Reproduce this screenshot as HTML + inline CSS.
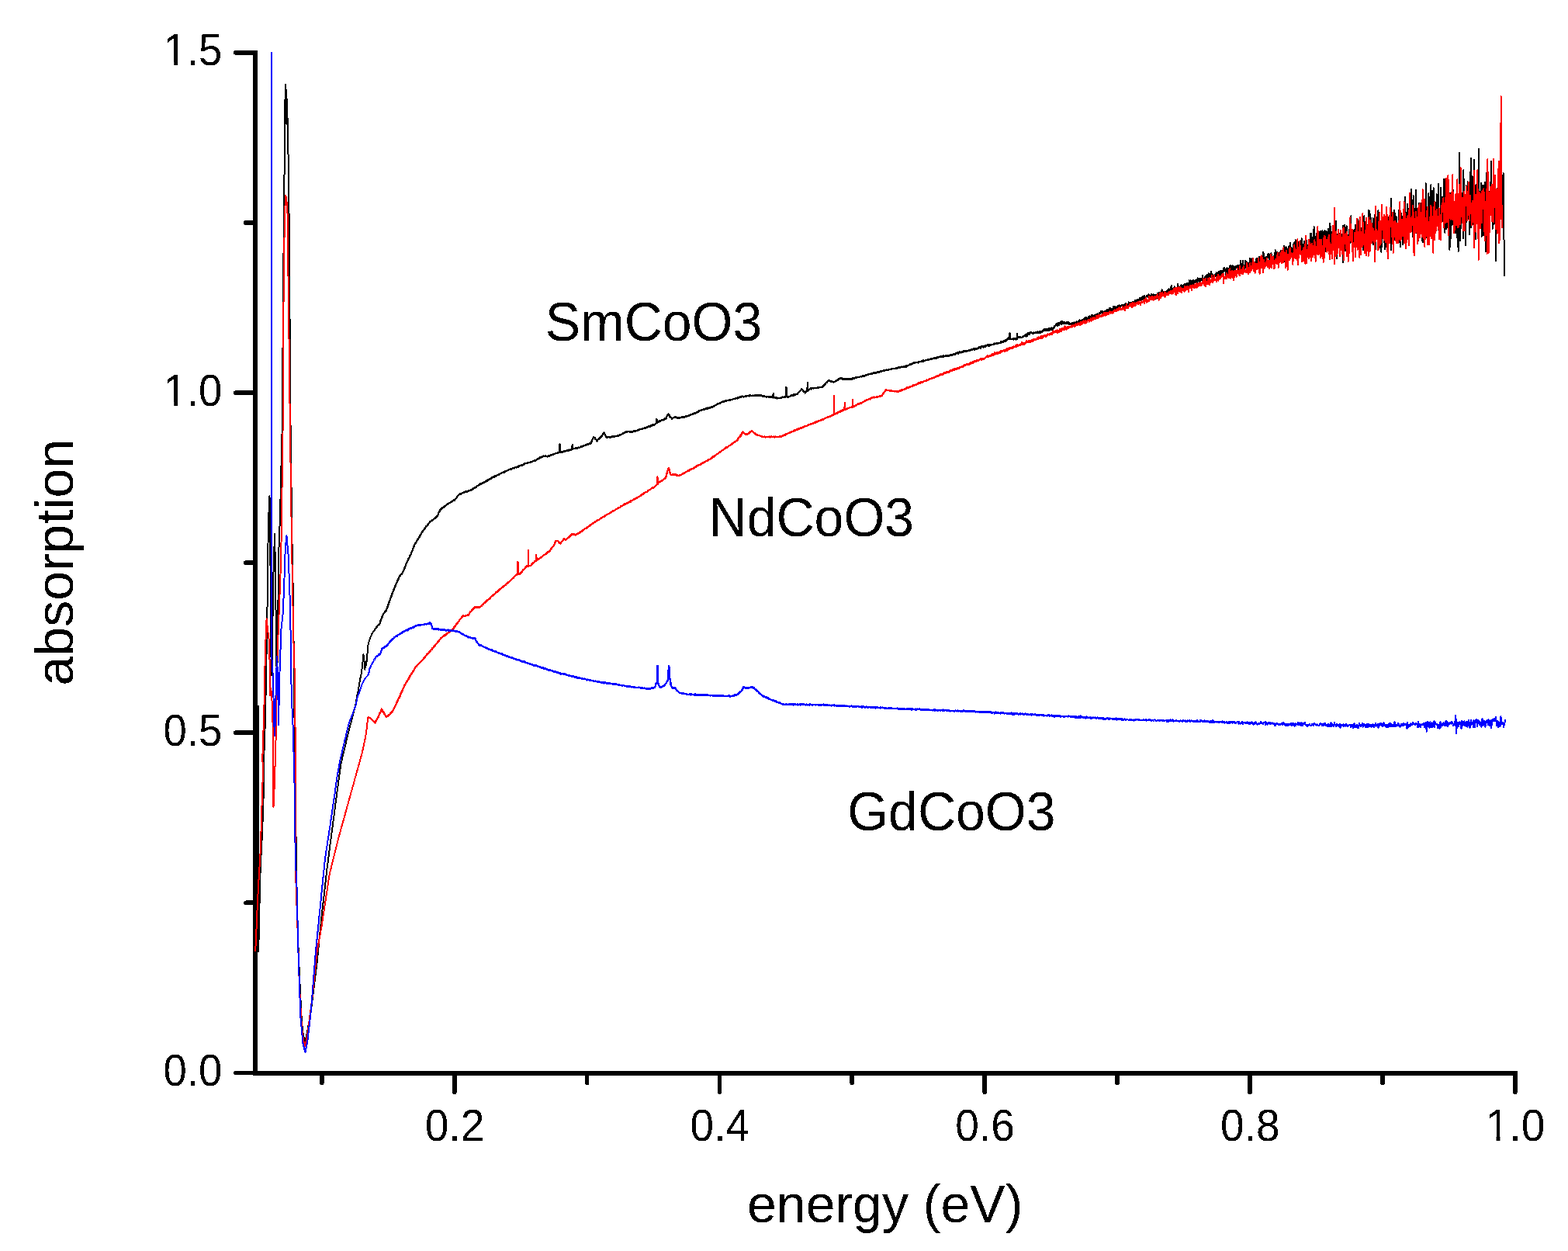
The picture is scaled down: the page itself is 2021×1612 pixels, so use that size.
<!DOCTYPE html>
<html><head><meta charset="utf-8"><title>absorption vs energy</title>
<style>html,body{margin:0;padding:0;background:#fff;overflow:hidden}svg{display:block}</style>
</head><body>
<svg width="2021" height="1612" viewBox="0 0 2021 1612" font-family="'Liberation Sans', Arial, sans-serif">
<defs><filter id="bin" x="0" y="0" width="2021" height="1612" filterUnits="userSpaceOnUse" color-interpolation-filters="sRGB"><feComponentTransfer><feFuncA type="discrete" tableValues="0 1"/></feComponentTransfer></filter></defs>
<rect width="2021" height="1612" fill="#fff"/>

<g filter="url(#bin)">
<path d="M329.0 64.9V1385.4" stroke="#000" stroke-width="5.7" fill="none"/>
<path d="M326.1 1382.6H1955.6" stroke="#000" stroke-width="5.7" fill="none"/>
<path d="M327.5 1382.5H303.9M327.5 944.2H303.9M327.5 506.0H303.9M327.5 67.8H303.9M327.5 1163.4H316.9M327.5 725.1H316.9M327.5 286.9H316.9M585.7 1384.1V1407.2M927.5 1384.1V1407.2M1269.2 1384.1V1407.2M1611.0 1384.1V1407.2M1952.7 1384.1V1407.2M414.8 1384.1V1395.2M756.6 1384.1V1395.2M1098.3 1384.1V1395.2M1440.1 1384.1V1395.2M1781.9 1384.1V1395.2" stroke="#000" stroke-width="5.7" stroke-linecap="round" fill="none"/>
</g>
<g fill="none" stroke-width="2" stroke-linejoin="round" stroke-linecap="butt" shape-rendering="crispEdges">
<path stroke="#000" d="M332.6 909.0L332.6 1130.0L333.2 1226.0L334.2 1180.0L335.1 1134.0L336.6 1100.0L338.0 1074.0L339.2 1040.0L340.3 1000.0L340.2 976.0L341.5 940.0L342.3 907.0L343.2 860.0L344.3 800.0L345.5 700.0L346.5 660.0L347.5 639.0L348.3 700.0L349.3 840.0L350.3 870.0L351.5 795.0L352.8 720.0L354.2 688.0L355.2 760.0L356.3 853.0L357.2 880.0L358.2 800.0L359.2 714.0L361.0 665.0L362.5 600.0L363.5 560.0L364.5 450.0L365.2 351.0L366.1 281.0L367.0 160.0L367.6 122.0L368.3 109.0L368.9 125.0L369.5 160.0L370.1 128.0L370.7 162.0L371.0 173.5L372.2 234.0L373.0 340.0L374.6 560.0L376.5 700.0L377.7 760.0L378.3 800.0L379.0 886.0L380.5 1000.0L381.8 1100.0L383.0 1183.0L386.0 1257.6L388.9 1317.2L391.0 1335.0L393.4 1342.0L396.0 1330.0L400.9 1302.8L401.4 1298.1L401.9 1294.2L402.4 1289.9L402.9 1286.0L403.4 1281.9L403.9 1278.2L404.4 1273.9L404.9 1269.9L405.4 1266.3L405.9 1261.6L406.4 1258.2L406.9 1253.9L407.4 1249.7L407.9 1245.9L408.4 1241.6L408.9 1236.8L409.4 1231.7L409.9 1227.2L410.4 1222.1L410.9 1217.1L411.4 1211.5L411.9 1206.8L412.4 1202.2L412.9 1197.1L413.4 1191.9L413.9 1186.9L414.4 1182.4L414.9 1177.2L415.4 1173.0L415.9 1168.5L416.4 1164.7L416.9 1159.6L417.4 1155.5L417.9 1151.5L418.4 1146.6L418.9 1142.3L419.4 1137.9L419.9 1133.6L420.4 1129.6L420.9 1124.3L421.4 1120.1L421.9 1116.4L422.4 1112.8L422.9 1108.3L423.4 1104.9L423.9 1100.9L424.4 1097.1L424.9 1092.8L425.4 1088.9L425.9 1085.6L426.4 1081.7L426.9 1077.9L427.4 1073.8L427.9 1070.7L428.4 1066.5L428.9 1063.4L429.4 1058.8L429.9 1055.2L430.4 1051.5L430.9 1047.4L431.4 1043.5L431.9 1039.8L432.4 1036.2L432.9 1032.3L433.4 1029.1L433.9 1024.7L434.4 1021.3L434.9 1017.5L435.4 1013.6L435.9 1009.5L436.4 1006.2L436.9 1002.5L437.4 998.7L437.9 995.2L438.4 991.2L438.9 988.0L439.4 984.7L439.9 982.2L440.4 980.2L440.9 977.9L441.4 975.9L441.9 973.5L442.4 971.9L442.9 969.8L443.4 967.5L443.9 965.7L444.4 963.3L444.9 961.2L445.4 959.1L445.9 957.6L446.4 954.6L446.9 953.0L447.4 950.8L447.9 948.8L448.4 946.3L448.9 944.8L449.4 942.7L449.9 940.3L450.4 938.4L450.9 936.6L451.4 934.9L451.9 932.4L452.4 931.2L452.9 928.9L453.4 927.3L453.9 925.0L454.4 923.8L454.9 921.5L455.4 919.9L455.9 917.4L456.4 915.5L456.9 914.1L457.4 912.1L457.9 910.1L458.4 907.6L458.9 904.6L459.4 901.7L459.9 898.5L460.4 895.8L460.9 894.0L461.4 891.4L461.9 888.5L462.4 886.2L462.9 882.8L463.4 879.7L463.9 876.9L464.4 873.9L464.9 872.0L465.4 869.7L465.9 866.6L466.4 863.0L466.9 858.9L467.4 854.3L467.9 847.6L468.4 843.0L468.9 846.6L469.4 851.7L469.9 858.7L470.4 863.0L470.9 854.8L471.4 852.2L471.9 857.1L472.4 854.4L472.9 848.4L473.4 843.5L473.9 837.0L474.4 831.8L474.9 829.8L475.4 827.5L475.9 825.4L476.4 824.2L476.9 822.5L477.4 821.6L477.9 819.9L478.4 819.5L478.9 818.4L479.4 816.9L479.9 816.3L480.4 815.2L480.9 814.6L481.4 813.8L481.9 812.8L482.4 812.2"/>
<path stroke="#000" stroke-width="2.4" d="M482.4 812.2L482.9 811.8L483.4 810.8L483.9 810.4L484.4 809.5L484.9 808.8L485.4 807.8L485.9 807.6L486.4 806.5L486.9 806.2L487.4 805.5L487.9 805.4L488.4 804.5L488.9 804.5L489.4 803.8L489.9 802.1L490.4 800.1L490.9 799.5L491.4 798.0L491.9 796.8L492.4 795.4L492.9 794.3L493.4 793.0L493.9 791.8L494.4 790.8L494.9 790.4L495.4 789.9L495.9 788.6L496.4 788.4L496.9 787.2L497.4 787.2L497.9 786.6L498.4 784.9L498.9 783.2L499.4 782.1L499.9 780.8L500.4 779.5L500.9 778.0L501.4 776.5L501.9 774.6L502.4 773.5L502.9 772.3L503.4 770.8L503.9 769.0L504.4 768.1L504.9 766.6L505.4 765.5L505.9 764.2L506.4 762.5L506.9 761.4L507.4 760.4L507.9 758.9L508.4 757.9L508.9 756.5L509.4 755.3L509.9 754.4L510.4 752.9L510.9 751.6L511.4 750.9L511.9 749.3L512.4 748.2L512.9 747.0L513.4 746.6L513.9 744.8L514.4 743.7L514.9 742.5L515.4 742.2L515.9 741.7L516.4 740.5L516.9 740.3L517.4 740.0L517.9 739.4L518.4 738.4L518.9 738.3L519.4 736.9L519.9 736.3L520.4 734.9L520.9 733.3L521.4 732.5L521.9 730.7L522.4 729.6L522.9 728.4L523.4 726.9L523.9 726.2L524.4 724.6L524.9 723.3L525.4 722.7L525.9 721.6L526.4 720.3L526.9 719.5L527.4 718.8L527.9 717.8L528.4 716.2L528.9 715.9L529.4 714.9L529.9 713.7L530.4 712.0L530.9 710.7L531.4 709.6L531.9 708.2L532.4 707.0L532.9 705.7L533.4 704.5L533.9 703.2L534.4 702.0L534.9 701.2L535.4 700.2L535.9 699.3L536.4 698.9L536.9 697.9L537.4 696.9L537.9 695.7L538.4 695.2L538.9 694.1L539.4 693.5L539.9 692.6L540.4 692.4L540.9 690.9L541.4 689.9L541.9 689.6L542.4 688.8L542.9 688.1L543.4 686.3L543.9 685.9L544.4 685.1L544.9 684.1L545.4 683.8L545.9 683.2L546.4 682.7L546.9 682.0L547.4 681.1L547.9 680.9L548.4 679.9L548.9 678.5L549.4 678.5L549.9 677.7L550.4 677.4L550.9 676.5L551.4 675.9L551.9 675.7L552.4 674.5L552.9 673.7L553.4 673.5L553.9 673.0L554.4 672.2L554.9 671.9L555.4 671.4L555.9 670.8L556.4 670.6L556.9 670.2L557.4 670.4L557.9 669.7L558.4 669.7L558.9 669.0L559.4 668.4L559.9 668.3L560.4 668.0L560.9 667.9L561.4 666.7L561.9 666.8L562.4 666.6L562.9 666.0L563.4 665.3L563.9 664.2L564.4 663.7L564.9 662.6L565.4 660.8L565.9 659.9L566.4 659.1L566.9 658.3L567.4 657.3L567.9 656.2L568.4 656.0L568.9 655.7L569.4 655.1L569.9 654.6L570.4 654.4L570.9 653.8L571.4 653.9L571.9 653.5L572.4 652.7L572.9 652.9L573.4 652.2L573.9 652.1L574.4 651.5L574.9 651.1L575.4 650.9L575.9 650.2L576.4 650.0L576.9 649.4L577.4 649.5L577.9 649.0L578.4 648.7L578.9 648.3L579.4 648.3L579.9 647.9L580.4 647.5L580.9 647.1L581.4 647.3L581.9 647.0L582.4 646.0L582.9 646.3L583.4 645.8L583.9 645.4L584.4 645.1L584.9 644.4L585.4 645.0L585.9 644.6L586.4 643.8L586.9 643.2L587.4 642.6L587.9 641.8L588.4 641.5L588.9 640.7L589.4 639.8L589.9 639.4L590.4 638.7L590.9 638.1L591.4 637.6L591.9 637.2L592.4 636.6L592.9 636.1L593.4 636.7L593.9 636.0L594.4 636.3L594.9 635.8L595.4 635.6L595.9 635.1L596.4 635.1L596.9 634.8L597.4 634.7L597.9 634.6L598.4 634.3L598.9 634.4L599.4 633.7L599.9 633.6L600.4 633.8L600.9 633.6L601.4 633.6L601.9 633.6L602.4 633.1L602.9 633.0L603.4 632.7L603.9 632.5L604.4 632.3L604.9 632.2L605.4 631.9L605.9 631.8L606.4 631.9L606.9 631.6L607.4 631.6L607.9 630.9L608.4 630.6L608.9 630.5L609.4 629.9L609.9 629.6L610.4 629.7L610.9 629.2L611.4 629.2L611.9 628.7L612.4 628.3L612.9 627.8L613.4 628.0L613.9 627.3L614.4 626.8L614.9 626.3L615.4 626.0L615.9 625.8L616.4 625.9L616.9 625.0L617.4 625.0L617.9 624.6L618.4 623.4L618.9 623.7L619.4 623.9L619.9 623.0L620.4 623.5L620.9 623.0L621.4 622.3L621.9 622.9L622.4 622.2L622.9 622.3L623.4 621.7L623.9 621.3L624.4 621.5L624.9 621.4L625.4 621.0L625.9 620.1L626.4 620.3L626.9 619.6L627.4 619.5L627.9 619.7L628.4 618.7L628.9 619.4L629.4 618.1L629.9 617.9L630.4 618.1L630.9 617.6L631.4 617.3L631.9 616.9L632.4 617.0L632.9 616.6L633.4 616.2L633.9 615.8L634.4 615.3L634.9 615.4L635.4 614.6L635.9 614.7L636.4 614.8L636.9 614.5L637.4 614.0L637.9 613.2L638.4 613.8L638.9 613.6L639.4 613.1L639.9 613.2L640.4 612.9L640.9 611.9L641.4 612.1L641.9 611.7L642.4 612.0L642.9 611.6L643.4 611.2L643.9 611.0L644.4 610.8L644.9 610.2L645.4 610.1L645.9 609.9L646.4 609.6L646.9 609.4L647.4 609.3L647.9 608.7L648.4 608.5L648.9 608.8L649.4 608.7L649.9 608.6L650.4 607.4L650.9 607.8L651.4 607.2L651.9 607.1L652.4 606.9L652.9 606.9L653.4 606.7L653.9 605.7L654.4 605.9L654.9 606.1L655.4 605.7L655.9 605.0L656.4 604.9L656.9 604.8L657.4 605.1L657.9 605.1L658.4 604.2L658.9 604.5L659.4 604.1L659.9 604.1L660.4 603.7L660.9 603.3L661.4 603.3L661.9 603.1L662.4 603.5L662.9 602.7L663.4 602.9L663.9 602.4L664.4 602.2L664.9 602.3L665.4 601.9L665.9 602.4L666.4 602.0L666.9 601.2L667.4 601.5L667.9 601.5L668.4 600.6L668.9 600.7L669.4 600.9L669.9 600.1L670.4 600.3L670.9 599.9L671.4 599.8L671.9 599.3L672.4 599.4L672.9 599.1L673.4 599.4L673.9 598.9L674.4 598.6L674.9 598.4L675.4 598.4L675.9 597.6L676.4 597.5L676.9 597.4L677.4 597.2L677.9 596.8L678.4 597.2L678.9 596.8L679.4 597.1L679.9 596.6L680.4 596.3L680.9 596.4L681.4 596.2L681.9 595.9L682.4 596.0L682.9 596.0L683.4 595.4L683.9 595.7L684.4 595.2L684.9 595.3L685.4 594.9L685.9 594.7L686.4 594.7L686.9 594.2L687.4 593.9L687.9 594.2L688.4 594.0L688.9 593.6L689.4 594.1L689.9 593.4L690.4 592.8L690.9 592.8L691.4 592.5L691.9 592.0L692.4 591.8L692.9 591.1L693.4 591.3L693.9 591.4L694.4 590.9L694.9 590.6L695.4 589.9L695.9 589.6L696.4 589.9L696.9 589.5L697.4 589.2L697.9 589.0L698.4 589.1L698.9 588.8L699.4 588.3L699.9 588.2L700.4 587.6L700.9 587.6L701.4 588.0L701.9 587.7L702.4 587.6L702.9 587.9L703.4 588.2L703.9 587.6L704.4 587.8L704.9 587.8L705.4 588.5L705.9 588.1L706.4 587.9L706.9 587.5L707.4 588.1L707.9 587.8L708.4 587.4L708.9 587.1L709.4 586.9L709.9 586.4L710.4 586.6L710.9 586.3L711.4 586.0L711.9 586.0L712.4 585.4L712.9 585.9L713.4 585.4L713.9 584.9L714.4 585.2L714.9 585.0L715.4 584.5L715.9 584.1L716.4 584.2L716.9 584.1L717.4 584.0L717.9 583.9L718.4 583.7L718.9 583.0L719.4 583.3L719.9 582.7L720.4 583.3L720.9 583.1L721.2 583.1L721.5 572.7L721.8 583.1L721.9 582.8L722.4 582.7L722.9 582.5L723.4 581.8L723.9 582.4L724.4 582.9L724.9 582.5L725.4 582.0L725.9 582.0L726.4 581.9L726.9 581.5L727.4 581.5L727.9 581.5L728.4 581.2L728.9 581.3L729.4 581.3L729.9 581.1L730.4 580.8L730.9 580.6L731.4 580.7L731.9 580.3L732.4 580.1L732.9 580.5L733.4 579.9L733.9 579.6L734.4 580.0L734.9 579.8L735.4 579.8L735.9 579.4L736.4 579.6L736.9 579.1L737.4 578.7L737.5 578.7L737.8 572.7L738.1 578.7L738.4 578.7L738.9 578.2L739.4 578.2L739.9 578.2L740.4 577.9L740.9 577.9L741.4 577.8L741.9 577.5L742.4 577.7L742.9 577.6L743.4 576.9L743.9 577.1L744.4 577.4L744.9 577.2L745.4 576.5L745.9 576.9L746.4 577.0L746.9 576.7L747.4 576.4L747.9 576.0L748.4 575.9L748.9 575.4L749.4 575.5L749.9 575.9L750.4 575.1L750.9 574.7L751.4 574.9L751.9 574.0L752.4 574.9L752.9 574.3L753.4 573.9L753.9 573.7L754.4 573.4L754.9 573.5L755.4 573.3L755.9 572.7L756.4 573.2L756.9 572.6L757.4 572.3L757.9 572.6L758.4 572.4L758.9 571.9L759.4 571.7L759.9 571.9L760.4 571.4L760.9 571.4L761.4 571.5L761.9 570.4L762.4 569.1L762.9 568.1L763.4 566.9L763.9 565.8L764.4 564.9L764.9 563.3L765.4 563.7L765.9 563.9L766.4 563.9L766.9 564.9L767.4 565.7L767.9 566.4L768.4 566.5L768.9 567.2L769.4 568.4L769.9 567.4L770.4 566.7L770.9 566.1L771.4 565.9L771.9 565.6L772.4 564.8L772.9 565.0L773.4 564.0L773.9 563.2L774.4 563.4L774.9 562.8L775.4 562.3L775.9 562.2L776.4 560.7L776.9 559.9L777.4 558.4L777.9 557.8L778.4 557.5L778.9 558.5L779.4 559.6L779.9 560.4L780.4 561.5L780.9 562.4L781.4 563.6L781.9 563.4L782.4 563.2L782.9 563.4L783.4 563.4L783.9 563.0L784.4 563.1L784.9 562.8L785.4 563.2L785.9 563.3L786.4 563.7L786.9 563.1L787.4 563.3L787.9 563.3L788.4 563.1L788.9 562.4L789.4 562.7L789.9 562.8L790.4 562.7L790.9 562.6L791.4 562.2L791.9 561.9L792.4 562.3L792.9 562.4L793.4 561.9L793.9 562.1L794.4 561.7L794.9 561.7L795.4 561.5L795.9 561.7L796.4 561.2L796.9 561.3L797.4 561.4L797.9 561.1L798.4 560.7L798.9 561.0L799.4 560.6L799.9 560.0L800.4 560.0L800.9 559.7L801.4 559.7L801.9 559.1L802.4 559.0L802.9 558.9L803.4 558.0L803.9 558.4L804.4 557.9L804.9 557.4L805.4 557.4L805.9 557.3L806.4 556.6L806.9 556.4L807.4 556.6L807.9 556.4L808.4 556.5L808.9 556.1L809.4 555.9L809.9 555.9L810.4 556.1L810.9 555.9L811.4 556.3L811.9 556.5L812.4 556.0L812.9 556.6L813.4 556.1L813.9 556.2L814.4 556.0L814.9 556.6L815.4 556.3L815.9 556.2L816.4 555.3L816.9 555.7L817.4 555.8L817.9 554.9L818.4 555.9L818.9 555.3L819.4 555.4L819.9 554.9L820.4 555.0L820.9 555.0L821.4 555.1L821.9 554.1L822.4 554.7L822.9 553.7L823.4 553.9L823.9 553.6L824.4 553.5L824.9 552.9L825.4 553.2L825.9 552.8L826.4 552.9L826.9 552.8L827.4 552.6L827.9 552.4L828.4 552.7L828.9 552.2L829.4 552.1L829.9 552.2L830.4 551.7L830.9 551.5L831.4 551.5L831.9 551.1L832.4 551.3L832.9 550.7L833.4 550.7L833.9 550.5L834.4 550.3L834.9 550.2L835.4 550.0L835.9 549.3L836.4 550.0L836.9 549.5L837.4 549.6L837.9 549.0L838.4 549.3L838.9 548.6L839.4 549.2L839.9 548.6L840.4 548.4L840.9 547.6L841.4 547.6L841.9 547.9L842.4 547.7L842.9 547.5L843.4 547.4L843.9 547.3L844.4 546.6L844.9 546.2L845.4 545.7L845.9 545.2L846.1 545.1L846.4 540.1L846.7 545.1L846.9 544.5L847.4 544.1L847.9 543.9L848.4 543.6L848.9 543.6L849.4 543.4L849.9 542.6L850.4 542.5L850.9 542.8L851.4 542.2L851.9 542.3L852.4 541.7L852.9 541.1L853.4 540.9L853.9 541.1L854.4 540.9L854.9 541.4L855.4 540.8L855.9 540.6L856.4 540.4L856.9 539.6L857.4 539.8L857.9 539.6L858.4 539.7L858.9 538.0L859.4 536.8L859.9 536.1L860.4 535.0L860.9 534.1L861.4 533.7L861.9 534.4L862.4 534.9L862.9 535.6L863.4 536.9L863.9 536.9L864.4 537.8L864.9 538.1L865.4 538.6L865.9 539.5L866.4 539.1L866.9 539.1L867.4 538.8L867.9 538.4L868.4 537.9L868.9 538.3L869.4 537.6L869.9 537.8L870.4 537.4L870.9 537.6L871.4 537.7L871.9 537.8L872.4 537.8L872.9 538.7L873.4 538.0L873.9 538.0L874.4 538.7L874.9 538.4L875.4 538.7L875.9 538.3L876.4 538.6L876.9 538.2L877.4 537.9L877.9 537.9L878.4 538.0L878.9 537.6L879.4 537.4L879.9 537.5L880.4 537.5L880.9 537.6L881.4 537.3L881.9 537.3L882.4 537.0L882.9 537.4L883.4 537.3L883.9 536.5L884.4 536.7L884.9 536.5L885.4 536.5L885.9 536.2L886.4 536.0L886.9 535.7L887.4 535.6L887.9 535.5L888.4 535.6L888.9 535.2L889.4 534.8L889.9 534.5L890.4 534.1L890.9 534.4L891.4 534.0L891.9 533.9L892.4 533.8L892.9 533.5L893.4 533.1L893.9 532.8L894.4 532.5L894.9 532.3L895.4 532.4L895.9 532.6L896.4 531.7L896.9 531.7L897.4 532.2L897.9 531.2L898.4 530.9L898.9 530.7L899.4 530.5L899.9 529.8L900.4 530.3L900.9 529.4L901.4 529.5L901.9 529.3L902.4 529.3L902.9 528.9L903.4 528.7L903.9 528.5L904.4 528.6L904.9 528.3L905.4 528.0L905.9 527.7L906.4 527.7L906.9 527.8L907.4 527.2L907.9 527.5L908.4 527.3L908.9 527.4L909.4 526.8L909.9 526.6L910.4 526.7L910.9 526.5L911.4 525.7L911.9 526.5L912.4 526.2L912.9 526.0L913.4 525.6L913.9 525.7L914.4 525.4L914.9 525.7L915.4 525.4L915.9 525.4L916.4 524.6L916.9 524.5L917.4 524.5L917.9 524.2L918.4 524.5L918.9 524.0L919.4 523.4L919.9 523.3L920.4 523.6L920.9 522.8L921.4 522.8L921.9 522.0L922.4 522.0L922.9 521.9L923.4 521.6L923.9 521.4L924.4 521.3L924.9 521.2L925.4 520.2L925.9 520.4L926.4 520.3L926.9 520.0L927.4 520.0L927.9 519.4L928.4 519.1L928.9 518.7L929.4 518.9L929.9 518.1L930.4 518.1L930.9 517.9L931.4 517.9L931.9 517.6L932.4 517.3L932.9 517.6L933.4 517.0L933.9 517.0L934.4 516.5L934.9 516.9L935.4 516.8L935.9 516.2L936.4 516.5L936.9 516.5L937.4 516.1L937.9 515.7L938.4 516.0L938.9 516.0L939.4 515.3L939.9 515.8L940.4 515.5L940.9 515.6L941.4 515.0L941.9 515.4L942.4 515.1L942.9 515.1L943.4 514.8L943.9 514.8L944.4 514.4L944.9 514.2L945.4 513.9L945.9 513.7L946.4 513.9L946.9 513.7L947.4 513.6L947.9 513.4L948.4 513.4L948.9 513.2L949.4 512.9L949.9 513.1L950.4 513.3L950.9 512.4L951.4 512.4L951.9 512.5L952.4 512.1L952.9 512.4L953.4 511.8L953.9 511.5L954.4 511.4L954.9 511.8L955.4 510.9L955.9 511.3L956.4 510.6L956.9 511.3L957.4 511.1L957.9 511.1L958.4 511.4L958.9 510.7L959.4 511.0L959.9 510.7L960.4 510.8L960.9 510.2L961.4 510.6L961.9 510.2L962.4 510.5L962.9 510.3L963.4 510.0L963.9 510.1L964.4 510.0L964.9 509.8L965.4 510.4L965.9 509.5L966.4 509.4L966.9 509.4L967.4 509.7L967.9 509.7L968.4 509.9L968.9 510.0L969.4 509.8L969.9 509.8L970.4 509.5L970.9 510.0L971.4 510.1L971.9 509.7L972.4 509.9L972.9 509.6L973.4 509.7L973.9 509.8L974.4 510.0L974.9 509.4L975.4 509.8L975.9 510.0L976.4 509.8L976.9 509.9L977.4 509.1L977.9 509.5L978.4 509.6L978.9 509.5L979.4 509.2L979.9 510.0L980.4 509.9L980.9 509.4L981.4 509.9L981.9 510.1L982.4 510.5L982.9 510.5L983.4 510.2L983.9 510.4L984.4 510.7L984.9 511.0L985.4 510.7L985.9 510.8L986.4 511.2L986.9 511.2L987.4 511.6L987.9 511.4L988.4 511.5L988.9 510.8L989.4 511.0L989.9 511.0L990.4 511.3L990.9 511.6L991.4 511.5L991.9 511.7L992.4 511.4L992.9 511.9L993.4 511.9L993.9 511.3L994.4 511.5L994.9 511.6L995.4 512.0L995.9 512.1L996.4 512.4L996.5 511.6L996.8 506.7L997.1 511.6L997.4 512.2L997.9 512.2L998.4 512.3L998.9 512.4L999.4 512.0L999.9 512.7L1000.4 512.6L1000.9 512.5L1001.4 513.3L1001.9 512.9L1002.4 513.2L1002.9 513.1L1003.4 512.9L1003.9 513.2L1004.4 513.3L1004.9 512.8L1005.4 513.0L1005.9 513.2L1006.4 512.9L1006.9 512.4L1007.4 512.1L1007.9 512.4L1008.4 511.7L1008.9 511.6L1009.4 512.2L1009.9 511.7L1010.4 511.6L1010.9 511.2L1011.4 511.9L1011.9 512.0L1012.4 511.2L1012.9 511.4L1013.1 511.1L1013.4 499.3L1013.7 511.1L1013.9 511.3L1014.4 511.6L1014.9 511.5L1015.4 511.2L1015.9 511.3L1016.4 511.9L1016.9 511.3L1017.4 511.3L1017.9 510.9L1018.4 510.5L1018.9 510.1L1019.4 510.0L1019.9 509.6L1020.4 509.6L1020.9 509.5L1021.4 509.7L1021.9 509.0L1022.4 509.3L1022.9 508.6L1023.4 509.6L1023.9 508.6L1024.4 508.6L1024.9 508.8L1025.4 508.2L1025.9 508.1L1026.4 507.9L1026.9 507.9L1027.4 507.4L1027.9 507.6L1028.4 506.9L1028.9 506.1L1029.4 505.9L1029.9 505.1L1030.4 504.4L1030.9 504.0L1031.4 503.7L1031.9 502.7L1032.4 502.5L1032.9 502.1L1033.4 501.2L1033.9 502.2L1034.4 502.5L1034.9 503.4L1035.4 503.9L1035.9 504.7L1036.4 505.0L1036.9 505.3L1037.4 505.1L1037.9 506.4L1038.4 504.7L1038.9 504.5L1039.4 504.0L1039.9 504.4L1040.4 503.9L1040.6 503.6L1040.9 493.4L1041.2 503.6L1041.4 502.7L1041.9 503.0L1042.4 502.1L1042.9 502.3L1043.4 501.6L1043.9 500.7L1044.4 500.9L1044.9 500.5L1045.4 501.3L1045.9 500.3L1046.4 500.5L1046.9 500.4L1047.4 500.2L1047.9 500.2L1048.4 500.3L1048.9 500.3L1049.4 500.0L1049.9 500.0L1050.4 500.0L1050.9 499.7L1051.4 499.8L1051.9 499.8L1052.4 500.0L1052.9 499.8L1053.4 499.7L1053.9 499.7L1054.4 499.2L1054.9 499.6L1055.4 499.2L1055.9 499.2L1056.4 499.0L1056.9 499.2L1057.4 498.8L1057.9 499.1L1058.4 498.8L1058.9 498.7L1059.4 498.8L1059.9 498.4L1060.4 498.7L1060.9 497.6L1061.4 497.1L1061.9 497.0L1062.4 495.8L1062.9 495.8L1063.4 495.1L1063.9 494.5L1064.4 494.0L1064.9 493.2L1065.4 493.3L1065.9 492.4L1066.4 491.9L1066.9 491.4L1067.4 490.9L1067.9 490.6L1068.4 490.4L1068.9 490.4L1069.4 490.6L1069.9 491.0L1070.4 491.5L1070.9 491.0L1071.4 491.4L1071.9 491.8L1072.4 491.7L1072.9 491.9L1073.4 491.8L1073.9 492.3L1074.4 492.3L1074.9 492.4L1075.4 492.2L1075.9 492.1L1076.4 491.9L1076.9 491.1L1077.4 491.2L1077.9 490.5L1078.4 490.0L1078.9 489.9L1079.4 489.8L1079.9 489.5L1080.4 489.3L1080.9 488.3L1081.4 488.9L1081.9 488.4L1082.4 488.1L1082.9 487.2L1083.4 487.6L1083.9 487.5L1084.4 487.6L1084.9 487.9L1085.4 487.7L1085.9 488.5L1086.4 488.6L1086.9 488.7L1087.4 488.9L1087.9 488.1L1088.4 488.5L1088.9 488.5L1089.4 488.2L1089.9 488.7L1090.4 489.1L1090.9 488.2L1091.4 488.6L1091.9 488.5L1092.4 488.5L1092.9 488.5L1093.4 488.6L1093.9 488.2L1094.4 488.3L1094.9 488.8L1095.4 488.4L1095.9 488.3L1096.4 487.9L1096.9 488.4L1097.4 488.5L1097.9 488.3L1098.4 488.5L1098.9 487.5L1099.4 488.1L1099.9 487.3L1100.4 487.3L1100.9 487.0L1101.4 487.5L1101.9 487.1L1102.4 486.9L1102.9 486.9L1103.4 486.2L1103.9 486.5L1104.4 486.6L1104.9 486.2L1105.4 486.2L1105.9 485.7L1106.4 486.0L1106.9 485.7L1107.4 485.7L1107.9 485.9L1108.4 485.4L1108.9 485.1L1109.4 485.2L1109.9 484.7L1110.4 485.3L1110.9 484.7L1111.4 484.6L1111.9 484.6L1112.4 484.0L1112.9 484.2L1113.4 484.0L1113.9 484.5L1114.4 484.2L1114.9 484.1L1115.4 483.5L1115.9 483.4L1116.4 483.5L1116.9 483.0L1117.4 482.8L1117.9 483.3L1118.4 482.9L1118.9 482.8L1119.4 482.1L1119.9 482.3L1120.4 482.2L1120.9 482.0L1121.4 482.1L1121.9 481.7L1122.4 481.5L1122.9 482.2L1123.4 481.7L1123.9 481.2L1124.4 481.9L1124.9 481.3L1125.4 481.2L1125.9 480.3L1126.4 481.2L1126.9 480.8L1127.4 480.9L1127.9 480.9L1128.4 480.0L1128.9 480.7L1129.4 480.3L1129.9 480.0L1130.4 479.3L1130.9 480.2L1131.4 479.7L1131.9 479.6L1132.4 479.1L1132.9 479.4L1133.4 479.2L1133.9 479.4L1134.4 478.6L1134.9 478.2L1135.4 478.4L1135.9 478.2L1136.4 478.4L1136.9 478.2L1137.4 478.1L1137.9 478.3L1138.4 478.3L1138.9 477.7L1139.4 477.2L1139.9 477.5L1140.4 477.3L1140.9 477.3L1141.4 477.1L1141.9 477.1L1142.4 476.4L1142.9 477.0L1143.4 476.9L1143.9 476.8L1144.4 476.5L1144.9 476.7L1145.4 475.9L1145.9 476.2L1146.4 476.3L1146.9 475.9L1147.4 475.9L1147.9 476.1L1148.4 475.7L1148.9 475.4L1149.4 475.4L1149.9 475.5L1150.4 475.1L1150.9 475.2L1151.4 475.0L1151.9 475.1L1152.4 475.1L1152.9 475.0L1153.4 474.8L1153.9 474.7L1154.4 474.8L1154.9 474.3L1155.4 474.4L1155.9 474.0L1156.4 474.4L1156.9 474.1L1157.4 473.7L1157.9 473.8L1158.4 474.0L1158.9 473.7L1159.4 473.1L1159.9 473.9L1160.4 473.3L1160.9 473.4L1161.4 473.2L1161.9 472.9L1162.4 472.6L1162.9 473.0L1163.4 472.8L1163.9 472.7L1164.4 472.7L1164.9 472.6L1165.4 472.1L1165.9 472.1L1166.4 472.4L1166.9 471.8L1167.4 472.6L1167.9 471.6L1168.4 472.5L1168.9 471.9L1169.4 471.2L1169.9 471.4L1170.4 471.2L1170.9 470.7L1171.4 470.7L1171.9 470.4L1172.4 469.4L1172.9 470.3L1173.4 469.9L1173.9 469.6L1174.4 469.5L1174.9 469.2L1175.4 468.6L1175.9 469.1L1176.4 468.5L1176.9 468.0L1177.4 467.9L1177.9 467.7L1178.4 467.2L1178.9 467.8L1179.4 467.1L1179.9 467.4L1180.4 466.8L1180.9 467.1L1181.4 466.9L1181.9 467.1L1182.4 466.9L1182.9 467.0L1183.4 467.4L1183.9 466.2L1184.4 466.6L1184.9 466.1L1185.4 465.9L1185.9 465.9L1186.4 466.1L1186.9 466.0L1187.4 465.4L1187.9 465.8L1188.4 465.0L1188.9 465.3L1189.4 465.5L1189.9 464.5L1190.4 465.3L1190.9 464.7L1191.4 464.8L1191.9 464.9L1192.4 464.6L1192.9 464.2L1193.4 464.1L1193.9 464.2L1194.4 464.0L1194.9 464.3L1195.4 463.7L1195.9 464.2L1196.4 463.6L1196.9 463.3L1197.4 463.5L1197.9 462.9L1198.4 462.8L1198.9 463.3L1199.4 462.4L1199.9 462.5L1200.4 462.9L1200.9 462.5L1201.4 462.4L1201.9 462.4L1202.4 462.1L1202.9 462.2L1203.4 461.8L1203.9 461.2L1204.4 461.5L1204.9 461.9L1205.4 461.2L1205.9 461.1L1206.4 461.2L1206.9 461.5L1207.4 460.4L1207.9 460.8L1208.4 460.9L1208.9 460.6L1209.4 460.2L1209.9 460.4L1210.4 460.2L1210.9 459.7L1211.4 459.6L1211.9 459.9L1212.4 459.5L1212.9 459.7L1213.4 459.4L1213.9 459.1L1214.4 459.5L1214.9 459.7L1215.4 458.7L1215.9 458.3L1216.4 459.4L1216.9 459.0L1217.4 459.1L1217.9 458.8L1218.4 459.1L1218.9 459.0L1219.4 458.1L1219.9 458.9L1220.4 458.6L1220.9 459.2L1221.4 458.2L1221.9 457.7L1222.4 458.5L1222.9 458.2L1223.4 458.4L1223.9 457.7L1224.4 458.1L1224.9 457.3L1225.4 457.5L1225.9 458.2L1226.4 456.9L1226.9 457.6L1227.4 457.6L1227.9 457.0L1228.4 456.3L1228.9 456.9L1229.4 456.5L1229.9 456.6L1230.4 456.5L1230.9 456.4L1231.4 456.2L1231.9 456.4L1232.4 454.9L1232.9 454.9L1233.4 455.0L1233.9 454.0L1234.4 455.5L1234.9 454.2L1235.4 455.0L1235.9 455.4L1236.4 454.2L1236.9 453.5L1237.4 454.2L1237.9 453.9L1238.4 454.3L1238.9 453.8L1239.4 453.7L1239.9 454.1L1240.4 454.1L1240.9 453.6L1241.4 453.0L1241.9 452.5L1242.4 452.8L1242.9 452.3L1243.4 452.9L1243.9 453.2L1244.4 453.0L1244.9 452.6L1245.4 453.0L1245.9 452.9L1246.4 451.8L1246.9 452.0L1247.4 452.1L1247.9 451.7L1248.4 451.6L1248.9 451.0L1249.4 451.7L1249.9 450.8L1250.4 451.5L1250.9 451.0L1251.4 450.7L1251.9 450.1L1252.4 450.9L1252.9 449.8L1253.4 450.5L1253.9 449.8L1254.4 449.5L1254.9 449.8L1255.4 449.0L1255.9 450.6L1256.4 449.4L1256.9 449.5L1257.4 449.6L1257.9 450.0L1258.4 449.3L1258.9 449.5L1259.4 449.5L1259.9 449.0L1260.4 448.6L1260.9 448.7L1261.4 447.4L1261.9 448.0L1262.4 447.9L1262.9 447.6L1263.4 447.0L1263.9 448.7L1264.4 446.8L1264.9 447.4L1265.4 445.9L1265.9 446.7L1266.4 446.4L1266.9 446.4L1267.4 445.9L1267.9 447.4L1268.4 446.3L1268.9 446.3L1269.4 446.8L1269.9 445.0L1270.4 446.5L1270.9 445.7L1271.4 445.3L1271.9 445.1L1272.4 444.6L1272.9 444.2L1273.4 444.8L1273.9 445.5L1274.4 445.1L1274.9 445.6L1275.4 444.3L1275.9 444.8L1276.4 444.8L1276.9 444.5L1277.4 444.4L1277.9 444.2L1278.4 444.0L1278.9 443.7L1279.4 443.8L1279.9 443.8L1280.4 443.6L1280.9 443.5L1281.4 442.5L1281.9 443.4L1282.4 442.9L1282.9 443.2L1283.4 442.7L1283.9 442.5L1284.4 443.0L1284.9 441.9L1285.4 442.0L1285.9 442.7L1286.4 442.0L1286.9 442.1L1287.4 442.1L1287.9 442.0L1288.4 441.8L1288.9 441.8L1289.4 441.7L1289.9 440.4L1290.4 441.5L1290.9 441.4L1291.4 441.3L1291.9 439.9L1292.4 440.8L1292.9 440.7L1293.4 440.7L1293.9 439.5L1294.4 439.5L1294.9 439.9L1295.4 439.5L1295.9 438.4L1296.4 439.6L1296.9 438.2L1297.4 437.7L1297.9 436.8L1298.4 437.7L1298.9 436.5L1299.4 436.6L1299.9 435.5L1300.4 435.9L1300.9 436.8L1301.2 436.9L1301.5 429.5L1301.8 436.9L1301.9 436.5L1302.4 436.5L1302.9 437.3L1303.4 437.0L1303.9 437.0L1304.4 437.1L1304.9 437.1L1305.4 437.0L1305.9 436.5L1306.4 437.3L1306.9 436.1L1307.4 436.4L1307.9 436.6L1308.4 436.1L1308.9 436.5L1309.4 437.4L1309.9 436.4L1310.4 437.2L1310.7 436.3L1311.0 430.1L1311.3 436.3L1311.4 435.5L1311.9 434.8L1312.4 434.4L1312.9 434.7L1313.4 433.9L1313.9 434.8L1314.4 434.1L1314.9 434.5L1315.4 434.4L1315.9 434.8L1316.4 435.0L1316.9 435.2L1317.4 434.4L1317.9 434.2L1318.4 434.2L1318.9 432.8L1319.4 433.6L1319.9 432.7L1320.4 433.1L1320.9 432.9L1321.4 431.9L1321.9 431.0L1322.4 431.7L1322.9 433.4L1323.4 432.1L1323.9 433.0L1324.4 430.0L1324.9 429.9L1325.4 429.1L1325.9 429.6L1326.4 431.0L1326.9 430.6L1327.4 428.4L1327.9 429.2L1328.4 428.9L1328.9 428.3L1329.4 429.2L1329.9 429.0L1330.4 429.5L1330.9 429.4L1331.4 429.6L1331.9 429.9L1332.4 428.7L1332.9 428.6L1333.4 429.0L1333.9 429.0L1334.4 429.0L1334.9 428.2L1335.4 427.9L1335.9 429.2L1336.4 428.1L1336.9 428.9L1337.4 427.7L1337.9 428.6L1338.4 429.1L1338.9 428.2L1339.4 428.0L1339.9 427.5L1340.4 429.2L1340.9 427.2L1341.4 427.1L1341.9 427.4L1342.4 428.1L1342.9 427.0L1343.4 426.7L1343.9 427.4L1344.4 425.7L1344.9 425.5L1345.4 425.1L1345.9 426.3L1346.4 423.8L1346.9 424.2L1347.4 425.5L1347.9 425.0L1348.4 426.1L1348.9 424.2L1349.4 424.1L1349.9 425.4L1350.0 425.2L1350.4 425.4L1350.8 424.7L1351.2 424.6L1351.6 423.1L1352.0 423.3L1352.4 425.7L1352.8 424.5L1353.2 422.7L1353.6 424.2L1354.0 425.0L1354.4 424.9L1354.8 424.7L1355.2 422.6L1355.6 424.4L1356.0 423.8L1356.4 425.4L1356.8 423.8L1357.2 423.3L1357.6 423.0L1358.0 422.4L1358.4 422.8L1358.8 421.4L1359.2 420.5L1359.6 419.8L1360.0 420.2L1360.4 419.6L1360.8 419.5L1361.2 418.1L1361.6 418.4L1362.0 417.5L1362.4 419.5L1362.8 419.6L1363.2 419.3L1363.6 418.1L1364.0 417.9L1364.4 416.0L1364.8 416.3L1365.2 418.5L1365.6 416.7L1366.0 417.1L1366.4 416.4L1366.8 414.8L1367.2 415.8L1367.6 417.1L1368.0 417.5L1368.4 413.8L1368.8 414.3L1369.2 415.3L1369.6 416.7L1370.0 416.7L1370.4 416.5L1370.8 417.1L1371.2 415.4L1371.6 415.2L1372.0 416.8L1372.4 415.9L1372.8 416.6L1373.2 416.4L1373.6 416.2L1374.0 417.2L1374.4 415.5L1374.8 415.4L1375.2 416.1L1375.6 417.1L1376.0 416.8L1376.4 417.1L1376.8 415.4L1377.2 416.1L1377.6 417.9L1378.0 416.9L1378.4 416.4L1378.8 417.7L1379.2 416.9L1379.6 417.3L1380.0 417.4"/>
<path stroke="#000" d="M1380.0 417.4L1380.4 416.8L1380.8 418.0L1381.2 418.4L1381.6 418.2L1382.0 416.0L1382.4 415.9L1382.8 416.2L1383.2 416.6L1383.6 417.4L1384.0 416.7L1384.4 416.6L1384.8 415.3L1385.2 415.9L1385.6 416.4L1386.0 417.3L1386.4 417.0L1386.8 415.6L1387.2 414.3L1387.6 415.2L1388.0 415.1L1388.4 414.8L1388.8 414.9L1389.2 414.8L1389.6 415.0L1390.0 416.5L1390.4 413.6L1390.8 412.6L1391.2 414.2L1391.6 412.1L1392.0 413.3L1392.4 413.4L1392.8 412.8L1393.2 413.9L1393.6 413.7L1394.0 413.0L1394.4 413.6L1394.8 413.6L1395.2 412.0L1395.6 412.4L1396.0 412.6L1396.4 411.9L1396.8 411.1L1397.2 413.0L1397.6 411.3L1398.0 410.0L1398.4 411.6L1398.8 408.6L1399.2 411.5L1399.6 411.4L1400.0 412.1L1400.4 410.6L1400.8 409.4L1401.2 411.6L1401.6 410.9L1402.0 411.5L1402.4 409.4L1402.8 410.4L1403.2 407.7L1403.6 410.4L1404.0 407.4L1404.4 407.9L1404.8 407.3L1405.2 410.3L1405.6 409.7L1406.0 407.9L1406.4 410.0L1406.8 408.5L1407.2 406.1L1407.6 408.3L1408.0 406.1L1408.4 407.4L1408.8 408.0L1409.2 406.7L1409.6 408.6L1410.0 408.3L1410.4 405.9L1410.8 407.6L1411.2 406.3L1411.6 406.2L1412.0 408.3L1412.4 405.3L1412.8 405.3L1413.2 405.7L1413.6 406.3L1414.0 406.7L1414.4 404.4L1414.8 406.9L1415.2 407.0L1415.6 407.3L1416.0 404.9L1416.4 404.3L1416.8 403.4L1417.2 405.1L1417.6 404.2L1418.0 403.8L1418.4 402.9L1418.8 401.2L1419.2 403.3L1419.6 403.4L1420.0 402.5L1420.4 401.0L1420.8 401.9L1421.2 402.1L1421.6 401.0L1422.0 402.8L1422.4 401.9L1422.8 401.9L1423.2 402.2L1423.6 400.7L1424.0 401.2L1424.4 401.6L1424.8 401.7L1425.2 401.6L1425.6 399.9L1426.0 401.4L1426.4 401.5L1426.8 398.5L1427.2 399.6L1427.6 399.9L1428.0 399.8L1428.4 401.8L1428.8 400.6L1429.2 398.9L1429.6 399.3L1430.0 397.2L1430.4 398.3L1430.8 400.1L1431.2 396.6L1431.6 399.2L1432.0 397.6L1432.4 397.6L1432.8 398.0L1433.2 400.6L1433.6 398.1L1434.0 397.7L1434.4 398.9L1434.8 394.8L1435.2 399.7L1435.6 394.9L1436.0 396.2L1436.4 397.9L1436.8 395.1L1437.2 394.5L1437.6 398.0L1438.0 396.2L1438.4 397.3L1438.8 396.8L1439.2 396.3L1439.6 398.5L1440.0 395.2L1440.4 398.7L1440.8 394.3L1441.2 394.4L1441.6 394.1L1442.0 395.4L1442.4 393.5L1442.8 394.3L1443.2 396.7L1443.6 395.0L1444.0 396.1L1444.4 395.0L1444.8 393.8L1445.2 393.3L1445.6 394.3L1446.0 393.9L1446.4 393.0L1446.8 392.9L1447.2 395.6L1447.6 395.1L1448.0 393.8L1448.4 393.4L1448.8 393.0L1449.2 395.7L1449.6 392.3L1450.0 395.9L1450.4 391.5L1450.8 391.0L1451.2 395.3L1451.6 392.0L1452.0 394.7L1452.4 392.8L1452.8 391.9L1453.2 393.0L1453.6 391.6L1454.0 392.6L1454.4 391.6L1454.8 389.4L1455.2 391.7L1455.6 391.0L1456.0 391.2L1456.4 391.9L1456.8 389.5L1457.2 392.1L1457.6 391.8L1458.0 393.8L1458.4 392.4L1458.8 390.9L1459.2 389.8L1459.6 390.1L1460.0 388.6L1460.4 391.2L1460.8 389.8L1461.2 389.1L1461.6 389.6L1462.0 390.2L1462.4 389.3L1462.8 387.1L1463.2 390.9L1463.6 388.5L1464.0 389.1L1464.4 388.1L1464.8 386.5L1465.2 388.6L1465.6 387.6L1466.0 386.2L1466.4 388.2L1466.8 388.4L1467.2 388.1L1467.6 387.2L1468.0 385.6L1468.4 386.3L1468.8 386.2L1469.2 384.2L1469.6 387.2L1470.0 385.8L1470.4 384.4L1470.8 387.7L1471.2 388.0L1471.6 383.3L1472.0 384.3L1472.4 383.6L1472.8 386.3L1473.2 382.1L1473.6 385.0L1474.0 384.2L1474.4 385.4L1474.8 381.0L1475.2 382.0L1475.6 382.7L1476.0 384.7L1476.4 383.0L1476.8 384.1L1477.2 383.5L1477.6 381.0L1478.0 382.0L1478.4 381.4L1478.8 382.1L1479.2 380.6L1479.6 383.0L1480.0 382.6L1480.4 379.2L1480.8 383.3L1481.2 380.7L1481.6 380.1L1482.0 383.6L1482.4 381.9L1482.8 382.3L1483.2 381.3L1483.6 381.7L1484.0 378.9L1484.4 383.0L1484.8 380.8L1485.2 382.0L1485.6 381.5L1486.0 380.0L1486.4 379.2L1486.8 380.6L1487.2 383.2L1487.6 379.9L1488.0 380.0L1488.4 381.0L1488.8 380.1L1489.2 382.8L1489.6 382.1L1490.0 384.9L1490.4 380.9L1490.8 384.2L1491.2 379.7L1491.6 380.2L1492.0 378.3L1492.4 379.0L1492.8 379.1L1493.2 380.3L1493.6 381.5L1494.0 378.8L1494.4 376.7L1494.8 378.3L1495.2 378.4L1495.6 377.6L1496.0 379.5L1496.4 379.9L1496.8 377.1L1497.2 376.5L1497.6 372.9L1498.0 376.4L1498.4 378.5L1498.8 375.6L1499.2 378.4L1499.6 378.1L1500.0 377.3L1500.4 377.2L1500.8 376.2L1501.2 378.1L1501.6 377.6L1502.0 376.6L1502.4 375.6L1502.8 377.7L1503.2 377.5L1503.6 374.6L1504.0 376.8L1504.4 374.5L1504.8 379.1L1505.2 374.0L1505.6 373.3L1506.0 372.7L1506.4 376.2L1506.8 372.4L1507.2 375.2L1507.6 373.0L1508.0 376.2L1508.4 376.7L1508.8 375.2L1509.2 369.7L1509.6 370.7L1510.0 368.2L1510.4 377.9L1510.8 371.9L1511.2 372.3L1511.6 372.8L1512.0 373.9L1512.4 372.0L1512.8 372.8L1513.2 372.2L1513.6 369.3L1514.0 375.5L1514.4 375.2L1514.8 371.8L1515.2 371.7L1515.6 375.3L1516.0 376.5L1516.4 371.4L1516.8 372.3L1517.2 370.5L1517.6 372.1L1518.0 365.8L1518.4 366.6L1518.8 371.5L1519.2 370.0L1519.6 371.3L1520.0 370.6L1520.4 371.4L1520.8 370.3L1521.2 369.4L1521.6 370.0L1522.0 368.3L1522.4 371.8L1522.8 367.2L1523.2 368.5L1523.6 370.7L1524.0 368.1L1524.4 370.4L1524.8 372.1L1525.2 369.6L1525.6 367.2L1526.0 371.9L1526.4 369.5L1526.8 365.7L1527.2 371.8L1527.6 368.1L1528.0 368.1L1528.4 369.3L1528.8 366.2L1529.2 369.2L1529.6 364.7L1530.0 364.8L1530.4 366.0L1530.8 370.8L1531.2 367.2L1531.6 368.5L1532.0 365.2L1532.4 366.9L1532.8 361.4L1533.2 365.2L1533.6 366.8L1534.0 364.1L1534.4 360.9L1534.8 361.7L1535.2 366.4L1535.6 367.9L1536.0 364.3L1536.4 367.8L1536.8 361.8L1537.2 366.0L1537.6 365.2L1538.0 366.0L1538.4 360.6L1538.8 366.3L1539.2 363.9L1539.6 361.8L1540.0 362.4L1540.4 363.1L1540.8 363.8L1541.2 361.0L1541.6 361.0L1542.0 363.3L1542.4 362.6L1542.8 363.1L1543.2 363.8L1543.6 358.2L1544.0 361.4L1544.4 362.4L1544.8 361.7L1545.2 359.2L1545.6 362.9L1546.0 364.6L1546.4 361.1L1546.8 359.2L1547.2 362.6L1547.6 361.2L1548.0 361.1L1548.4 361.3L1548.8 359.3L1549.2 360.2L1549.6 358.6L1550.0 355.3L1550.4 362.5L1550.8 360.5L1551.2 359.3L1551.6 362.5L1552.0 359.2L1552.4 361.8L1552.8 361.1L1553.2 358.3L1553.6 355.8L1554.0 359.0L1554.4 359.2L1554.8 361.0L1555.2 354.4L1555.6 357.6L1556.0 358.7L1556.4 358.3L1556.8 358.2L1557.2 358.3L1557.6 352.0L1558.0 356.4L1558.4 355.4L1558.8 353.1L1559.2 356.6L1559.6 355.3L1560.0 353.8L1560.4 352.6L1560.8 356.6L1561.2 349.7L1561.6 355.8L1562.0 352.8L1562.4 355.7L1562.8 360.0L1563.2 357.8L1563.6 354.4L1564.0 358.7L1564.4 359.5L1564.8 357.3L1565.2 359.3L1565.6 354.9L1566.0 356.2L1566.4 353.7L1566.8 352.7L1567.2 354.1L1567.6 351.5L1568.0 352.9L1568.4 358.7L1568.8 354.8L1569.2 352.0L1569.6 357.4L1570.0 356.3L1570.4 349.9L1570.8 350.1L1571.2 356.5L1571.6 352.0L1572.0 352.3L1572.4 350.3L1572.8 348.7L1573.2 354.5L1573.6 348.7L1574.0 352.5L1574.4 355.8L1574.8 352.1L1575.2 350.0L1575.6 351.6L1576.0 351.5L1576.4 348.7L1576.8 350.4L1577.2 346.2L1577.6 345.2L1578.0 348.3L1578.4 345.1L1578.8 347.4L1579.2 348.3L1579.6 349.8L1580.0 354.0L1580.4 346.1L1580.8 347.6L1581.2 347.3L1581.6 345.3L1582.0 354.1L1582.4 345.7L1582.8 347.7L1583.2 347.3L1583.6 354.4L1584.0 347.2L1584.4 345.8L1584.8 351.1L1585.2 345.3L1585.6 341.6L1586.0 350.5L1586.4 349.9L1586.8 342.9L1587.2 343.0L1587.6 346.6L1588.0 344.3L1588.4 342.0L1588.8 343.0L1589.2 351.5L1589.6 349.6L1590.0 343.1L1590.4 345.4L1590.8 346.7L1591.2 344.8L1591.6 345.6L1592.0 350.5L1592.4 343.2L1592.8 343.1L1593.2 345.0L1593.6 343.1L1594.0 343.1L1594.4 343.9L1594.8 341.8L1595.2 348.4L1595.6 342.2L1596.0 348.4L1596.4 341.7L1596.8 341.7L1597.2 345.0L1597.6 342.6L1598.0 346.4L1598.4 345.8L1598.8 350.6L1599.2 335.9L1599.6 340.3L1600.0 343.3L1600.4 342.2L1600.8 342.6L1601.2 351.0L1601.6 335.8L1602.0 344.5L1602.4 341.8L1602.8 342.1L1603.2 345.7L1603.6 341.9L1604.0 344.7L1604.4 346.4L1604.8 345.5L1605.2 335.6L1605.6 339.0L1606.0 337.2L1606.4 339.1L1606.8 340.1L1607.2 347.9L1607.6 337.9L1608.0 339.9L1608.4 340.6L1608.8 345.4L1609.2 338.6L1609.6 342.2L1610.0 342.8L1610.4 342.1L1610.8 332.6L1611.2 335.1L1611.6 342.0L1612.0 333.4L1612.4 338.6L1612.8 333.8L1613.2 340.5L1613.6 339.0L1614.0 333.3L1614.4 337.9L1614.8 334.2L1615.2 336.3L1615.6 342.6L1616.0 339.6L1616.4 339.5L1616.8 344.0L1617.2 338.0L1617.6 342.2L1618.0 338.8L1618.4 338.6L1618.8 335.8L1619.2 334.2L1619.6 333.5L1620.0 333.3L1620.4 339.1L1620.8 337.7L1621.2 333.1L1621.6 341.1L1622.0 333.8L1622.4 334.4L1622.8 330.6L1623.2 333.0L1623.6 339.5L1624.0 337.6L1624.4 332.9L1624.8 340.8L1625.2 335.3L1625.6 335.4L1626.0 339.7L1626.4 336.8L1626.8 333.7L1627.2 330.6L1627.6 340.1L1628.0 325.3L1628.4 332.5L1628.8 327.2L1629.2 331.8L1629.6 337.6L1630.0 332.7L1630.4 332.2L1630.8 333.2L1631.2 341.9L1631.6 339.9L1632.0 334.5L1632.4 330.8L1632.8 331.4L1633.2 335.0L1633.6 332.0L1634.0 332.2L1634.4 328.0L1634.8 326.8L1635.2 328.1L1635.6 333.2L1636.0 327.9L1636.4 342.6L1636.8 334.6L1637.2 334.5L1637.6 336.0L1638.0 326.8L1638.4 326.1L1638.8 330.7L1639.2 333.8L1639.6 333.8L1640.0 338.4L1640.4 337.3L1640.8 336.0L1641.2 336.3L1641.6 331.8L1642.0 334.7L1642.4 329.1L1642.8 328.7L1643.2 334.5L1643.6 322.3L1644.0 336.8L1644.4 338.4L1644.8 327.6L1645.2 333.4L1645.6 330.2L1646.0 324.7L1646.4 331.2L1646.8 332.2L1647.2 333.9L1647.6 327.4L1648.0 329.4L1648.4 325.6L1648.8 333.6L1649.2 327.5L1649.6 332.0L1650.0 325.0L1650.4 328.1L1650.8 322.8L1651.2 323.8L1651.6 333.0L1652.0 326.6L1652.4 327.0L1652.8 329.9L1653.2 322.4L1653.6 336.3L1654.0 322.4L1654.4 323.8L1654.8 337.3L1655.2 316.8L1655.6 334.9L1656.0 327.3L1656.4 328.1L1656.8 319.3L1657.2 325.6L1657.6 317.8L1658.0 330.2L1658.4 322.6L1658.8 320.6L1659.2 321.7L1659.6 323.1L1660.0 329.0L1660.4 325.7L1660.8 319.4L1661.2 318.2L1661.6 317.0L1662.0 327.6L1662.4 325.4L1662.8 315.9L1663.2 313.1L1663.6 321.6L1664.0 318.5L1664.4 325.3L1664.8 321.0L1665.2 324.1L1665.6 325.8L1666.0 327.2L1666.4 319.6L1666.8 325.3L1667.2 316.8L1667.6 313.3L1668.0 321.8L1668.4 327.7L1668.8 329.1L1669.2 319.6L1669.6 308.8L1670.0 321.8L1670.4 318.0L1670.8 323.8L1671.2 326.1L1671.6 316.3L1672.0 314.3L1672.4 316.4L1672.8 314.4L1673.2 312.0L1673.6 319.6L1674.0 313.7L1674.4 316.3L1674.8 315.3L1675.2 313.2L1675.6 321.5L1676.0 314.1L1676.4 316.4L1676.8 322.4L1677.2 316.2L1677.6 307.3L1678.0 313.6L1678.4 313.5L1678.8 321.2L1679.2 328.5L1679.6 317.9L1680.0 315.3L1680.4 326.2L1680.8 310.6L1681.2 317.9L1681.6 319.2L1682.0 315.1L1682.4 313.7L1682.8 316.5L1683.2 325.9L1683.6 318.8L1684.0 309.8L1684.4 316.8L1684.8 321.3L1685.2 327.7L1685.6 320.0L1686.0 315.6L1686.4 324.2L1686.8 321.0L1687.2 315.3L1687.6 308.7L1688.0 314.7L1688.4 320.5L1688.8 305.5L1689.2 301.0L1689.6 317.2L1690.0 301.3L1690.4 303.2L1690.8 311.0L1691.2 311.0L1691.6 313.6L1692.0 313.5L1692.4 316.8L1692.8 311.4L1693.2 305.2L1693.6 292.0L1694.0 322.1L1694.4 318.8L1694.8 316.6L1695.2 311.8L1695.6 305.1L1696.0 315.2L1696.4 311.2L1696.8 300.6L1697.2 320.0L1697.6 299.9L1698.0 307.8L1698.4 325.7L1698.8 304.1L1699.2 312.4L1699.6 320.2L1700.0 310.8L1700.4 299.0L1700.8 306.4L1701.2 310.2L1701.6 297.7L1702.0 322.9L1702.4 313.4L1702.8 316.1L1703.2 312.0L1703.6 313.2L1704.0 306.7L1704.4 296.9L1704.8 315.8L1705.2 309.7L1705.6 323.3L1706.0 299.0L1706.4 311.0L1706.8 328.5L1707.2 297.3L1707.6 298.8L1708.0 310.8L1708.4 324.5L1708.8 298.0L1709.2 309.1L1709.6 307.3L1710.0 303.6L1710.4 305.9L1710.8 319.6L1711.2 309.2L1711.6 295.4L1712.0 302.4L1712.4 308.6L1712.8 294.9L1713.2 301.1L1713.6 303.7L1714.0 287.4L1714.4 324.9L1714.8 291.6L1715.2 307.6L1715.6 304.8L1716.0 300.6L1716.4 318.1L1716.8 307.1L1717.2 298.5L1717.6 317.8L1718.0 312.1L1718.4 296.8L1718.8 290.6L1719.2 315.2L1719.6 304.9L1720.0 291.3L1720.4 311.3L1720.8 291.0L1721.2 298.7L1721.6 297.8L1722.0 285.3L1722.4 312.2L1722.8 332.8L1723.2 311.9L1723.6 309.3L1724.0 302.3L1724.4 304.5L1724.8 307.6L1725.2 311.9L1725.6 299.9L1726.0 305.2L1726.4 302.2L1726.8 310.3L1727.2 314.2L1727.6 315.9L1728.0 299.9L1728.4 299.0L1728.8 311.7L1729.2 301.6L1729.6 301.8L1730.0 309.5L1730.4 308.4L1730.6 318.4L1730.9 338.5L1731.2 318.4L1731.2 291.0L1731.6 316.0L1732.0 299.1L1732.4 310.9L1732.8 290.1L1733.2 302.2L1733.6 297.1L1734.0 323.3L1734.4 293.3L1734.8 316.0L1735.2 294.6L1735.6 291.3L1736.0 306.6L1736.4 315.1L1736.8 303.0L1737.2 309.5L1737.6 305.7L1738.0 302.6L1738.4 318.4L1738.8 302.9L1739.2 312.5L1739.6 290.1L1740.0 300.2L1740.4 313.5L1740.8 297.5L1741.2 278.3L1741.6 311.1L1742.0 309.3L1742.4 299.2L1742.8 303.6L1743.2 299.3L1743.6 307.1L1744.0 314.9L1744.4 305.7L1744.8 301.3L1745.2 296.9L1745.6 300.2L1746.0 296.3L1746.4 313.4L1746.8 289.7L1747.2 294.8L1747.6 305.7L1748.0 305.8L1748.4 304.7L1748.8 296.6L1749.2 304.3L1749.6 284.5L1750.0 283.1L1750.4 285.6L1750.8 306.0L1751.2 318.0L1751.6 295.8L1752.0 294.3L1752.4 297.2L1752.8 323.0L1753.2 303.5L1753.6 301.6L1754.0 293.9L1754.4 306.7L1754.8 316.5L1755.2 303.2L1755.6 290.7L1756.0 316.8L1756.4 300.0L1756.8 322.6L1757.2 287.0L1757.6 298.5L1758.0 302.9L1758.4 278.2L1758.8 300.7L1759.2 307.0L1759.6 298.2L1760.0 305.1L1760.4 301.8L1760.8 288.7L1761.2 308.3L1761.6 289.6L1762.0 295.1L1762.4 289.6L1762.8 307.4L1763.2 292.4L1763.6 292.1L1764.0 271.0L1764.4 294.6L1764.8 311.0L1765.2 271.8L1765.6 303.0L1766.0 297.3L1766.4 275.7L1766.8 292.8L1767.2 309.9L1767.6 297.7L1768.0 301.6L1768.4 311.8L1768.8 293.2L1769.2 308.0L1769.6 280.9L1770.0 285.9L1770.4 315.4L1770.8 314.6L1771.2 309.1L1771.6 277.2L1772.0 293.6L1772.4 284.8L1772.8 321.6L1773.2 279.0L1773.6 279.2L1774.0 288.4L1774.4 300.5L1774.8 288.1L1775.2 291.6L1775.6 299.7L1776.0 295.7L1776.4 270.9L1776.8 278.9L1777.2 316.9L1777.6 296.1L1778.0 319.4L1778.4 314.6L1778.8 310.3L1779.2 295.9L1779.6 315.0L1780.0 289.1L1780.4 324.8L1780.8 302.7L1781.2 303.4L1781.6 289.7L1782.0 287.4L1782.4 291.2L1782.8 287.6L1783.2 282.8L1783.6 280.3L1784.0 297.2L1784.4 310.4L1784.8 321.5L1785.2 304.9L1785.6 293.1L1786.0 303.1L1786.4 318.4L1786.8 296.3L1787.2 308.6L1787.6 299.3L1788.0 296.1L1788.4 286.5L1788.8 303.4L1789.2 282.3L1789.6 279.9L1790.0 298.8L1790.4 307.2L1790.8 306.5L1791.2 305.2L1791.6 289.4L1792.0 291.6L1792.4 309.0L1792.8 322.0L1793.2 255.6L1793.6 309.8L1794.0 296.0L1794.4 292.0L1794.8 282.4L1795.2 283.9L1795.6 275.5L1796.0 295.8L1796.4 278.7L1796.8 289.8L1797.2 270.9L1797.6 309.0L1798.0 301.0L1798.4 274.9L1798.8 298.3L1799.2 286.0L1799.6 278.8L1800.0 292.2L1800.4 302.9L1800.8 312.8L1801.2 294.2L1801.6 307.7L1802.0 300.8L1802.4 300.1L1802.8 305.1L1803.2 271.0L1803.6 284.6L1804.0 312.0L1804.4 270.3L1804.8 277.3L1805.2 317.8L1805.6 274.3L1806.0 291.5L1806.4 293.2L1806.8 285.1L1807.2 302.8L1807.6 302.0L1808.0 278.4L1808.4 315.3L1808.8 276.3L1809.2 281.8L1809.6 286.5L1810.0 291.0L1810.4 271.1L1810.8 291.6L1811.2 254.1L1811.6 280.4L1812.0 273.7L1812.4 276.4L1812.8 285.6L1813.2 289.6L1813.6 275.4L1814.0 286.7L1814.4 262.6L1814.8 280.0L1815.2 300.2L1815.6 275.5L1816.0 280.9L1816.4 285.2L1816.8 298.0L1817.2 290.7L1817.6 282.4L1818.0 269.4L1818.4 288.3L1818.8 244.2L1819.2 291.4L1819.6 272.2L1820.0 294.4L1820.4 283.2L1820.8 305.4L1821.2 274.4L1821.6 252.4L1822.0 284.7L1822.4 276.2L1822.8 282.7L1823.2 302.3L1823.6 269.2L1824.0 294.0L1824.4 297.5L1824.5 300.0L1824.8 244.6L1825.1 300.0L1825.2 250.9L1825.6 285.3L1826.0 271.9L1826.4 278.7L1826.8 269.4L1827.2 277.1L1827.6 297.7L1828.0 310.3L1828.4 293.2L1828.8 262.0L1829.2 302.3L1829.6 261.6L1830.0 276.1L1830.4 300.7L1830.8 272.3L1831.2 293.5L1831.6 276.9L1832.0 262.2L1832.4 284.9L1832.8 272.8L1833.2 310.1L1833.6 311.6L1834.0 307.4L1834.4 264.4L1834.8 312.1L1835.2 286.0L1835.6 289.3L1836.0 283.4L1836.4 271.2L1836.8 282.6L1837.2 295.0L1837.4 306.4L1837.7 236.3L1838.0 306.4L1838.0 289.6L1838.4 279.8L1838.8 271.5L1839.2 273.9L1839.6 307.0L1840.0 291.5L1840.4 283.5L1840.8 251.4L1841.2 249.4L1841.6 290.5L1842.0 289.8L1842.4 298.3L1842.8 282.8L1843.2 267.6L1843.6 249.0L1844.0 262.7L1844.4 238.0L1844.8 283.1L1845.2 286.7L1845.6 302.1L1846.0 246.2L1846.4 252.9L1846.8 288.4L1847.2 283.7L1847.6 242.3L1848.0 265.2L1848.4 278.9L1848.8 270.4L1849.2 283.9L1849.6 277.8L1850.0 266.9L1850.4 283.7L1850.8 275.2L1851.2 297.3L1851.6 250.4L1852.0 272.3L1852.4 263.6L1852.8 271.7L1853.2 283.1L1853.6 287.6L1854.0 236.8L1854.4 296.8L1854.8 285.4L1855.2 285.0L1855.6 276.3L1856.0 293.0L1856.4 282.4L1856.8 241.5L1857.2 262.8L1857.6 270.3L1858.0 268.0L1858.4 266.2L1858.8 285.6L1859.2 254.1L1859.6 259.9L1860.0 256.3L1860.4 273.2L1860.5 282.0L1860.8 230.5L1861.1 282.0L1861.2 256.8L1861.6 281.0L1862.0 263.5L1862.4 300.0L1862.8 231.0L1863.2 272.7L1863.6 295.4L1864.0 266.1L1864.4 251.8L1864.8 256.4L1865.2 283.8L1865.6 262.5L1866.0 292.9L1866.4 273.7L1866.8 262.0L1867.2 264.2L1867.6 281.6L1868.0 292.3L1868.2 256.4L1868.5 321.8L1868.8 256.4L1868.8 249.3L1869.2 249.2L1869.6 281.4L1870.0 307.5L1870.4 261.9L1870.8 285.0L1871.2 264.3L1871.6 289.8L1872.0 242.7L1872.4 283.2L1872.8 245.0L1873.2 254.3L1873.6 278.2L1874.0 266.5L1874.4 269.9L1874.8 281.5L1875.2 275.0L1875.6 300.5L1876.0 286.4L1876.4 253.9L1876.8 269.3L1877.2 259.3L1877.6 262.1L1878.0 306.6L1878.4 254.5L1878.8 295.8L1879.2 300.9L1879.6 323.6L1880.0 270.3L1880.4 275.2L1880.5 276.0L1880.8 197.0L1881.1 276.0L1881.2 262.2L1881.6 306.0L1882.0 309.7L1882.4 222.4L1882.8 262.3L1883.2 293.9L1883.6 247.9L1884.0 255.1L1884.4 269.4L1884.8 268.8L1885.2 265.1L1885.6 265.8L1886.0 306.8L1886.4 219.1L1886.8 257.7L1887.2 243.9L1887.6 273.0L1888.0 258.3L1888.4 277.6L1888.8 267.3L1889.2 316.6L1889.6 239.3L1890.0 256.6L1890.4 285.8L1890.8 258.6L1891.2 270.0L1891.6 233.9L1892.0 282.2L1892.4 263.3L1892.8 278.6L1893.2 246.6L1893.6 254.0L1894.0 247.4L1894.4 302.2L1894.8 228.0L1895.2 275.0L1895.3 271.1L1895.6 203.5L1895.9 271.1L1896.0 293.4L1896.4 271.7L1896.8 243.0L1897.2 276.9L1897.6 227.0L1898.0 288.9L1898.4 262.6L1898.8 248.9L1899.2 254.3L1899.4 278.3L1899.7 206.0L1900.0 278.3L1900.0 228.0L1900.4 303.2L1900.8 249.1L1901.2 298.8L1901.6 269.3L1902.0 308.3L1902.4 237.9L1902.8 284.8L1903.2 263.0L1903.6 250.9L1904.0 283.6L1904.4 259.2L1904.8 248.0L1905.2 259.3L1905.5 247.0L1905.8 191.9L1906.1 247.0L1906.0 258.6L1906.4 263.6L1906.8 289.0L1907.2 261.8L1907.6 246.6L1908.0 281.7L1908.4 255.7L1908.8 241.8L1909.2 235.9L1909.6 304.6L1910.0 261.4L1910.4 301.3L1910.8 241.0L1911.2 238.5L1911.6 303.5L1912.0 257.1L1912.4 258.7L1912.8 257.9L1913.2 239.2L1913.6 286.9L1914.0 234.8L1914.4 281.0L1914.8 237.8L1915.2 324.5L1915.6 279.9L1916.0 289.1L1916.4 222.5L1916.8 270.6L1917.2 247.9L1917.6 242.0L1918.0 242.0L1918.4 282.4L1918.8 263.7L1919.2 250.0L1919.6 247.6L1920.0 246.7L1920.4 248.9L1920.8 255.2L1921.2 234.5L1921.6 240.4L1922.0 207.8L1922.4 261.0L1922.8 275.8L1923.2 249.1L1923.6 295.2L1924.0 243.0L1924.4 262.2L1924.8 289.7L1925.2 267.7L1925.6 242.4L1926.0 270.6L1926.4 251.4L1926.8 287.9L1927.2 279.8L1927.4 255.8L1927.7 336.0L1928.0 255.8L1928.0 274.2L1928.4 303.6L1928.8 288.5L1929.2 282.5L1929.6 256.5L1930.0 246.5L1930.4 242.3L1930.8 286.2L1931.2 234.2L1931.6 270.7L1932.0 299.5L1932.4 221.0L1932.8 269.4L1933.2 236.2L1933.6 257.5L1934.0 273.5L1934.4 236.1L1934.8 227.5L1935.2 250.4L1935.6 265.6L1936.0 250.2L1936.4 235.8L1936.8 276.6L1937.2 231.7L1937.6 223.2L1938.0 262.3L1939.0 356.0"/>
<path stroke="#f00" d="M329.2 1226.0L330.2 1205.0L331.2 1180.0L332.9 1144.0L335.8 1095.0L337.3 1045.0L338.8 1000.0L338.4 975.0L339.7 936.0L340.6 905.0L341.1 860.0L341.7 857.0L342.6 820.0L343.6 797.0L345.5 815.0L347.3 829.5L348.0 896.5L349.2 886.5L351.0 909.0L351.7 938.6L352.5 1040.0L353.8 1010.0L355.4 960.0L356.5 900.0L357.9 834.4L359.7 787.3L361.5 740.0L362.5 700.0L364.5 560.0L365.7 360.0L367.0 274.0L368.3 251.7L370.4 265.7L371.7 370.0L374.0 560.0L376.0 700.0L378.3 822.0L379.6 864.0L380.8 960.0L381.5 1138.0L384.0 1210.0L386.0 1272.5L388.9 1323.0L391.0 1340.0L393.4 1348.0L396.4 1332.0L402.3 1287.4L402.8 1282.4L403.3 1277.4L403.8 1272.8L404.3 1267.9L404.8 1262.6L405.3 1257.5L405.8 1252.7L406.3 1247.8L406.8 1243.0L407.3 1238.0L407.8 1232.6L408.3 1227.8L408.8 1225.0L409.3 1222.5L409.8 1219.3L410.3 1216.4L410.8 1214.1L411.3 1211.3L411.8 1208.5L412.3 1205.9L412.8 1203.0L413.3 1200.5L413.8 1197.4L414.3 1194.7L414.8 1191.8L415.3 1188.3L415.8 1185.4L416.3 1181.9L416.8 1178.3L417.3 1175.1L417.8 1171.7L418.3 1168.6L418.8 1165.5L419.3 1162.0L419.8 1158.8L420.3 1155.2L420.8 1152.5L421.3 1149.0L421.8 1145.8L422.3 1142.0L422.8 1138.9L423.3 1135.5L423.8 1132.8L424.3 1129.1L424.8 1126.6L425.3 1124.2L425.8 1121.9L426.3 1120.4L426.8 1118.5L427.3 1116.0L427.8 1113.9L428.3 1112.0L428.8 1109.8L429.3 1107.8L429.8 1105.5L430.3 1103.9L430.8 1101.7L431.3 1100.1L431.8 1098.1L432.3 1096.3L432.8 1094.1L433.3 1092.0L433.8 1090.3L434.3 1087.8L434.8 1085.5L435.3 1083.7L435.8 1081.9L436.3 1080.1L436.8 1078.3L437.3 1076.0L437.8 1074.7L438.3 1072.7L438.8 1071.0L439.3 1068.8L439.8 1067.2L440.3 1064.9L440.8 1063.6L441.3 1061.7L441.8 1060.2L442.3 1058.5L442.8 1056.2L443.3 1054.8L443.8 1053.0L444.3 1050.9L444.8 1049.6L445.3 1047.2L445.8 1045.2L446.3 1043.8L446.8 1042.4L447.3 1040.3L447.8 1037.9L448.3 1036.4L448.8 1035.0L449.3 1032.8L449.8 1031.1L450.3 1029.1L450.8 1028.0L451.3 1026.1L451.8 1023.6L452.3 1021.7L452.8 1020.5L453.3 1018.6L453.8 1016.7L454.3 1015.0L454.8 1013.1L455.3 1011.6L455.8 1009.8L456.3 1008.1L456.8 1006.2L457.3 1004.0L457.8 1002.3L458.3 1000.5L458.8 998.8L459.3 996.8L459.8 995.0L460.3 993.3L460.8 991.5L461.3 989.8L461.8 988.4L462.3 986.5L462.8 984.3L463.3 982.6L463.8 980.8L464.3 978.8L464.8 977.4L465.3 975.0L465.8 973.7L466.3 971.8L466.8 969.3L467.3 967.4L467.8 965.2L468.3 962.8L468.8 960.5L469.3 957.9L469.8 955.9L470.3 953.8L470.8 950.9L471.3 948.5L471.8 944.2L472.3 941.5L472.8 937.3L473.3 933.2L473.8 928.9L474.3 924.6L474.8 924.3L475.3 924.2L475.8 924.7L476.3 925.2L476.8 925.2L477.3 925.0L477.8 925.7L478.3 926.1L478.8 926.6L479.3 927.5L479.8 927.9L480.3 928.2L480.8 928.7L481.3 929.0L481.8 929.8L482.3 930.9"/>
<path stroke="#f00" stroke-width="2.4" d="M482.3 930.9L482.8 930.5L483.3 931.4L483.8 930.1L484.3 929.3L484.8 928.4L485.3 927.4L485.8 927.1L486.3 926.0L486.8 925.1L487.3 924.3L487.8 923.5L488.3 921.8L488.8 920.8L489.3 920.0L489.8 918.2L490.3 917.5L490.8 916.8L491.3 915.0L491.8 913.5L492.3 914.9L492.8 915.4L493.3 916.6L493.8 917.2L494.3 917.9L494.8 918.4L495.3 919.7L495.8 920.4L496.3 921.2L496.8 922.0L497.3 922.8L497.8 923.5L498.3 923.6L498.8 922.8L499.3 922.7L499.8 922.4L500.3 922.4L500.8 922.1L501.3 921.2L501.8 921.0L502.3 920.5L502.8 920.1L503.3 919.4L503.8 918.9L504.3 917.9L504.8 917.4L505.3 917.4L505.8 915.9L506.3 916.0L506.8 915.1L507.3 914.1L507.8 912.9L508.3 911.8L508.8 910.9L509.3 909.7L509.8 908.7L510.3 907.6L510.8 906.7L511.3 905.6L511.8 904.5L512.3 903.7L512.8 902.5L513.3 901.1L513.8 900.4L514.3 899.7L514.8 898.3L515.3 897.4L515.8 895.5L516.3 894.9L516.8 893.2L517.3 892.7L517.8 891.3L518.3 890.3L518.8 889.3L519.3 887.9L519.8 886.8L520.3 885.7L520.8 884.9L521.3 883.9L521.8 882.4L522.3 881.5L522.8 880.9L523.3 879.8L523.8 878.9L524.3 878.6L524.8 877.5L525.3 877.2L525.8 875.7L526.3 875.5L526.8 874.6L527.3 873.4L527.8 872.7L528.3 871.2L528.8 871.1L529.3 870.2L529.8 869.2L530.3 868.9L530.8 867.2L531.3 867.1L531.8 866.1L532.3 865.3L532.8 864.1L533.3 863.8L533.8 862.7L534.3 862.0L534.8 861.4L535.3 860.2L535.8 859.1L536.3 859.3L536.8 858.8L537.3 858.1L537.8 857.4L538.3 856.8L538.8 856.5L539.3 856.1L539.8 855.3L540.3 855.1L540.8 854.2L541.3 853.9L541.8 853.1L542.3 852.6L542.8 852.3L543.3 851.7L543.8 851.2L544.3 850.7L544.8 849.8L545.3 849.5L545.8 848.8L546.3 848.3L546.8 847.8L547.3 847.1L547.8 846.5L548.3 846.1L548.8 845.2L549.3 845.0L549.8 844.5L550.3 843.2L550.8 843.3L551.3 842.4L551.8 841.8L552.3 841.6L552.8 840.7L553.3 840.4L553.8 839.7L554.3 839.0L554.8 839.1L555.3 837.9L555.8 837.3L556.3 836.9L556.8 836.9L557.3 835.4L557.8 835.5L558.3 834.4L558.8 834.0L559.3 833.4L559.8 833.0L560.3 832.0L560.8 832.0L561.3 830.9L561.8 830.0L562.3 829.8L562.8 829.4L563.3 828.7L563.8 828.2L564.3 827.3L564.8 827.1L565.3 826.3L565.8 825.3L566.3 824.8L566.8 824.1L567.3 823.7L567.8 823.2L568.3 822.4L568.8 821.9L569.3 821.8L569.8 821.4L570.3 821.2L570.8 819.7L571.3 820.0L571.8 819.6L572.3 819.3L572.8 818.8L573.3 818.4L573.8 818.5L574.3 818.3L574.8 817.3L575.3 817.4L575.8 816.3L576.3 816.6L576.8 816.5L577.3 816.0L577.8 815.2L578.3 814.8L578.8 814.6L579.3 814.6L579.8 814.0L580.3 813.6L580.8 813.3L581.3 812.6L581.8 811.9L582.3 812.0L582.8 811.4L583.3 810.9L583.8 810.2L584.3 810.4L584.8 808.8L585.3 808.1L585.8 808.0L586.3 807.0L586.8 806.8L587.3 806.2L587.8 805.3L588.3 804.6L588.8 803.4L589.3 803.4L589.8 802.5L590.3 802.0L590.8 801.4L591.3 800.6L591.8 799.7L592.3 799.1L592.8 798.4L593.3 798.2L593.8 797.3L594.3 796.7L594.8 795.9L595.3 795.4L595.8 794.5L596.3 794.1L596.8 793.5L597.3 793.8L597.8 793.6L598.3 793.7L598.8 793.7L599.3 793.5L599.8 793.3L600.3 793.4L600.8 793.0L601.3 793.0L601.8 793.1L602.3 792.6L602.8 792.7L603.3 793.2L603.8 792.7L604.3 791.8L604.8 790.9L605.3 789.6L605.8 788.8L606.3 788.3L606.8 788.1L607.3 787.7L607.8 786.6L608.3 786.1L608.8 785.7L609.3 784.8L609.8 784.6L610.3 784.2L610.8 783.7L611.3 783.5L611.8 782.3L612.3 782.4L612.8 782.7L613.3 782.6L613.8 782.9L614.3 782.6L614.8 782.3L615.3 782.5L615.8 782.4L616.3 782.9L616.8 783.2L617.3 783.1L617.8 782.9L618.3 782.3L618.8 782.3L619.3 781.7L619.8 781.2L620.3 780.9L620.8 781.0L621.3 779.9L621.8 779.3L622.3 778.7L622.8 778.8L623.3 777.9L623.8 777.2L624.3 777.1L624.8 776.8L625.3 775.9L625.8 775.8L626.3 774.9L626.8 775.2L627.3 774.1L627.8 773.9L628.3 773.2L628.8 772.9L629.3 772.7L629.8 772.0L630.3 771.7L630.8 771.5L631.3 771.4L631.8 770.5L632.3 769.9L632.8 769.5L633.3 768.7L633.8 768.3L634.3 767.8L634.8 767.7L635.3 767.2L635.8 766.6L636.3 766.9L636.8 765.8L637.3 765.6L637.8 765.1L638.3 764.5L638.8 764.2L639.3 763.2L639.8 763.2L640.3 762.9L640.8 762.7L641.3 761.7L641.8 761.7L642.3 761.2L642.8 760.5L643.3 759.8L643.8 759.8L644.3 759.2L644.8 759.2L645.3 758.6L645.8 757.8L646.3 757.6L646.8 757.4L647.3 757.3L647.8 755.9L648.3 756.3L648.8 755.4L649.3 755.3L649.8 754.7L650.3 754.8L650.8 754.2L651.3 754.2L651.8 753.6L652.3 752.7L652.8 752.0L653.3 752.0L653.8 751.6L654.3 751.3L654.8 750.7L655.3 750.3L655.8 750.2L656.3 749.6L656.8 748.9L657.3 748.7L657.8 747.9L658.3 747.7L658.8 747.5L659.3 746.6L659.8 746.0L660.3 745.9L660.8 745.3L661.3 745.3L661.8 744.4L662.3 743.8L662.8 743.2L663.3 742.5L663.8 742.3L664.3 742.1L664.8 741.4L665.3 741.3L665.8 740.9L666.3 740.4L666.8 739.8L667.2 739.8L667.5 724.1L667.8 739.8L667.8 740.2L668.3 739.8L668.8 739.9L669.3 739.9L669.8 739.8L670.3 738.5L670.8 738.7L671.3 738.1L671.8 737.7L672.3 736.9L672.8 736.8L673.3 735.9L673.8 735.0L674.3 734.3L674.8 734.1L675.3 733.7L675.8 733.1L676.3 732.8L676.8 732.3L677.3 730.9L677.8 730.9L678.3 730.4L678.8 730.0L679.3 729.1L679.8 729.2L680.3 729.0L680.7 729.5L681.0 708.8L681.3 729.5L681.3 729.1L681.8 729.3L682.3 729.1L682.8 729.3L683.3 729.3L683.8 728.8L684.3 728.5L684.8 728.0L685.3 727.4L685.8 726.9L686.3 726.1L686.8 725.8L687.3 725.3L687.8 724.7L688.3 724.6L688.8 724.0L689.3 723.2L689.8 722.8L690.3 722.5L690.8 722.3L690.9 722.4L691.2 715.1L691.5 722.4L691.8 721.7L692.3 721.4L692.8 721.4L693.3 721.2L693.8 721.1L694.3 720.3L694.8 720.1L695.3 719.8L695.8 719.4L696.3 718.6L696.8 718.7L697.3 718.6L697.8 718.0L698.3 717.5L698.8 716.9L699.3 716.5L699.8 716.4L700.3 715.8L700.8 715.5L701.3 714.9L701.8 715.0L702.3 714.7L702.8 714.1L703.3 713.9L703.8 713.4L704.3 713.4L704.8 712.6L705.3 712.3L705.8 711.6L706.3 711.5L706.8 711.1L707.3 710.7L707.8 710.8L708.3 710.1L708.8 709.6L709.3 708.8L709.8 707.8L710.3 707.4L710.8 707.1L711.3 706.0L711.8 705.5L712.3 704.9L712.8 704.5L713.3 703.7L713.8 703.0L714.3 701.9L714.8 700.6L715.3 699.6L715.8 698.1L716.3 697.2L716.8 697.2L717.3 697.2L717.8 697.2L718.3 697.1L718.8 697.3L719.3 697.5L719.8 698.0L720.3 698.2L720.8 699.9L721.3 700.3L721.8 700.2L722.3 700.4L722.8 699.4L723.3 699.1L723.8 698.0L724.3 697.6L724.8 696.9L725.3 696.5L725.8 695.9L726.3 695.0L726.8 693.7L727.3 694.6L727.8 694.6L728.3 695.5L728.8 695.2L729.3 695.1L729.8 695.4L730.3 694.6L730.8 694.5L731.3 693.6L731.8 693.5L732.3 692.5L732.8 692.7L733.3 691.9L733.8 691.6L734.3 690.9L734.8 691.0L735.3 689.9L735.8 689.6L736.3 689.0L736.8 688.8L737.3 687.8L737.8 687.9L738.3 688.6L738.8 688.4L739.3 688.5L739.8 689.0L740.3 689.1L740.8 688.6L741.3 689.4L741.8 689.0L742.3 688.6L742.8 688.9L743.3 688.6L743.8 688.5L744.3 687.8L744.8 687.5L745.3 688.1L745.8 687.4L746.3 687.2L746.8 686.5L747.3 686.3L747.8 686.2L748.3 684.9L748.8 685.0L749.3 685.0L749.8 684.1L750.3 684.4L750.8 683.8L751.3 683.1L751.8 683.2L752.3 682.8L752.8 682.4L753.3 682.2L753.8 681.3L754.3 681.2L754.8 681.1L755.3 680.7L755.8 680.3L756.3 680.6L756.8 679.5L757.3 679.1L757.8 679.0L758.3 678.4L758.8 678.4L759.3 677.7L759.8 677.9L760.3 676.9L760.8 676.6L761.3 676.6L761.8 676.0L762.3 675.9L762.8 675.5L763.3 675.2L763.8 674.3L764.3 674.4L764.8 673.9L765.3 673.6L765.8 672.9L766.3 672.9L766.8 672.7L767.3 672.3L767.8 672.0L768.3 671.6L768.8 671.3L769.3 671.1L769.8 670.7L770.3 670.4L770.8 670.2L771.3 670.1L771.8 669.9L772.3 669.5L772.8 668.9L773.3 668.4L773.8 668.4L774.3 667.8L774.8 667.5L775.3 666.9L775.8 667.4L776.3 667.1L776.8 666.3L777.3 666.3L777.8 666.0L778.3 666.0L778.8 665.7L779.3 664.8L779.8 664.8L780.3 664.0L780.8 664.1L781.3 663.8L781.8 663.5L782.3 662.9L782.8 662.8L783.3 663.2L783.8 662.2L784.3 662.0L784.8 662.0L785.3 661.6L785.8 661.0L786.3 661.2L786.8 660.9L787.3 660.3L787.8 660.0L788.3 659.6L788.8 659.5L789.3 659.1L789.8 659.0L790.3 658.0L790.8 658.4L791.3 657.8L791.8 657.9L792.3 657.5L792.8 656.9L793.3 656.6L793.8 656.2L794.3 655.8L794.8 655.7L795.3 655.7L795.8 655.2L796.3 654.6L796.8 654.7L797.3 654.1L797.8 654.1L798.3 654.0L798.8 653.8L799.3 653.6L799.8 652.8L800.3 652.1L800.8 652.5L801.3 652.1L801.8 652.1L802.3 651.8L802.8 651.3L803.3 651.1L803.8 651.0L804.3 650.4L804.8 649.7L805.3 650.1L805.8 649.8L806.3 649.3L806.8 649.5L807.3 648.9L807.8 648.4L808.3 648.4L808.8 648.5L809.3 647.5L809.8 647.7L810.3 646.9L810.8 647.2L811.3 646.6L811.8 646.3L812.3 646.3L812.8 646.5L813.3 645.2L813.8 645.3L814.3 644.9L814.8 645.1L815.3 644.5L815.8 644.0L816.3 644.2L816.8 643.8L817.3 643.4L817.8 643.3L818.3 642.9L818.8 642.8L819.3 642.0L819.8 642.2L820.3 642.0L820.8 641.3L821.3 642.1L821.8 641.3L822.3 640.7L822.8 640.2L823.3 639.9L823.8 639.7L824.3 639.5L824.8 638.7L825.3 638.5L825.8 638.7L826.3 637.8L826.8 638.3L827.3 637.4L827.8 636.8L828.3 636.6L828.8 637.0L829.3 636.3L829.8 635.6L830.3 635.9L830.8 635.4L831.3 634.8L831.8 634.4L832.3 633.9L832.8 634.0L833.3 633.8L833.8 633.8L834.3 633.5L834.8 633.0L835.3 632.1L835.8 632.0L836.3 632.0L836.8 631.4L837.3 631.2L837.8 630.8L838.3 630.6L838.8 630.5L839.3 630.1L839.8 629.3L840.3 629.2L840.8 628.7L841.3 628.3L841.8 628.6L842.3 628.0L842.8 628.3L843.3 627.6L843.8 627.2L844.3 626.5L844.8 625.9L845.3 625.8L845.8 625.0L846.3 625.0L846.8 624.4L847.0 623.9L847.3 614.6L847.6 623.9L847.8 623.2L848.3 622.5L848.8 622.5L849.3 621.6L849.8 621.3L850.3 621.2L850.8 620.6L851.3 620.2L851.8 619.7L852.3 619.9L852.8 619.8L853.3 618.8L853.8 618.9L854.3 618.8L854.8 618.4L855.3 617.9L855.8 617.1L856.3 616.6L856.8 616.5L857.3 616.4L857.8 616.1L858.3 614.5L858.8 612.5L859.3 611.0L859.8 609.2L860.3 607.3L860.8 606.0L861.3 604.8L861.8 603.1L862.3 604.6L862.8 606.2L863.3 608.4L863.8 609.5L864.3 610.9L864.8 611.6L865.3 611.7L865.8 611.9L866.3 611.6L866.8 611.8L867.3 611.5L867.8 612.2L868.3 611.4L868.8 611.7L869.3 611.2L869.8 611.4L870.3 611.5L870.8 611.6L871.3 611.4L871.8 612.4L872.3 612.5L872.8 612.3L873.3 612.7L873.8 613.2L874.3 613.1L874.8 613.2L875.3 612.5L875.8 612.6L876.3 612.5L876.8 612.0L877.3 611.9L877.8 611.7L878.3 611.7L878.8 611.4L879.3 610.9L879.8 610.7L880.3 610.3L880.8 610.0L881.3 609.7L881.8 609.4L882.3 609.5L882.8 608.9L883.3 608.5L883.8 608.3L884.3 608.2L884.8 608.0L885.3 607.5L885.8 607.1L886.3 607.2L886.8 607.1L887.3 606.3L887.8 606.2L888.3 605.6L888.8 606.4L889.3 605.2L889.8 604.9L890.3 605.0L890.8 604.6L891.3 604.6L891.8 603.9L892.3 603.9L892.8 603.7L893.3 603.5L893.8 603.6L894.3 602.8L894.8 602.3L895.3 602.4L895.8 601.8L896.3 602.0L896.8 601.6L897.3 601.2L897.8 600.6L898.3 600.3L898.8 600.3L899.3 600.1L899.8 599.3L900.3 599.5L900.8 599.4L901.3 598.9L901.8 599.0L902.3 598.6L902.8 598.7L903.3 597.8L903.8 597.8L904.3 596.8L904.8 597.0L905.3 597.2L905.8 596.5L906.3 596.3L906.8 595.8L907.3 596.3L907.8 595.9L908.3 595.3L908.8 595.1L909.3 594.8L909.8 594.2L910.3 594.3L910.8 593.8L911.3 593.5L911.8 593.7L912.3 593.2L912.8 592.6L913.3 592.8L913.8 592.4L914.3 592.2L914.8 591.7L915.3 591.5L915.8 591.2L916.3 590.5L916.8 590.9L917.3 590.1L917.8 589.1L918.3 589.6L918.8 588.6L919.3 588.8L919.8 588.7L920.3 587.9L920.8 587.6L921.3 587.6L921.8 587.1L922.3 586.7L922.8 586.2L923.3 585.9L923.8 585.1L924.3 585.1L924.8 584.8L925.3 584.7L925.8 584.3L926.3 583.5L926.8 583.3L927.3 582.6L927.8 582.8L928.3 582.8L928.8 582.1L929.3 581.6L929.8 581.4L930.3 581.0L930.8 580.4L931.3 580.1L931.8 580.0L932.3 579.9L932.8 579.2L933.3 578.8L933.8 578.3L934.3 578.3L934.8 577.7L935.3 578.1L935.8 577.3L936.3 576.1L936.8 576.9L937.3 576.3L937.8 575.9L938.3 575.6L938.8 575.0L939.3 574.6L939.8 574.3L940.3 574.1L940.8 573.9L941.3 573.9L941.8 573.2L942.3 573.0L942.8 572.7L943.3 571.9L943.8 571.5L944.3 571.2L944.8 571.4L945.3 570.4L945.8 570.5L946.3 569.8L946.8 570.3L947.3 569.0L947.8 568.7L948.3 568.5L948.8 568.0L949.3 568.1L949.8 567.8L950.3 567.1L950.8 566.7L951.3 565.3L951.8 564.9L952.3 564.1L952.8 563.4L953.3 563.0L953.8 562.8L954.3 561.3L954.8 561.5L955.3 560.3L955.8 559.3L956.3 558.3L956.8 557.9L957.3 556.9L957.8 556.5L958.3 557.1L958.8 557.8L959.3 558.5L959.8 559.3L960.3 559.0L960.8 559.5L961.3 559.7L961.8 559.6L962.3 559.0L962.8 559.4L963.3 559.4L963.8 559.4L964.3 558.9L964.8 558.6L965.3 557.9L965.8 557.7L966.3 557.2L966.8 556.8L967.3 556.1L967.8 556.2L968.3 555.7L968.8 554.9L969.3 555.8L969.8 555.8L970.3 556.5L970.8 557.0L971.3 557.3L971.8 557.9L972.3 558.5L972.8 558.5L973.3 558.6L973.8 559.5L974.3 559.6L974.8 559.6L975.3 560.4L975.8 560.1L976.3 560.6L976.8 560.8L977.3 560.9L977.8 561.2L978.3 561.1L978.8 561.0L979.3 561.4L979.8 561.9L980.3 561.9L980.8 562.0L981.3 562.1L981.8 562.6L982.3 562.4L982.8 562.7L983.3 562.9L983.8 562.8L984.3 563.2L984.8 563.1L985.3 563.1L985.8 562.6L986.3 563.3L986.8 562.9L987.3 563.0L987.8 563.1L988.3 563.2L988.8 562.8L989.3 563.1L989.8 563.0L990.3 563.0L990.8 563.0L991.3 562.7L991.8 562.9L992.3 563.3L992.8 562.7L993.3 562.5L993.8 563.3L994.3 562.6L994.8 562.9L995.3 562.8L995.8 563.0L996.3 562.8L996.8 563.0L997.3 562.8L997.8 562.6L998.3 563.5L998.8 562.9L999.3 563.0L999.8 562.6L1000.3 562.7L1000.8 562.8L1001.3 563.2L1001.8 562.7L1002.3 563.0L1002.8 562.8L1003.3 562.7L1003.8 563.1L1004.3 563.0L1004.8 562.6L1005.3 563.1L1005.8 562.5L1006.3 562.8L1006.8 562.4L1007.3 562.8L1007.8 562.1L1008.3 562.3L1008.8 561.7L1009.3 561.3L1009.8 561.3L1010.3 560.6L1010.8 560.4L1011.3 560.5L1011.8 560.7L1012.3 560.3L1012.8 559.5L1013.3 559.1L1013.8 559.5L1014.3 558.8L1014.8 558.7L1015.3 558.6L1015.8 558.3L1016.3 558.1L1016.8 558.1L1017.3 558.2L1017.8 557.5L1018.3 557.5L1018.8 557.4L1019.3 557.2L1019.8 556.8L1020.3 556.4L1020.8 556.4L1021.3 555.8L1021.8 556.0L1022.3 556.1L1022.8 555.7L1023.3 554.6L1023.8 555.3L1024.3 555.0L1024.8 554.6L1025.3 554.6L1025.8 554.4L1026.3 554.0L1026.8 553.8L1027.3 553.3L1027.8 553.7L1028.3 552.6L1028.8 553.1L1029.3 552.7L1029.8 552.6L1030.3 552.2L1030.8 552.1L1031.3 551.7L1031.8 551.5L1032.3 551.9L1032.8 551.2L1033.3 551.4L1033.8 551.1L1034.3 550.8L1034.8 550.6L1035.3 550.3L1035.8 550.4L1036.3 549.9L1036.8 549.6L1037.3 549.7L1037.8 549.3L1038.3 549.3L1038.8 548.8L1039.3 548.7L1039.8 548.8L1040.3 548.6L1040.8 547.9L1041.3 547.9L1041.8 547.5L1042.3 547.7L1042.8 547.1L1043.3 546.7L1043.8 546.7L1044.3 546.5L1044.8 547.2L1045.3 546.2L1045.8 546.4L1046.3 545.8L1046.8 545.9L1047.3 545.9L1047.8 545.6L1048.3 545.5L1048.8 545.2L1049.3 544.7L1049.8 544.7L1050.3 544.4L1050.8 544.1L1051.3 544.5L1051.8 543.6L1052.3 543.3L1052.8 543.3L1053.3 543.5L1053.8 542.9L1054.3 542.9L1054.8 542.5L1055.3 542.7L1055.8 542.3L1056.3 542.1L1056.8 542.2L1057.3 541.4L1057.8 541.8L1058.3 541.5L1058.8 540.8L1059.3 540.8L1059.8 540.8L1060.3 540.2L1060.8 540.0L1061.3 540.4L1061.8 540.5L1062.3 540.0L1062.8 539.5L1063.3 539.2L1063.8 538.7L1064.3 538.9L1064.8 538.4L1065.3 538.3L1065.8 538.1L1066.3 538.1L1066.8 537.8L1067.3 536.9L1067.8 537.1L1068.3 537.2L1068.8 537.1L1069.3 536.8L1069.8 536.6L1070.3 535.9L1070.8 535.9L1071.3 535.7L1071.8 535.7L1072.3 535.3L1072.8 534.9L1073.3 535.1L1073.8 534.6L1074.3 534.5L1074.7 533.8L1075.0 510.4L1075.3 533.8L1075.3 534.0L1075.8 533.9L1076.3 533.8L1076.8 533.3L1077.3 532.6L1077.8 532.5L1078.3 532.8L1078.8 532.6L1079.3 532.0L1079.8 531.6L1080.3 531.9L1080.8 531.3L1081.3 531.1L1081.8 530.5L1082.3 530.0L1082.8 530.5L1083.3 530.7L1083.8 529.9L1084.3 529.4L1084.8 529.8L1085.3 529.0L1085.8 528.5L1086.3 528.7L1086.8 528.6L1087.3 528.1L1087.8 528.1L1088.3 527.9L1088.6 527.7L1088.9 518.6L1089.2 527.7L1089.3 527.9L1089.8 527.4L1090.3 527.3L1090.8 527.3L1091.3 526.7L1091.8 526.9L1092.3 526.3L1092.8 526.3L1093.3 526.1L1093.8 526.2L1094.3 526.0L1094.8 525.4L1095.3 525.1L1095.8 524.9L1096.3 524.8L1096.8 524.7L1097.3 524.7L1097.8 524.3L1098.3 524.8L1098.7 524.4L1099.0 515.0L1099.3 524.4L1099.3 524.5L1099.8 523.9L1100.3 523.8L1100.8 523.4L1101.3 523.5L1101.8 523.2L1102.3 522.8L1102.8 522.6L1103.3 522.8L1103.8 522.5L1104.3 521.8L1104.8 521.1L1105.3 520.6L1105.8 521.1L1106.3 520.8L1106.8 520.6L1107.3 520.5L1107.8 520.3L1108.3 519.7L1108.8 519.5L1109.3 519.8L1109.8 519.7L1110.3 519.0L1110.8 518.8L1111.3 518.7L1111.8 518.3L1112.3 518.0L1112.8 517.8L1113.3 517.9L1113.8 517.1L1114.3 517.2L1114.8 516.5L1115.3 516.7L1115.8 516.4L1116.3 516.1L1116.8 516.0L1117.3 515.2L1117.8 515.2L1118.3 515.0L1118.8 514.9L1119.3 514.7L1119.8 514.3L1120.3 514.2L1120.8 514.0L1121.3 514.3L1121.8 513.5L1122.3 513.3L1122.8 513.1L1123.3 512.7L1123.8 512.4L1124.3 512.5L1124.8 512.2L1125.3 512.0L1125.8 512.0L1126.3 512.3L1126.8 511.6L1127.3 511.7L1127.8 511.7L1128.3 511.7L1128.8 511.9L1129.3 511.9L1129.8 511.2L1130.3 511.4L1130.8 511.6L1131.3 511.3L1131.8 510.7L1132.3 510.7L1132.8 510.8L1133.3 510.9L1133.8 510.3L1134.3 510.7L1134.8 510.2L1135.3 510.5L1135.8 510.4L1136.3 510.1L1136.8 509.6L1137.3 508.6L1137.8 507.9L1138.3 507.5L1138.8 506.3L1139.3 505.6L1139.8 504.7L1140.3 504.8L1140.8 503.5L1141.3 503.2L1141.8 502.6L1142.3 502.8L1142.8 502.6L1143.3 502.7L1143.8 503.1L1144.3 502.9L1144.8 502.7L1145.3 503.0L1145.8 502.8L1146.3 503.3L1146.8 503.5L1147.3 503.4L1147.8 503.8L1148.3 503.9L1148.8 503.5L1149.3 503.9L1149.8 503.6L1150.3 503.8L1150.8 503.8L1151.3 503.9L1151.8 503.7L1152.3 504.0L1152.8 503.8L1153.3 504.6L1153.8 504.2L1154.3 504.3L1154.8 504.1L1155.3 504.3L1155.8 504.7L1156.3 504.2L1156.8 504.8L1157.3 504.4L1157.8 504.9L1158.3 504.3L1158.8 504.2L1159.3 503.9L1159.8 503.9L1160.3 503.1L1160.8 503.7L1161.3 503.2L1161.8 502.3L1162.3 502.6L1162.8 502.4L1163.3 502.7L1163.8 502.0L1164.3 501.9L1164.8 501.9L1165.3 501.5L1165.8 501.6L1166.3 501.1L1166.8 500.7L1167.3 500.8L1167.8 500.4L1168.3 500.6L1168.8 499.8L1169.3 499.4L1169.8 500.3L1170.3 499.4L1170.8 499.8L1171.3 499.1L1171.8 498.8L1172.3 498.7L1172.8 498.6L1173.3 498.2L1173.8 497.7L1174.3 497.9L1174.8 498.1L1175.3 497.6L1175.8 496.9L1176.3 497.8L1176.8 496.6L1177.3 496.5L1177.8 496.7L1178.3 496.4L1178.8 496.3L1179.3 495.9L1179.8 495.9L1180.3 495.6L1180.8 495.7L1181.3 495.4L1181.8 495.4L1182.3 494.5L1182.8 494.9L1183.3 494.5L1183.8 493.8L1184.3 493.3L1184.8 493.7L1185.3 493.5L1185.8 493.7L1186.3 492.5L1186.8 492.8L1187.3 492.2L1187.8 492.7L1188.3 492.5L1188.8 492.2L1189.3 492.4L1189.8 492.1L1190.3 491.7L1190.8 491.4L1191.3 491.1L1191.8 491.2L1192.3 490.8L1192.8 490.9L1193.3 490.9L1193.8 490.7L1194.3 489.9L1194.8 489.6L1195.3 490.1L1195.8 490.0L1196.3 489.4L1196.8 489.3L1197.3 488.9L1197.8 488.7L1198.3 488.3L1198.8 488.3L1199.3 488.1L1199.8 487.9L1200.3 487.7L1200.8 487.7L1201.3 486.7L1201.8 486.9L1202.3 486.9L1202.8 486.9L1203.3 487.1L1203.8 486.6L1204.3 486.6L1204.8 485.9L1205.3 485.8L1205.8 486.1L1206.3 484.9L1206.8 485.1L1207.3 485.0L1207.8 484.5L1208.3 485.2L1208.8 484.4L1209.3 484.1L1209.8 484.2L1210.3 484.2L1210.8 483.9L1211.3 483.4L1211.8 483.3L1212.3 482.2L1212.8 482.5L1213.3 482.8L1213.8 482.1L1214.3 482.3L1214.8 482.7L1215.3 482.1L1215.8 481.5L1216.3 481.2L1216.8 480.1L1217.3 481.1L1217.8 481.1L1218.3 480.7L1218.8 481.1L1219.3 480.1L1219.8 480.5L1220.3 478.7L1220.8 480.3L1221.3 479.5L1221.8 478.8L1222.3 478.8L1222.8 479.8L1223.3 479.5L1223.8 479.2L1224.3 478.4L1224.8 477.9L1225.3 477.2L1225.8 478.1L1226.3 477.0L1226.8 477.6L1227.3 477.3L1227.8 476.7L1228.3 477.1L1228.8 476.6L1229.3 476.1L1229.8 475.2L1230.3 476.6L1230.8 475.5L1231.3 476.0L1231.8 475.1L1232.3 474.9L1232.8 476.0L1233.3 475.0L1233.8 475.3L1234.3 474.2L1234.8 474.4L1235.3 474.2L1235.8 474.9L1236.3 473.8L1236.8 474.2L1237.3 473.4L1237.8 472.9L1238.3 473.0L1238.8 472.8L1239.3 472.6L1239.8 473.1L1240.3 472.2L1240.8 472.4L1241.3 472.8L1241.8 471.8L1242.3 470.5L1242.8 470.4L1243.3 470.8L1243.8 470.9L1244.3 471.0L1244.8 469.9L1245.3 469.5L1245.8 470.1L1246.3 469.4L1246.8 469.0L1247.3 470.0L1247.8 469.4L1248.3 469.5L1248.8 470.3L1249.3 468.9L1249.8 468.3L1250.3 468.4L1250.8 467.2L1251.3 468.4L1251.8 467.6L1252.3 467.1L1252.8 467.9L1253.3 466.6L1253.8 467.2L1254.3 467.4L1254.8 466.9L1255.3 466.4L1255.8 465.6L1256.3 465.1L1256.8 466.0L1257.3 465.1L1257.8 464.8L1258.3 465.9L1258.8 464.9L1259.3 464.1L1259.8 465.1L1260.3 464.2L1260.8 463.9L1261.3 464.8L1261.8 464.2L1262.3 463.9L1262.8 463.5L1263.3 462.8L1263.8 462.2L1264.3 462.4L1264.8 463.8L1265.3 463.5L1265.8 462.6L1266.3 462.4L1266.8 462.0L1267.3 461.8L1267.8 462.6L1268.3 463.1L1268.8 461.8L1269.3 461.7L1269.8 461.1L1270.3 460.8L1270.8 460.1L1271.3 459.5L1271.8 460.0L1272.3 459.7L1272.8 458.2L1273.3 458.3L1273.8 460.1L1274.3 459.8L1274.8 459.4L1275.3 458.7L1275.8 458.0L1276.3 458.4L1276.8 458.5L1277.3 457.5L1277.8 458.4L1278.3 457.2L1278.8 456.0L1279.3 457.5L1279.8 457.6L1280.3 456.6L1280.8 457.1L1281.3 457.1L1281.8 454.3L1282.3 456.5L1282.8 455.3L1283.3 456.0L1283.8 455.5L1284.3 455.7L1284.8 454.7L1285.3 454.4L1285.8 455.2L1286.3 456.2L1286.8 455.0L1287.3 453.8L1287.8 454.2L1288.3 453.4L1288.8 455.1L1289.3 453.6L1289.8 452.6L1290.3 453.3L1290.8 452.5L1291.3 453.3L1291.8 451.7L1292.3 452.2L1292.8 452.4L1293.3 451.5L1293.8 450.9L1294.3 451.4L1294.8 452.8L1295.3 451.8L1295.8 451.3L1296.3 451.7L1296.8 451.9L1297.3 450.4L1297.8 449.5L1298.3 451.6L1298.8 449.5L1299.3 450.4L1299.8 448.7L1300.3 449.7L1300.8 448.3L1301.3 449.6L1301.8 449.5L1302.3 449.2L1302.8 449.0L1303.3 448.0L1303.8 448.2L1304.3 449.0L1304.8 447.4L1305.3 448.5L1305.8 447.6L1306.3 447.3L1306.8 446.6L1307.3 446.7L1307.8 447.3L1308.3 446.6L1308.8 446.8L1309.3 445.0L1309.8 447.2L1310.3 445.0L1310.8 446.5L1311.3 444.4L1311.8 444.9L1312.3 445.3L1312.8 445.4L1313.3 445.2L1313.8 444.2L1314.3 445.0L1314.8 444.8L1315.3 443.8L1315.8 443.4L1316.3 443.1L1316.8 443.6L1317.3 441.4L1317.8 442.1L1318.3 443.8L1318.8 441.7L1319.3 442.1L1319.8 443.9L1320.3 442.8L1320.8 443.4L1321.3 442.3L1321.8 442.2L1322.3 441.2L1322.8 440.6L1323.3 439.3L1323.8 440.8L1324.3 440.3L1324.8 441.3L1325.3 441.3L1325.8 439.3L1326.3 439.2L1326.8 440.4L1327.3 441.1L1327.8 440.9L1328.3 438.9L1328.8 439.2L1329.3 440.3L1329.8 438.5L1330.3 438.1L1330.8 440.0L1331.3 438.0L1331.8 437.4L1332.3 439.1L1332.8 437.3L1333.3 437.1L1333.8 437.7L1334.3 437.9L1334.8 437.9L1335.3 436.8L1335.8 436.9L1336.3 436.7L1336.8 437.0L1337.3 434.8L1337.8 436.6L1338.3 434.6L1338.8 435.1L1339.3 435.7L1339.8 435.1L1340.3 435.4L1340.8 434.4L1341.3 434.8L1341.8 436.1L1342.3 432.7L1342.8 435.1L1343.3 435.6L1343.8 433.2L1344.3 433.5L1344.8 433.4L1345.3 433.9L1345.8 432.5L1346.3 432.7L1346.8 432.8L1347.3 432.2L1347.8 433.6L1348.3 431.7L1348.8 432.8L1349.3 432.6L1349.8 432.0L1350.0 431.7L1350.4 430.5L1350.8 430.8L1351.2 431.0L1351.6 430.9L1352.0 431.0L1352.4 431.4L1352.8 430.8L1353.2 430.3L1353.6 430.4L1354.0 431.3L1354.4 430.8L1354.8 430.4L1355.2 428.9L1355.6 431.0L1356.0 428.6L1356.4 429.6L1356.8 428.3L1357.2 427.6L1357.6 426.7L1358.0 429.0L1358.4 428.9L1358.8 428.3L1359.2 427.9L1359.6 426.9L1360.0 428.3L1360.4 427.8L1360.8 426.3L1361.2 427.0L1361.6 427.4L1362.0 426.0L1362.4 428.2L1362.8 425.5L1363.2 428.6L1363.6 427.8L1364.0 426.2L1364.4 428.0L1364.8 427.7L1365.2 426.9L1365.6 426.8L1366.0 425.1L1366.4 423.8L1366.8 425.7L1367.2 425.6L1367.6 424.6L1368.0 427.2L1368.4 425.6L1368.8 423.6L1369.2 424.8L1369.6 425.0L1370.0 423.0L1370.4 424.9L1370.8 424.1L1371.2 422.8L1371.6 424.5L1372.0 424.7L1372.4 420.7L1372.8 424.0L1373.2 423.1L1373.6 423.0L1374.0 421.7L1374.4 422.1L1374.8 424.5L1375.2 423.3L1375.6 422.4L1376.0 422.8L1376.4 421.1L1376.8 422.3L1377.2 420.7L1377.6 422.7L1378.0 420.6L1378.4 421.9L1378.8 422.2L1379.2 421.3L1379.6 421.2L1380.0 421.7"/>
<path stroke="#f00" d="M1380.0 421.7L1380.4 420.9L1380.8 419.4L1381.2 421.6L1381.6 420.8L1382.0 419.9L1382.4 421.5L1382.8 419.3L1383.2 419.7L1383.6 418.8L1384.0 418.8L1384.4 419.5L1384.8 418.7L1385.2 420.9L1385.6 418.5L1386.0 420.2L1386.4 417.4L1386.8 417.8L1387.2 418.6L1387.6 417.7L1388.0 418.8L1388.4 417.5L1388.8 417.7L1389.2 418.8L1389.6 416.5L1390.0 418.4L1390.4 418.5L1390.8 418.3L1391.2 418.7L1391.6 416.4L1392.0 418.8L1392.4 415.6L1392.8 414.6L1393.2 416.6L1393.6 418.4L1394.0 415.2L1394.4 417.7L1394.8 414.6L1395.2 416.6L1395.6 415.9L1396.0 414.7L1396.4 413.2L1396.8 415.9L1397.2 416.0L1397.6 415.6L1398.0 415.8L1398.4 413.5L1398.8 416.8L1399.2 415.5L1399.6 413.1L1400.0 416.4L1400.4 413.8L1400.8 413.8L1401.2 414.7L1401.6 412.7L1402.0 412.4L1402.4 413.1L1402.8 411.9L1403.2 413.0L1403.6 414.6L1404.0 411.6L1404.4 412.4L1404.8 411.9L1405.2 413.2L1405.6 410.5L1406.0 410.8L1406.4 411.2L1406.8 413.7L1407.2 410.7L1407.6 409.5L1408.0 409.6L1408.4 412.0L1408.8 412.0L1409.2 410.6L1409.6 410.6L1410.0 408.7L1410.4 411.0L1410.8 410.4L1411.2 409.5L1411.6 410.9L1412.0 411.2L1412.4 409.5L1412.8 409.7L1413.2 406.7L1413.6 408.1L1414.0 410.4L1414.4 407.5L1414.8 407.7L1415.2 409.9L1415.6 405.6L1416.0 407.6L1416.4 409.2L1416.8 407.5L1417.2 406.9L1417.6 406.5L1418.0 407.6L1418.4 406.7L1418.8 407.7L1419.2 407.1L1419.6 407.3L1420.0 408.2L1420.4 405.8L1420.8 404.9L1421.2 406.3L1421.6 406.9L1422.0 406.0L1422.4 404.0L1422.8 406.6L1423.2 403.1L1423.6 402.9L1424.0 406.2L1424.4 407.0L1424.8 404.9L1425.2 403.7L1425.6 406.3L1426.0 403.1L1426.4 404.6L1426.8 403.7L1427.2 404.6L1427.6 404.7L1428.0 402.9L1428.4 405.4L1428.8 404.9L1429.2 403.7L1429.6 403.3L1430.0 403.4L1430.4 401.3L1430.8 402.5L1431.2 403.0L1431.6 404.0L1432.0 402.2L1432.4 402.0L1432.8 402.8L1433.2 403.7L1433.6 402.4L1434.0 401.9L1434.4 401.2L1434.8 403.5L1435.2 401.4L1435.6 400.0L1436.0 401.4L1436.4 399.0L1436.8 400.6L1437.2 401.5L1437.6 400.6L1438.0 400.3L1438.4 401.3L1438.8 401.3L1439.2 398.6L1439.6 398.4L1440.0 399.3L1440.4 398.4L1440.8 400.4L1441.2 400.5L1441.6 399.3L1442.0 397.3L1442.4 396.4L1442.8 398.2L1443.2 397.2L1443.6 399.1L1444.0 397.0L1444.4 397.0L1444.8 397.5L1445.2 399.4L1445.6 398.4L1446.0 398.3L1446.4 397.2L1446.8 398.6L1447.2 394.7L1447.6 398.1L1448.0 396.4L1448.4 398.8L1448.8 397.8L1449.2 398.4L1449.6 395.0L1450.0 400.0L1450.4 396.6L1450.8 396.7L1451.2 395.0L1451.6 396.5L1452.0 392.2L1452.4 396.8L1452.8 396.2L1453.2 395.2L1453.6 397.4L1454.0 395.8L1454.4 395.7L1454.8 394.1L1455.2 395.0L1455.6 392.1L1456.0 392.8L1456.4 394.5L1456.8 393.0L1457.2 391.5L1457.6 394.0L1458.0 390.9L1458.4 396.0L1458.8 391.8L1459.2 391.7L1459.6 395.6L1460.0 390.4L1460.4 389.7L1460.8 392.6L1461.2 392.5L1461.6 394.2L1462.0 392.1L1462.4 390.2L1462.8 392.3L1463.2 391.4L1463.6 394.1L1464.0 392.3L1464.4 390.1L1464.8 389.9L1465.2 390.9L1465.6 390.8L1466.0 391.3L1466.4 391.5L1466.8 388.7L1467.2 391.2L1467.6 391.5L1468.0 388.4L1468.4 388.3L1468.8 391.5L1469.2 390.9L1469.6 391.5L1470.0 392.7L1470.4 390.0L1470.8 387.9L1471.2 389.9L1471.6 388.1L1472.0 390.0L1472.4 390.4L1472.8 389.0L1473.2 389.4L1473.6 388.7L1474.0 389.3L1474.4 386.4L1474.8 391.1L1475.2 387.3L1475.6 387.3L1476.0 386.2L1476.4 387.8L1476.8 386.9L1477.2 384.0L1477.6 390.0L1478.0 388.1L1478.4 386.5L1478.8 387.4L1479.2 388.8L1479.6 388.4L1480.0 387.2L1480.4 387.9L1480.8 381.9L1481.2 388.2L1481.6 385.6L1482.0 384.6L1482.4 384.1L1482.8 385.7L1483.2 382.7L1483.6 385.7L1484.0 384.0L1484.4 386.2L1484.8 381.8L1485.2 385.5L1485.6 384.6L1486.0 382.4L1486.4 387.0L1486.8 386.4L1487.2 382.4L1487.6 383.8L1488.0 386.6L1488.4 383.6L1488.8 382.1L1489.2 381.9L1489.6 382.1L1490.0 384.0L1490.4 384.9L1490.8 382.3L1491.2 381.1L1491.6 381.1L1492.0 379.3L1492.4 383.3L1492.8 382.4L1493.2 384.4L1493.6 386.7L1494.0 384.0L1494.4 381.1L1494.8 380.8L1495.2 378.8L1495.6 377.0L1496.0 384.6L1496.4 381.6L1496.8 378.0L1497.2 382.2L1497.6 376.8L1498.0 380.2L1498.4 380.6L1498.8 379.1L1499.2 379.2L1499.6 381.4L1500.0 378.5L1500.4 381.6L1500.8 376.3L1501.2 378.4L1501.6 382.9L1502.0 377.1L1502.4 377.0L1502.8 379.0L1503.2 378.0L1503.6 379.6L1504.0 380.5L1504.4 379.5L1504.8 378.9L1505.2 377.7L1505.6 378.5L1506.0 379.7L1506.4 376.2L1506.8 377.0L1507.2 375.5L1507.6 377.2L1508.0 377.9L1508.4 376.2L1508.8 375.2L1509.2 375.5L1509.6 378.4L1510.0 375.6L1510.4 379.0L1510.8 375.0L1511.2 374.7L1511.6 377.8L1512.0 373.9L1512.4 378.4L1512.8 371.8L1513.2 376.1L1513.6 374.9L1514.0 374.8L1514.4 375.9L1514.8 371.2L1515.2 379.5L1515.6 373.8L1516.0 380.6L1516.4 376.7L1516.8 375.6L1517.2 371.0L1517.6 378.4L1518.0 375.6L1518.4 377.4L1518.8 370.9L1519.2 370.0L1519.6 372.9L1520.0 375.4L1520.4 375.3L1520.8 376.3L1521.2 371.6L1521.6 370.1L1522.0 375.3L1522.4 371.3L1522.8 372.8L1523.2 377.6L1523.6 372.0L1524.0 373.7L1524.4 373.3L1524.8 372.2L1525.2 373.2L1525.6 373.0L1526.0 372.2L1526.4 375.6L1526.8 374.3L1527.2 368.9L1527.6 375.1L1528.0 371.5L1528.4 371.1L1528.8 369.6L1529.2 373.0L1529.6 371.2L1530.0 369.1L1530.4 368.6L1530.8 373.3L1531.2 369.9L1531.6 369.1L1532.0 376.3L1532.4 371.1L1532.8 371.4L1533.2 370.6L1533.6 370.1L1534.0 367.5L1534.4 371.3L1534.8 370.1L1535.2 367.6L1535.6 369.2L1536.0 373.7L1536.4 369.6L1536.8 369.2L1537.2 367.5L1537.6 367.0L1538.0 369.9L1538.4 370.6L1538.8 368.8L1539.2 370.7L1539.6 366.0L1540.0 367.1L1540.4 368.8L1540.8 370.8L1541.2 366.4L1541.6 369.7L1542.0 364.8L1542.4 370.0L1542.8 370.6L1543.2 366.1L1543.6 367.6L1544.0 368.8L1544.4 365.0L1544.8 365.5L1545.2 365.5L1545.6 367.7L1546.0 368.6L1546.4 363.9L1546.8 363.8L1547.2 367.7L1547.6 364.1L1548.0 365.0L1548.4 367.6L1548.8 365.3L1549.2 367.5L1549.6 365.4L1550.0 364.6L1550.4 363.3L1550.8 359.3L1551.2 363.5L1551.6 359.7L1552.0 366.7L1552.4 366.4L1552.8 365.3L1553.2 366.9L1553.6 369.3L1554.0 359.2L1554.4 363.4L1554.8 365.8L1555.2 362.7L1555.6 363.3L1556.0 366.2L1556.4 364.8L1556.8 358.8L1557.2 366.6L1557.6 360.2L1558.0 363.3L1558.4 363.9L1558.8 357.8L1559.2 367.0L1559.6 364.1L1560.0 362.9L1560.4 364.2L1560.8 360.9L1561.2 363.5L1561.6 363.0L1562.0 354.5L1562.4 357.4L1562.8 363.8L1563.2 357.9L1563.6 362.0L1564.0 359.8L1564.4 362.3L1564.8 355.2L1565.2 360.4L1565.6 359.9L1566.0 360.9L1566.4 360.4L1566.8 360.1L1567.2 360.9L1567.6 360.8L1568.0 357.2L1568.4 363.5L1568.8 359.6L1569.2 356.8L1569.6 361.2L1570.0 354.1L1570.4 361.7L1570.8 357.7L1571.2 358.4L1571.6 357.8L1572.0 359.2L1572.4 355.7L1572.8 356.1L1573.2 359.0L1573.6 355.7L1574.0 357.1L1574.4 356.8L1574.8 355.7L1575.2 354.2L1575.6 354.0L1576.0 355.1L1576.4 352.7L1576.8 352.7L1577.2 365.2L1577.6 356.1L1578.0 358.9L1578.4 356.7L1578.8 357.9L1579.2 356.3L1579.6 358.8L1580.0 355.8L1580.4 356.1L1580.8 351.6L1581.2 358.8L1581.6 354.6L1582.0 354.7L1582.4 356.4L1582.8 355.4L1583.2 354.1L1583.6 358.5L1584.0 351.0L1584.4 347.2L1584.8 353.4L1585.2 346.3L1585.6 353.1L1586.0 358.1L1586.4 358.6L1586.8 349.7L1587.2 354.3L1587.6 348.6L1588.0 354.0L1588.4 357.3L1588.8 350.0L1589.2 357.8L1589.6 353.2L1590.0 361.4L1590.4 350.5L1590.8 349.2L1591.2 357.0L1591.6 355.1L1592.0 353.8L1592.4 348.8L1592.8 352.6L1593.2 349.0L1593.6 356.9L1594.0 353.7L1594.4 348.5L1594.8 348.4L1595.2 345.5L1595.6 348.7L1596.0 351.1L1596.4 352.4L1596.8 354.5L1597.2 348.7L1597.6 355.3L1598.0 343.2L1598.4 349.9L1598.8 351.9L1599.2 347.8L1599.6 350.8L1600.0 352.4L1600.4 347.2L1600.8 349.8L1601.2 353.2L1601.6 344.6L1602.0 353.3L1602.4 347.9L1602.8 343.2L1603.2 349.5L1603.6 351.1L1604.0 347.6L1604.4 349.0L1604.8 349.3L1605.2 348.2L1605.6 348.3L1606.0 350.9L1606.4 350.2L1606.8 347.2L1607.2 339.1L1607.6 341.8L1608.0 345.7L1608.4 351.2L1608.8 348.7L1609.2 353.5L1609.6 348.1L1610.0 347.7L1610.4 344.6L1610.8 350.8L1611.2 339.4L1611.6 347.1L1612.0 344.4L1612.4 343.1L1612.8 348.8L1613.2 347.9L1613.6 346.5L1614.0 343.0L1614.4 338.2L1614.8 338.4L1615.2 333.2L1615.6 338.1L1616.0 345.4L1616.4 349.3L1616.8 338.8L1617.2 348.8L1617.6 351.7L1618.0 347.7L1618.4 350.5L1618.8 342.5L1619.2 340.3L1619.6 343.7L1620.0 346.8L1620.4 344.5L1620.8 343.3L1621.2 345.8L1621.6 337.7L1622.0 345.9L1622.4 332.5L1622.8 348.4L1623.2 348.6L1623.6 353.0L1624.0 337.7L1624.4 338.9L1624.8 336.5L1625.2 334.1L1625.6 329.5L1626.0 344.9L1626.4 339.8L1626.8 340.1L1627.2 332.0L1627.6 341.1L1628.0 351.1L1628.4 341.0L1628.8 344.2L1629.2 334.5L1629.6 345.6L1630.0 339.7L1630.4 340.7L1630.8 341.6L1631.2 338.5L1631.6 343.1L1632.0 339.0L1632.4 337.0L1632.8 333.9L1633.2 333.1L1633.6 343.8L1634.0 344.3L1634.4 338.6L1634.8 337.8L1635.2 335.7L1635.6 339.6L1636.0 346.0L1636.4 339.8L1636.8 335.8L1637.2 344.0L1637.6 342.4L1638.0 328.3L1638.4 335.4L1638.8 345.2L1639.2 340.0L1639.6 337.6L1640.0 339.9L1640.4 330.8L1640.8 330.7L1641.2 337.0L1641.6 337.6L1642.0 346.0L1642.4 336.4L1642.8 338.9L1643.2 345.6L1643.6 333.6L1644.0 335.0L1644.4 336.6L1644.8 338.3L1645.2 337.3L1645.6 340.1L1646.0 328.8L1646.4 328.2L1646.8 335.4L1647.2 325.8L1647.6 344.6L1648.0 330.7L1648.4 331.4L1648.8 338.5L1649.2 336.7L1649.6 337.9L1650.0 334.0L1650.4 325.7L1650.8 333.0L1651.2 329.5L1651.6 323.4L1652.0 331.6L1652.4 339.2L1652.8 327.8L1653.2 328.6L1653.6 327.9L1654.0 337.8L1654.4 319.4L1654.8 335.2L1655.2 333.0L1655.6 331.5L1656.0 326.1L1656.4 330.4L1656.8 344.8L1657.2 332.8L1657.6 328.7L1658.0 336.4L1658.4 322.7L1658.8 338.6L1659.2 329.6L1659.6 348.0L1660.0 346.1L1660.4 334.2L1660.8 332.8L1661.2 327.3L1661.6 334.2L1662.0 335.1L1662.4 320.4L1662.8 319.3L1663.2 333.4L1663.6 325.1L1664.0 330.2L1664.4 330.4L1664.8 330.1L1665.2 327.1L1665.6 333.5L1666.0 339.5L1666.4 340.7L1666.8 326.0L1667.2 329.2L1667.6 328.7L1668.0 316.2L1668.4 315.7L1668.8 326.6L1669.2 331.3L1669.6 333.2L1670.0 322.1L1670.4 332.1L1670.8 325.3L1671.2 323.3L1671.6 334.9L1672.0 312.6L1672.4 308.1L1672.8 341.5L1673.2 325.7L1673.6 332.4L1674.0 325.3L1674.4 320.1L1674.8 316.1L1675.2 310.8L1675.6 327.3L1676.0 316.5L1676.4 324.3L1676.8 327.7L1677.2 324.4L1677.6 325.3L1678.0 337.4L1678.4 326.6L1678.8 327.0L1679.2 322.9L1679.6 336.3L1680.0 335.2L1680.4 318.9L1680.8 327.4L1681.2 322.5L1681.6 319.6L1682.0 315.2L1682.4 339.7L1682.8 328.5L1683.2 304.2L1683.6 332.7L1684.0 339.1L1684.4 323.8L1684.8 322.1L1685.2 324.2L1685.6 331.2L1686.0 317.5L1686.4 326.0L1686.8 308.5L1687.2 333.0L1687.6 311.8L1688.0 318.5L1688.4 325.9L1688.8 331.3L1689.2 314.9L1689.6 315.0L1690.0 336.2L1690.4 314.9L1690.8 313.8L1691.2 316.4L1691.6 328.1L1692.0 328.0L1692.4 331.2L1692.8 325.1L1693.2 316.6L1693.6 325.3L1694.0 328.0L1694.4 309.4L1694.8 314.4L1695.2 320.3L1695.6 336.9L1696.0 317.4L1696.4 321.3L1696.8 320.6L1697.2 324.3L1697.6 326.9L1698.0 309.6L1698.4 292.3L1698.8 327.8L1699.2 298.2L1699.6 323.2L1700.0 324.6L1700.4 327.0L1700.8 308.8L1701.2 322.6L1701.6 326.4L1702.0 326.5L1702.4 332.3L1702.8 308.7L1703.2 313.9L1703.6 316.2L1704.0 318.2L1704.4 330.2L1704.8 327.8L1705.2 319.5L1705.6 337.9L1706.0 325.2L1706.4 306.3L1706.8 332.4L1707.2 304.2L1707.6 304.6L1708.0 313.2L1708.4 312.9L1708.8 316.9L1709.2 317.9L1709.6 309.0L1710.0 309.3L1710.4 324.7L1710.8 320.9L1711.2 314.8L1711.6 308.1L1712.0 317.0L1712.4 306.0L1712.8 302.6L1713.2 327.3L1713.6 324.7L1714.0 312.9L1714.4 334.2L1714.8 314.7L1715.2 324.2L1715.6 321.9L1716.0 317.3L1716.4 317.2L1716.8 333.4L1717.2 325.8L1717.6 295.0L1718.0 322.4L1718.4 290.6L1718.8 303.7L1719.2 320.4L1719.6 303.4L1719.7 329.6L1720.0 339.8L1720.0 329.6L1720.3 267.6L1720.6 329.6L1720.4 311.4L1720.8 321.7L1721.2 318.8L1721.6 324.2L1722.0 330.3L1722.4 298.1L1722.8 314.2L1723.2 316.7L1723.6 326.8L1724.0 320.8L1724.4 311.0L1724.8 298.5L1725.2 295.6L1725.6 303.0L1726.0 316.0L1726.4 315.4L1726.8 330.4L1727.2 317.1L1727.6 323.1L1728.0 297.3L1728.4 315.8L1728.8 307.4L1729.2 305.8L1729.6 327.3L1730.0 312.5L1730.4 312.0L1730.8 313.1L1731.2 296.8L1731.6 292.9L1732.0 334.9L1732.4 313.1L1732.8 311.4L1733.2 314.6L1733.6 307.2L1734.0 308.2L1734.4 301.2L1734.8 315.4L1735.2 310.1L1735.6 324.1L1736.0 330.2L1736.4 298.7L1736.8 319.2L1737.2 305.6L1737.6 337.2L1738.0 313.0L1738.4 322.8L1738.8 305.0L1739.2 326.0L1739.6 302.0L1740.0 295.4L1740.4 280.3L1740.8 309.4L1741.2 305.3L1741.6 312.0L1742.0 298.8L1742.4 309.3L1742.8 309.3L1743.2 295.9L1743.6 333.0L1744.0 336.3L1744.4 312.6L1744.8 316.2L1745.2 317.3L1745.6 317.9L1746.0 299.5L1746.4 312.8L1746.8 331.1L1747.2 306.9L1747.6 305.8L1748.0 297.2L1748.4 303.3L1748.8 281.5L1749.2 308.5L1749.6 322.0L1750.0 312.6L1750.4 309.9L1750.8 309.2L1751.2 309.3L1751.6 294.6L1752.0 284.4L1752.4 331.6L1752.8 314.6L1753.2 280.0L1753.6 328.3L1754.0 303.0L1754.4 320.4L1754.8 305.7L1755.2 298.7L1755.6 318.1L1756.0 302.8L1756.4 275.4L1756.8 314.1L1757.2 306.1L1757.6 305.0L1758.0 302.2L1758.4 312.1L1758.8 326.1L1759.2 319.5L1759.6 310.0L1760.0 307.8L1760.4 296.6L1760.8 329.4L1761.2 280.5L1761.6 292.3L1762.0 303.3L1762.4 307.0L1762.8 309.0L1763.2 299.6L1763.6 330.2L1764.0 321.4L1764.4 280.2L1764.8 291.7L1765.2 286.4L1765.6 323.6L1766.0 299.0L1766.4 283.5L1766.8 300.7L1767.2 287.6L1767.6 304.8L1768.0 313.2L1768.4 288.2L1768.8 306.6L1769.2 307.9L1769.6 294.0L1770.0 310.4L1770.4 295.2L1770.8 312.2L1771.2 301.6L1771.6 297.7L1771.7 322.5L1772.0 337.2L1772.3 322.5L1772.4 316.6L1772.8 299.0L1773.2 266.1L1773.6 306.1L1774.0 296.0L1774.4 308.3L1774.8 302.7L1775.2 298.5L1775.6 297.6L1776.0 321.6L1776.4 322.3L1776.8 319.7L1777.2 285.3L1777.6 296.4L1778.0 303.6L1778.4 274.2L1778.8 315.7L1779.2 285.0L1779.6 314.2L1780.0 292.3L1780.4 306.1L1780.8 275.4L1781.2 264.2L1781.6 288.9L1782.0 280.3L1782.4 280.4L1782.8 291.6L1783.2 302.2L1783.6 309.8L1784.0 285.0L1784.4 276.5L1784.8 296.3L1785.2 281.7L1785.6 279.5L1786.0 290.3L1786.4 312.2L1786.8 300.2L1787.2 266.5L1787.6 323.6L1788.0 276.9L1788.4 297.9L1788.5 284.5L1788.8 333.4L1789.1 284.5L1789.2 309.4L1789.6 301.9L1790.0 312.9L1790.4 299.0L1790.8 293.4L1791.2 312.7L1791.6 267.7L1792.0 276.7L1792.4 274.0L1792.8 292.4L1793.2 287.7L1793.6 282.2L1794.0 304.9L1794.4 302.2L1794.8 287.4L1795.2 273.7L1795.6 325.8L1796.0 298.9L1796.4 285.5L1796.8 296.9L1797.2 299.2L1797.6 284.6L1798.0 304.9L1798.4 296.0L1798.8 286.3L1799.2 310.4L1799.6 287.4L1800.0 312.9L1800.4 296.0L1800.8 290.4L1801.2 311.3L1801.6 288.0L1802.0 301.2L1802.4 313.4L1802.8 288.2L1803.2 284.7L1803.6 304.9L1804.0 308.3L1804.4 260.1L1804.8 300.4L1805.2 309.9L1805.6 284.3L1806.0 308.1L1806.4 288.0L1806.8 282.6L1807.2 288.1L1807.6 303.6L1808.0 286.4L1808.4 283.5L1808.8 292.0L1809.2 304.4L1809.6 260.1L1810.0 308.7L1810.4 313.5L1810.8 275.1L1811.2 289.5L1811.6 297.8L1812.0 292.4L1812.4 320.2L1812.8 292.5L1813.2 281.4L1813.6 284.3L1814.0 295.2L1814.4 278.3L1814.8 280.1L1815.2 281.7L1815.6 316.4L1816.0 299.7L1816.4 270.7L1816.8 297.0L1817.2 248.5L1817.6 289.3L1818.0 299.6L1818.4 295.1L1818.8 297.8L1819.2 292.5L1819.6 278.5L1820.0 285.8L1820.4 284.9L1820.8 265.2L1821.2 290.2L1821.6 273.1L1822.0 299.7L1822.4 325.9L1822.8 323.7L1823.2 328.9L1823.6 281.5L1824.0 281.8L1824.4 299.8L1824.8 272.8L1825.2 299.1L1825.6 278.9L1826.0 293.7L1826.4 281.2L1826.8 314.4L1827.2 306.9L1827.6 301.7L1828.0 267.4L1828.4 308.6L1828.8 280.5L1829.2 264.7L1829.6 292.7L1830.0 305.7L1830.4 262.2L1830.8 301.0L1831.2 283.5L1831.6 284.1L1832.0 295.3L1832.4 281.0L1832.8 275.4L1833.2 305.3L1833.6 244.1L1834.0 304.1L1834.4 264.9L1834.8 307.4L1835.2 266.0L1835.6 310.5L1836.0 256.5L1836.4 317.6L1836.8 289.1L1837.2 282.9L1837.6 281.0L1838.0 304.1L1838.4 282.7L1838.8 297.0L1839.2 288.3L1839.6 266.6L1840.0 315.6L1840.4 283.5L1840.8 291.0L1841.2 290.2L1841.6 285.7L1842.0 315.5L1842.4 291.7L1842.8 279.7L1843.2 286.3L1843.6 279.3L1844.0 264.7L1844.4 304.6L1844.8 267.0L1845.2 306.9L1845.6 285.9L1846.0 299.6L1846.4 283.6L1846.8 278.5L1847.2 325.7L1847.6 277.2L1848.0 267.2L1848.4 291.8L1848.8 309.3L1849.2 260.3L1849.6 273.6L1850.0 299.0L1850.4 300.1L1850.8 294.1L1851.2 275.3L1851.6 286.8L1852.0 269.8L1852.4 291.2L1852.8 282.6L1853.2 288.1L1853.6 278.8L1854.0 295.3L1854.4 283.6L1854.8 268.4L1855.2 308.5L1855.6 286.4L1856.0 276.6L1856.4 278.8L1856.8 309.0L1857.2 283.2L1857.6 286.9L1858.0 265.2L1858.4 274.4L1858.8 269.8L1859.2 264.6L1859.6 260.3L1860.0 273.3L1860.4 255.4L1860.8 291.5L1861.2 293.2L1861.6 261.8L1862.0 286.5L1862.4 264.9L1862.8 284.3L1863.2 286.9L1863.6 245.7L1864.0 230.2L1864.4 286.4L1864.8 286.1L1865.2 276.1L1865.6 265.7L1866.0 262.6L1866.4 226.0L1866.8 302.9L1867.2 231.9L1867.6 279.3L1868.0 270.9L1868.4 281.1L1868.8 250.3L1869.2 258.0L1869.6 283.1L1870.0 252.2L1870.4 275.4L1870.8 247.6L1871.2 277.0L1871.6 282.3L1872.0 273.4L1872.1 283.5L1872.4 225.3L1872.7 283.5L1872.8 249.9L1873.2 261.7L1873.6 265.5L1874.0 299.9L1874.4 260.4L1874.8 271.7L1875.2 295.7L1875.6 275.7L1876.0 288.8L1876.4 250.0L1876.8 290.6L1877.2 270.8L1877.6 280.6L1878.0 284.5L1878.4 231.1L1878.8 293.0L1879.2 261.6L1879.6 292.7L1880.0 264.0L1880.4 273.3L1880.8 237.5L1881.2 245.4L1881.6 289.4L1882.0 251.9L1882.4 273.9L1882.4 267.5L1882.7 216.3L1883.0 267.5L1883.2 245.1L1883.6 263.6L1884.0 265.2L1884.4 279.9L1884.8 259.6L1885.2 255.0L1885.6 297.1L1886.0 297.4L1886.4 269.5L1886.8 246.6L1887.2 275.4L1887.6 257.2L1888.0 297.3L1888.4 267.0L1888.8 253.8L1889.2 261.0L1889.6 247.1L1890.0 265.4L1890.4 240.1L1890.8 271.4L1891.2 284.5L1891.6 276.5L1892.0 246.9L1892.4 274.5L1892.8 257.6L1893.2 235.1L1893.6 263.7L1894.0 283.9L1894.4 270.2L1894.8 258.8L1895.2 251.6L1895.6 264.4L1896.0 275.1L1896.4 268.5L1896.8 290.1L1897.2 282.4L1897.6 286.3L1898.0 259.1L1898.4 274.9L1898.8 265.8L1899.2 273.3L1899.6 271.7L1899.7 318.6L1900.0 219.5L1900.3 318.6L1900.4 241.1L1900.8 273.8L1901.2 255.3L1901.6 274.8L1902.0 271.7L1902.4 299.0L1902.8 262.6L1903.2 251.2L1903.6 272.8L1904.0 271.7L1904.4 219.0L1904.8 307.2L1905.2 246.2L1905.5 299.6L1905.8 334.7L1906.1 299.6L1906.0 292.9L1906.4 296.3L1906.8 270.8L1907.2 247.7L1907.6 249.6L1908.0 294.1L1908.4 255.8L1908.8 275.1L1909.2 257.9L1909.6 253.4L1910.0 287.4L1910.4 245.9L1910.8 261.9L1911.2 259.7L1911.6 269.1L1912.0 263.5L1912.4 243.4L1912.8 256.4L1913.2 258.9L1913.6 310.4L1914.0 283.9L1914.4 263.9L1914.8 269.7L1915.2 259.7L1915.6 303.4L1916.0 261.5L1916.4 243.7L1916.8 326.7L1917.1 247.4L1917.4 205.4L1917.7 247.4L1917.6 252.3L1918.0 243.4L1918.4 275.1L1918.4 249.5L1918.7 325.7L1919.0 249.5L1919.2 247.9L1919.6 287.9L1920.0 298.9L1920.4 272.8L1920.8 241.2L1921.2 276.9L1921.6 250.5L1922.0 272.4L1922.4 271.9L1922.8 237.6L1923.2 285.4L1923.6 265.3L1924.0 263.7L1924.4 239.9L1924.8 286.6L1924.8 249.1L1925.1 204.7L1925.4 249.1L1925.6 267.4L1926.0 241.3L1926.4 235.6L1926.8 235.7L1927.2 225.7L1927.6 255.2L1928.0 295.6L1928.4 289.5L1928.8 243.7L1929.2 245.3L1929.6 300.6L1930.0 282.1L1930.4 263.9L1930.8 254.4L1931.2 254.0L1931.6 207.6L1932.0 248.1L1932.4 313.5L1932.8 301.2L1933.2 256.6L1933.6 282.5L1934.0 277.8L1934.3 249.8L1934.6 124.3L1934.9 249.8L1934.8 241.5L1935.2 249.0L1935.6 267.6L1936.0 294.4"/>
<path stroke="#00f" d="M349.8 67.0L349.8 500.0L349.9 842.0L351.0 856.0L352.0 876.0L353.2 930.0L354.0 948.0L355.0 925.0L355.8 880.0L357.0 846.0L358.2 875.0L358.9 934.0L359.6 905.0L360.4 870.0L361.0 846.0L361.6 835.0L362.2 813.0L364.7 790.0L366.0 760.0L367.8 706.0L369.4 690.0L371.5 714.0L372.8 746.0L374.0 782.0L374.6 817.0L375.2 871.7L376.5 912.6L377.7 937.4L378.3 960.0L379.6 1012.0L380.8 1109.0L382.4 1138.0L384.5 1228.0L387.4 1311.0L390.4 1344.0L393.4 1356.0L396.4 1341.0L400.9 1301.6L401.4 1295.7L401.9 1289.6L402.4 1283.5L402.9 1277.4L403.4 1271.0L403.9 1264.2L404.4 1257.8L404.9 1252.0L405.4 1245.7L405.9 1239.2L406.4 1232.9L406.9 1227.0L407.4 1221.4L407.9 1217.3L408.4 1211.6L408.9 1207.0L409.4 1201.4L409.9 1197.0L410.4 1192.6L410.9 1186.6L411.4 1181.7L411.9 1176.3L412.4 1172.3L412.9 1166.7L413.4 1162.0L413.9 1156.8L414.4 1151.3L414.9 1146.9L415.4 1141.7L415.9 1137.0L416.4 1131.8L416.9 1126.5L417.4 1122.3L417.9 1116.2L418.4 1111.9L418.9 1107.4L419.4 1104.2L419.9 1100.8L420.4 1097.1L420.9 1093.6L421.4 1090.7L421.9 1087.4L422.4 1084.0L422.9 1080.7L423.4 1077.4L423.9 1074.2L424.4 1071.0L424.9 1067.4L425.4 1064.4L425.9 1061.0L426.4 1057.2L426.9 1054.2L427.4 1050.7L427.9 1047.7L428.4 1044.2L428.9 1040.8L429.4 1037.1L429.9 1033.8L430.4 1030.4L430.9 1026.7L431.4 1023.6L431.9 1019.8L432.4 1016.0L432.9 1012.5L433.4 1009.1L433.9 1005.4L434.4 1002.2L434.9 998.9L435.4 995.9L435.9 993.7L436.4 990.8L436.9 987.2L437.4 984.5L437.9 981.6L438.4 979.2L438.9 977.8L439.4 975.1L439.9 972.8L440.4 971.5L440.9 968.8L441.4 966.5L441.9 964.5L442.4 962.4L442.9 960.6L443.4 958.6L443.9 956.2L444.4 954.0L444.9 952.3L445.4 950.2L445.9 948.0L446.4 945.8L446.9 943.8L447.4 941.4L447.9 939.7L448.4 937.8L448.9 935.4L449.4 933.6L449.9 931.5L450.4 930.4L450.9 929.6L451.4 927.6L451.9 926.4L452.4 925.0L452.9 923.8L453.4 922.7L453.9 921.5L454.4 920.1L454.9 918.6L455.4 917.2L455.9 916.4L456.4 914.4L456.9 913.4L457.4 912.0L457.9 910.7L458.4 909.4L458.9 906.5L459.4 904.5L459.9 902.3L460.4 899.5L460.9 897.8L461.4 896.3L461.9 895.2L462.4 893.9L462.9 892.3L463.4 891.1L463.9 889.1L464.4 888.2L464.9 886.3L465.4 885.3L465.9 883.9L466.4 882.6L466.9 881.0L467.4 880.1L467.9 878.7L468.4 878.0L468.9 876.9L469.4 876.1L469.9 875.3L470.4 874.2L470.9 874.1L471.4 873.1L471.9 872.6L472.4 872.2L472.9 871.6L473.4 871.1L473.9 870.7L474.4 869.6L474.9 869.4L475.4 867.1L475.9 864.6L476.4 862.0L476.9 860.2L477.4 860.1L477.9 858.5L478.4 857.3L478.9 856.4L479.4 855.7L479.9 854.4L480.4 853.5L480.9 852.6L481.4 852.0L481.9 850.8L482.4 850.4"/>
<path stroke="#00f" stroke-width="2.4" d="M482.4 850.4L482.9 849.4L483.4 848.5L483.9 848.2L484.4 846.6L484.9 845.8L485.4 846.2L485.9 845.6L486.4 845.0L486.9 844.9L487.4 844.5L487.9 844.0L488.4 843.1L488.9 843.5L489.4 843.3L489.9 842.9L490.4 841.8L490.9 841.1L491.4 838.9L491.9 837.3L492.4 835.5L492.9 835.5L493.4 835.6L493.9 835.4L494.4 834.7L494.9 834.6L495.4 833.8L495.9 833.6L496.4 833.5L496.9 832.9L497.4 832.4L497.9 832.5L498.4 832.2L498.9 831.8L499.4 830.7L499.9 830.6L500.4 829.4L500.9 829.0L501.4 828.7L501.9 828.1L502.4 827.0L502.9 826.9L503.4 826.2L503.9 825.7L504.4 825.1L504.9 824.6L505.4 824.3L505.9 823.8L506.4 822.9L506.9 822.9L507.4 822.6L507.9 821.6L508.4 821.5L508.9 821.1L509.4 820.8L509.9 820.1L510.4 819.7L510.9 820.0L511.4 820.0L511.9 819.3L512.4 818.7L512.9 818.1L513.4 818.3L513.9 817.9L514.4 817.9L514.9 817.2L515.4 817.3L515.9 816.9L516.4 816.3L516.9 815.9L517.4 815.4L517.9 815.9L518.4 815.5L518.9 814.6L519.4 814.5L519.9 814.4L520.4 814.0L520.9 813.7L521.4 813.1L521.9 812.8L522.4 812.8L522.9 812.6L523.4 812.3L523.9 812.4L524.4 812.0L524.9 811.3L525.4 812.3L525.9 811.0L526.4 811.2L526.9 810.5L527.4 810.5L527.9 810.1L528.4 809.9L528.9 810.0L529.4 808.9L529.9 810.0L530.4 809.3L530.9 809.1L531.4 808.7L531.9 808.3L532.4 808.4L532.9 808.5L533.4 807.7L533.9 807.6L534.4 807.8L534.9 807.1L535.4 807.2L535.9 806.4L536.4 806.6L536.9 806.2L537.4 805.8L537.9 805.8L538.4 806.1L538.9 805.6L539.4 805.6L539.9 805.6L540.4 805.7L540.9 805.2L541.4 805.4L541.9 805.4L542.4 805.3L542.9 805.3L543.4 805.1L543.9 804.9L544.4 805.0L544.9 805.2L545.4 804.8L545.9 804.8L546.4 804.7L546.9 804.8L547.4 804.5L547.9 804.3L548.4 804.3L548.9 804.2L549.4 804.6L549.9 804.3L550.4 804.0L550.9 803.9L551.4 803.7L551.9 803.9L552.4 804.0L552.9 803.5L553.4 803.7L553.9 803.3L554.0 803.8L554.3 802.0L554.6 803.8L554.9 803.7L555.4 803.7L555.9 804.3L556.4 806.0L556.9 807.7L557.4 810.1L557.9 810.1L558.4 810.5L558.9 810.2L559.4 810.4L559.9 810.3L560.4 809.9L560.9 810.4L561.4 810.6L561.9 810.3L562.4 810.2L562.9 810.4L563.4 810.4L563.9 811.0L564.4 810.6L564.9 811.1L565.4 811.3L565.9 810.6L566.4 810.8L566.9 811.2L567.4 810.9L567.9 811.5L568.4 811.9L568.9 810.9L569.4 811.4L569.9 811.7L570.4 811.6L570.9 811.6L571.4 811.7L571.9 811.2L572.4 810.9L572.9 811.9L573.4 812.2L573.9 811.7L574.4 812.3L574.9 811.9L575.4 811.9L575.9 812.4L576.4 811.9L576.9 812.2L577.4 811.7L577.9 812.5L578.4 811.8L578.9 812.6L579.4 812.6L579.9 812.6L580.4 812.1L580.9 812.2L581.4 813.0L581.9 812.6L582.4 812.8L582.9 812.7L583.4 812.6L583.9 812.5L584.4 812.7L584.9 813.1L585.4 812.9L585.9 812.8L586.4 813.4L586.9 812.8L587.4 813.4L587.9 813.3L588.4 814.1L588.9 813.1L589.4 814.0L589.9 813.8L590.4 813.9L590.9 814.3L591.4 814.2L591.9 814.5L592.4 815.3L592.9 815.1L593.4 815.6L593.9 816.0L594.4 816.2L594.9 816.7L595.4 816.4L595.9 817.0L596.4 817.1L596.9 817.5L597.4 818.0L597.9 818.1L598.4 818.3L598.9 818.8L599.4 819.2L599.9 819.3L600.4 819.6L600.9 819.5L601.4 820.0L601.9 820.3L602.4 820.6L602.9 820.7L603.4 820.5L603.9 821.4L604.4 821.2L604.9 821.3L605.4 821.1L605.9 821.5L606.4 821.6L606.9 821.6L607.4 822.2L607.9 821.8L608.4 822.1L608.9 822.4L609.4 822.8L609.9 822.4L610.4 822.6L610.9 822.4L611.4 823.0L611.9 822.5L612.4 822.5L612.9 823.5L613.4 825.2L613.9 826.6L614.4 827.5L614.9 827.5L615.4 828.6L615.9 829.2L616.4 829.7L616.9 830.2L617.4 831.5L617.9 830.9L618.4 831.4L618.9 831.1L619.4 831.9L619.9 831.9L620.4 831.4L620.9 832.2L621.4 832.1L621.9 832.7L622.4 833.0L622.9 833.1L623.4 833.5L623.9 833.7L624.4 833.8L624.9 834.0L625.4 833.8L625.9 834.9L626.4 834.9L626.9 834.8L627.4 835.2L627.9 835.7L628.4 835.5L628.9 835.7L629.4 836.0L629.9 836.5L630.4 836.0L630.9 837.1L631.4 837.0L631.9 837.1L632.4 837.3L632.9 837.7L633.4 837.3L633.9 837.8L634.4 838.3L634.9 837.6L635.4 838.2L635.9 838.7L636.4 839.3L636.9 839.1L637.4 839.1L637.9 839.9L638.4 839.7L638.9 839.5L639.4 839.7L639.9 839.8L640.4 840.3L640.9 840.7L641.4 841.1L641.9 841.1L642.4 840.9L642.9 841.6L643.4 841.5L643.9 841.9L644.4 842.1L644.9 841.8L645.4 842.6L645.9 842.4L646.4 842.4L646.9 843.1L647.4 842.6L647.9 843.7L648.4 843.7L648.9 843.7L649.4 844.2L649.9 843.7L650.4 844.1L650.9 844.3L651.4 844.9L651.9 844.7L652.4 845.1L652.9 845.4L653.4 845.3L653.9 845.3L654.4 845.9L654.9 846.3L655.4 846.0L655.9 846.6L656.4 846.6L656.9 847.0L657.4 846.9L657.9 847.1L658.4 847.5L658.9 846.8L659.4 847.1L659.9 847.2L660.4 847.8L660.9 847.9L661.4 848.5L661.9 848.2L662.4 848.4L662.9 848.9L663.4 848.7L663.9 848.7L664.4 849.5L664.9 849.6L665.4 849.8L665.9 849.6L666.4 850.4L666.9 849.9L667.4 850.1L667.9 850.2L668.4 850.3L668.9 851.0L669.4 850.7L669.9 851.2L670.4 851.4L670.9 851.6L671.4 851.7L671.9 851.8L672.4 852.0L672.9 852.4L673.4 852.8L673.9 852.7L674.4 852.1L674.9 852.6L675.4 852.6L675.9 852.5L676.4 853.7L676.9 853.5L677.4 853.5L677.9 854.0L678.4 854.1L678.9 854.1L679.4 854.6L679.9 854.8L680.4 854.5L680.9 854.9L681.4 855.1L681.9 855.1L682.4 855.7L682.9 855.3L683.4 855.6L683.9 855.8L684.4 855.8L684.9 856.3L685.4 856.6L685.9 857.2L686.4 856.4L686.9 857.0L687.4 856.8L687.9 857.4L688.4 857.7L688.9 857.8L689.4 857.1L689.9 857.8L690.4 857.4L690.9 857.5L691.4 858.1L691.9 858.1L692.4 858.6L692.9 858.6L693.4 858.5L693.9 858.9L694.4 859.2L694.9 859.3L695.4 859.5L695.9 859.5L696.4 859.9L696.9 860.2L697.4 860.4L697.9 860.1L698.4 859.8L698.9 860.5L699.4 860.3L699.9 860.6L700.4 860.5L700.9 861.4L701.4 861.1L701.9 861.4L702.4 861.9L702.9 862.0L703.4 861.9L703.9 861.6L704.4 862.3L704.9 862.5L705.4 862.5L705.9 862.8L706.4 862.8L706.9 863.4L707.4 863.1L707.9 863.5L708.4 863.7L708.9 863.5L709.4 863.6L709.9 863.9L710.4 863.9L710.9 863.8L711.4 864.0L711.9 865.0L712.4 864.5L712.9 864.8L713.4 865.1L713.9 865.8L714.4 865.7L714.9 865.2L715.4 865.6L715.9 865.6L716.4 865.7L716.9 866.3L717.4 866.6L717.9 866.3L718.4 866.1L718.9 866.4L719.4 866.6L719.9 867.2L720.4 867.3L720.9 867.2L721.4 867.9L721.9 867.4L722.4 867.9L722.9 868.5L723.4 868.3L723.9 868.0L724.4 868.2L724.9 868.2L725.4 868.3L725.9 868.3L726.4 868.6L726.9 868.8L727.4 869.0L727.9 868.5L728.4 868.9L728.9 869.2L729.4 869.3L729.9 869.6L730.4 869.2L730.9 869.9L731.4 870.0L731.9 869.9L732.4 870.4L732.9 870.3L733.4 869.8L733.9 870.6L734.4 870.6L734.9 870.9L735.4 870.9L735.9 871.1L736.4 871.1L736.9 871.6L737.4 871.6L737.9 871.3L738.4 872.2L738.9 871.9L739.4 871.3L739.9 872.2L740.4 872.6L740.9 872.1L741.4 872.1L741.9 872.6L742.4 872.7L742.9 872.5L743.4 873.4L743.9 872.9L744.4 873.0L744.9 873.7L745.4 873.1L745.9 872.9L746.4 873.3L746.9 873.4L747.4 874.2L747.9 873.9L748.4 873.8L748.9 874.0L749.4 874.3L749.9 874.3L750.4 875.0L750.9 874.7L751.4 874.6L751.9 874.6L752.4 874.8L752.9 874.9L753.4 874.6L753.9 875.3L754.4 875.2L754.9 875.1L755.4 875.5L755.9 875.7L756.4 876.4L756.9 875.8L757.4 876.1L757.9 875.6L758.4 876.1L758.9 875.7L759.4 876.2L759.9 876.6L760.4 876.4L760.9 876.9L761.4 876.1L761.9 876.9L762.4 876.8L762.9 877.1L763.4 877.1L763.9 877.2L764.4 877.4L764.9 877.1L765.4 877.3L765.9 877.6L766.4 878.0L766.9 878.0L767.4 877.6L767.9 877.9L768.4 878.3L768.9 878.1L769.4 878.5L769.9 878.1L770.4 878.4L770.9 878.6L771.4 878.3L771.9 878.0L772.4 878.5L772.9 879.1L773.4 878.9L773.9 879.0L774.4 879.1L774.9 879.5L775.4 879.3L775.9 879.0L776.4 879.5L776.9 879.4L777.4 879.5L777.9 879.8L778.4 880.4L778.9 879.5L779.4 880.2L779.9 879.4L780.4 880.2L780.9 880.0L781.4 880.7L781.9 880.1L782.4 880.5L782.9 880.2L783.4 880.2L783.9 880.5L784.4 880.5L784.9 880.7L785.4 880.7L785.9 880.2L786.4 880.7L786.9 881.0L787.4 881.3L787.9 881.1L788.4 881.0L788.9 880.9L789.4 881.1L789.9 881.4L790.4 881.4L790.9 881.3L791.4 881.7L791.9 881.5L792.4 882.0L792.9 881.2L793.4 881.5L793.9 882.0L794.4 881.7L794.9 882.1L795.4 882.2L795.9 882.2L796.4 882.3L796.9 882.3L797.4 882.5L797.9 882.9L798.4 882.7L798.9 882.8L799.4 882.9L799.9 883.2L800.4 883.2L800.9 883.2L801.4 883.4L801.9 883.6L802.4 883.5L802.9 883.4L803.4 883.2L803.9 883.1L804.4 883.7L804.9 884.1L805.4 883.8L805.9 884.0L806.4 883.9L806.9 884.3L807.4 884.1L807.9 884.4L808.4 884.8L808.9 884.4L809.4 884.4L809.9 885.0L810.4 884.5L810.9 884.8L811.4 884.6L811.9 885.0L812.4 884.5L812.9 884.8L813.4 884.9L813.9 885.3L814.4 885.6L814.9 885.2L815.4 884.8L815.9 885.1L816.4 885.0L816.9 885.8L817.4 885.4L817.9 885.6L818.4 885.4L818.9 885.7L819.4 886.1L819.9 885.7L820.4 885.8L820.9 885.7L821.4 886.1L821.9 885.9L822.4 886.3L822.9 886.1L823.4 886.1L823.9 885.6L824.4 886.2L824.9 886.3L825.4 886.5L825.9 885.8L826.4 886.3L826.9 886.0L827.4 887.0L827.9 886.6L828.4 886.7L828.9 886.7L829.4 887.1L829.9 887.0L830.4 886.6L830.9 887.2L831.4 887.3L831.9 886.8L832.4 887.4L832.9 887.1L833.4 887.0L833.9 887.4L834.4 887.6L834.9 887.5L835.4 887.6L835.9 887.1L836.4 887.0L836.9 888.0L837.4 887.7L837.9 887.6L838.4 887.0L838.9 887.3L839.4 886.4L839.9 886.4L840.4 886.8L840.9 886.4L841.4 886.5L841.9 886.6L842.4 886.4L842.9 886.1L843.4 886.0L843.9 886.0L844.4 884.8L844.9 883.4L845.4 881.7L845.9 879.8L846.4 880.5L846.7 880.0L847.0 857.8L847.3 880.0L847.4 880.2L847.5 880.3L847.8 857.8L848.1 880.3L848.4 880.8L848.9 881.8L849.4 883.1L849.9 883.9L850.4 885.0L850.9 885.5L851.4 885.6L851.9 885.3L852.4 885.5L852.9 885.4L853.4 884.5L853.9 884.3L854.4 885.0L854.9 884.1L855.4 883.8L855.9 883.6L856.4 882.5L856.9 882.5L857.4 881.5L857.9 881.3L858.4 880.6L858.9 879.9L859.4 878.9L859.9 878.3L860.4 877.2L860.9 876.1L861.4 875.4L861.5 874.6L861.8 857.8L862.1 874.6L862.2 874.5L862.5 860.0L862.8 874.5L862.9 874.4L863.4 874.0L863.9 875.7L864.4 880.1L864.9 883.9L865.4 884.4L865.9 885.2L866.4 885.7L866.9 886.5L867.4 887.1L867.9 887.3L868.4 887.0L868.9 886.5L869.4 886.6L869.9 885.9L870.4 887.4L870.9 887.2L871.4 888.4L871.9 889.1L872.4 890.0L872.9 890.1L873.4 890.2L873.9 890.8L874.4 891.5L874.9 891.7L875.4 892.1L875.9 893.1L876.4 892.9L876.9 892.8L877.4 893.2L877.9 893.2L878.4 893.7L878.9 893.5L879.4 893.8L879.9 893.5L880.4 893.4L880.9 894.0L881.4 893.5L881.9 893.8L882.4 894.3L882.9 894.2L883.4 893.9L883.9 894.0L884.4 894.1L884.9 894.5L885.4 894.9L885.9 894.7L886.4 894.7L886.9 894.7L887.4 895.1L887.9 894.9L888.4 894.9L888.9 894.3L889.4 894.7L889.9 894.3L890.4 895.3L890.9 894.4L891.4 894.6L891.9 894.8L892.4 895.0L892.9 894.9L893.4 895.1L893.9 895.1L894.4 894.9L894.9 895.4L895.4 894.7L895.9 895.6L896.4 894.7L896.9 895.4L897.4 895.4L897.9 895.0L898.4 895.7L898.9 895.5L899.4 895.4L899.9 895.3L900.4 895.5L900.9 895.5L901.4 895.5L901.9 894.9L902.4 895.8L902.9 895.3L903.4 895.2L903.9 895.6L904.4 895.4L904.9 896.1L905.4 895.5L905.9 895.5L906.4 895.9L906.9 895.7L907.4 895.5L907.9 895.8L908.4 895.6L908.9 895.6L909.4 895.5L909.9 895.5L910.4 895.7L910.9 895.8L911.4 895.9L911.9 895.6L912.4 895.7L912.9 896.0L913.4 896.1L913.9 896.0L914.4 896.1L914.9 896.0L915.4 896.4L915.9 896.1L916.4 896.0L916.9 895.9L917.4 896.2L917.9 895.8L918.4 896.3L918.9 896.4L919.4 896.3L919.9 896.3L920.4 896.3L920.9 896.4L921.4 896.5L921.9 896.5L922.4 896.3L922.9 895.7L923.4 896.6L923.9 896.4L924.4 896.5L924.9 896.8L925.4 896.8L925.9 896.3L926.4 896.7L926.9 896.3L927.4 896.7L927.9 896.5L928.4 896.7L928.9 896.3L929.4 896.7L929.9 896.7L930.4 897.1L930.9 896.6L931.4 896.4L931.9 896.7L932.4 896.4L932.9 896.9L933.4 896.8L933.9 896.7L934.4 896.9L934.9 896.9L935.4 896.8L935.9 897.0L936.4 897.0L936.9 896.8L937.4 896.8L937.9 897.1L938.4 896.8L938.9 896.8L939.4 896.3L939.9 896.5L940.4 897.1L940.9 897.5L941.4 897.0L941.9 897.0L942.4 896.9L942.9 897.1L943.4 897.1L943.9 896.9L944.4 896.7L944.9 896.1L945.4 896.7L945.9 896.7L946.4 896.0L946.9 895.4L947.4 895.2L947.9 895.7L948.4 895.7L948.9 895.0L949.4 895.5L949.9 894.9L950.4 894.8L950.9 894.6L951.4 894.4L951.9 894.0L952.4 893.1L952.9 892.7L953.4 892.1L953.9 891.6L954.4 891.3L954.9 890.9L955.4 890.4L955.9 889.9L956.4 889.2L956.9 888.5L957.4 887.2L957.9 885.5L958.4 885.2L958.9 885.8L959.4 885.6L959.9 885.7L960.4 885.7L960.9 886.5L961.4 886.0L961.9 886.2L962.4 886.4L962.9 886.4L963.4 886.9L963.9 886.5L964.4 886.9L964.9 886.7L965.4 886.4L965.9 886.4L966.4 886.1L966.9 886.3L967.4 885.9L967.9 885.9L968.4 885.0L968.9 885.7L969.4 885.9L969.9 884.9L970.4 885.7L970.9 886.7L971.4 886.1L971.9 886.5L972.4 887.6L972.9 887.6L973.4 888.2L973.9 888.5L974.4 888.5L974.9 889.4L975.4 889.7L975.9 890.6L976.4 890.8L976.9 891.1L977.4 891.6L977.9 892.0L978.4 892.9L978.9 892.7L979.4 893.9L979.9 893.9L980.4 894.7L980.9 894.8L981.4 895.7L981.9 896.0L982.4 895.9L982.9 896.4L983.4 896.6L983.9 897.5L984.4 897.5L984.9 897.1L985.4 897.2L985.9 897.6L986.4 898.1L986.9 898.5L987.4 898.3L987.9 898.6L988.4 898.7L988.9 899.5L989.4 899.7L989.9 899.4L990.4 899.9L990.9 900.5L991.4 900.8L991.9 901.1L992.4 901.2L992.9 900.7L993.4 901.5L993.9 902.1L994.4 901.9L994.9 902.2L995.4 902.5L995.9 902.8L996.4 902.7L996.9 902.4L997.4 903.2L997.9 902.7L998.4 903.2L998.9 903.8L999.4 903.5L999.9 903.5L1000.4 904.4L1000.9 904.2L1001.4 904.5L1001.9 904.6L1002.4 905.2L1002.9 904.9L1003.4 905.5L1003.9 905.5L1004.4 905.2L1004.9 905.5L1005.4 905.0L1005.9 906.3L1006.4 906.1L1006.9 906.7L1007.4 906.7L1007.9 906.9L1008.4 907.0L1008.9 907.4L1009.4 907.7L1009.9 907.5L1010.4 907.6L1010.9 907.9L1011.4 907.9L1011.9 907.7L1012.4 907.7L1012.9 907.1L1013.4 907.5L1013.9 907.7L1014.4 907.5L1014.9 907.7L1015.4 907.7L1015.9 907.8L1016.4 907.7L1016.9 908.0L1017.4 907.3L1017.9 908.2L1018.4 907.6L1018.9 908.1L1019.4 907.5L1019.9 908.0L1020.4 907.7L1020.9 908.0L1021.4 907.4L1021.9 907.5L1022.4 908.6L1022.9 907.3L1023.4 908.1L1023.9 907.3L1024.4 908.1L1024.9 908.1L1025.4 907.1L1025.9 908.1L1026.4 908.2L1026.9 908.3L1027.4 908.2L1027.9 907.3L1028.4 908.4L1028.9 907.7L1029.4 908.0L1029.9 907.7L1030.4 907.4L1030.9 907.3L1031.4 908.4L1031.9 907.9L1032.4 907.8L1032.9 907.6L1033.4 907.6L1033.9 907.9L1034.4 907.7L1034.9 907.3L1035.4 907.5L1035.9 908.0L1036.4 907.4L1036.9 908.2L1037.4 907.8L1037.9 907.9L1038.4 907.9L1038.9 908.4L1039.4 907.6L1039.9 908.0L1040.4 908.4L1040.9 908.1L1041.4 908.2L1041.9 908.2L1042.4 908.6L1042.9 908.0L1043.4 908.6L1043.9 907.6L1044.4 907.6L1044.9 908.2L1045.4 908.0L1045.9 907.7L1046.4 908.0L1046.9 909.0L1047.4 908.2L1047.9 908.1L1048.4 907.8L1048.9 908.3L1049.4 908.1L1049.9 908.0L1050.4 907.9L1050.9 907.9L1051.4 908.4L1051.9 908.0L1052.4 907.8L1052.9 907.7L1053.4 907.7L1053.9 908.1L1054.4 908.4L1054.9 908.4L1055.4 908.2L1055.9 908.7L1056.4 908.7L1056.9 908.1L1057.4 908.1L1057.9 908.6L1058.4 908.8L1058.9 908.0L1059.4 908.6L1059.9 908.2L1060.4 908.0L1060.9 908.1L1061.4 907.7L1061.9 908.2L1062.4 908.8L1062.9 908.4L1063.4 908.6L1063.9 908.8L1064.4 908.5L1064.9 908.7L1065.4 908.5L1065.9 908.8L1066.4 908.4L1066.9 908.6L1067.4 908.4L1067.9 908.9L1068.4 909.2L1068.9 908.7L1069.4 908.8L1069.9 908.6L1070.4 908.8L1070.9 908.9L1071.4 909.0L1071.9 909.4L1072.4 908.5L1072.9 908.8L1073.4 908.7L1073.9 908.7L1074.4 908.9L1074.9 908.4L1075.4 909.3L1075.9 909.0L1076.4 909.3L1076.9 909.2L1077.4 908.8L1077.9 909.5L1078.4 909.1L1078.9 909.5L1079.4 909.2L1079.9 909.5L1080.4 909.0L1080.9 908.9L1081.4 909.4L1081.9 909.5L1082.4 909.7L1082.9 909.4L1083.4 909.7L1083.9 909.1L1084.4 910.1L1084.9 909.3L1085.4 909.5L1085.9 909.6L1086.4 909.4L1086.9 909.8L1087.4 909.9L1087.9 909.6L1088.4 909.5L1088.9 909.9L1089.4 909.7L1089.9 910.0L1090.4 909.8L1090.9 909.7L1091.4 909.4L1091.9 909.6L1092.4 910.0L1092.9 910.0L1093.4 909.9L1093.9 909.7L1094.4 910.5L1094.9 910.1L1095.4 910.6L1095.9 910.3L1096.4 910.3L1096.9 910.0L1097.4 909.5L1097.9 909.9L1098.4 910.0L1098.9 910.5L1099.4 910.5L1099.9 910.4L1100.4 910.3L1100.9 911.0L1101.4 910.0L1101.9 910.3L1102.4 910.3L1102.9 911.0L1103.4 909.9L1103.9 910.4L1104.4 910.8L1104.9 909.8L1105.4 910.2L1105.9 910.2L1106.4 910.1L1106.9 910.5L1107.4 910.6L1107.9 911.1L1108.4 910.8L1108.9 911.0L1109.4 910.4L1109.9 911.0L1110.4 910.5L1110.9 911.6L1111.4 910.8L1111.9 910.8L1112.4 910.1L1112.9 910.5L1113.4 911.0L1113.9 910.9L1114.4 911.5L1114.9 911.6L1115.4 911.6L1115.9 911.1L1116.4 910.7L1116.9 911.3L1117.4 911.2L1117.9 911.4L1118.4 911.2L1118.9 911.5L1119.4 911.4L1119.9 911.2L1120.4 911.2L1120.9 910.7L1121.4 911.3L1121.9 911.6L1122.4 911.4L1122.9 911.8L1123.4 912.0L1123.9 911.6L1124.4 911.8L1124.9 911.4L1125.4 911.4L1125.9 912.0L1126.4 912.1L1126.9 911.8L1127.4 911.3L1127.9 911.5L1128.4 912.3L1128.9 911.9L1129.4 911.7L1129.9 911.9L1130.4 911.7L1130.9 911.5L1131.4 912.2L1131.9 911.9L1132.4 912.2L1132.9 912.3L1133.4 912.2L1133.9 911.7L1134.4 912.3L1134.9 911.6L1135.4 911.4L1135.9 911.9L1136.4 911.9L1136.9 912.2L1137.4 911.7L1137.9 912.2L1138.4 912.1L1138.9 911.9L1139.4 911.8L1139.9 912.1L1140.4 912.8L1140.9 912.8L1141.4 912.6L1141.9 912.5L1142.4 913.0L1142.9 912.7L1143.4 913.1L1143.9 912.8L1144.4 912.9L1144.9 912.6L1145.4 913.0L1145.9 912.1L1146.4 913.1L1146.9 913.0L1147.4 912.5L1147.9 912.8L1148.4 912.7L1148.9 912.2L1149.4 912.7L1149.9 913.1L1150.4 913.1L1150.9 912.7L1151.4 912.9L1151.9 913.2L1152.4 913.0L1152.9 913.1L1153.4 913.1L1153.9 912.9L1154.4 912.8L1154.9 913.2L1155.4 913.0L1155.9 913.3L1156.4 913.3L1156.9 912.6L1157.4 913.3L1157.9 913.4L1158.4 913.4L1158.9 913.1L1159.4 913.8L1159.9 913.0L1160.4 912.8L1160.9 913.5L1161.4 913.2L1161.9 914.0L1162.4 913.2L1162.9 913.5L1163.4 913.4L1163.9 913.5L1164.4 913.0L1164.9 913.5L1165.4 913.6L1165.9 913.6L1166.4 913.6L1166.9 913.8L1167.4 914.0L1167.9 913.9L1168.4 913.7L1168.9 913.7L1169.4 913.1L1169.9 913.9L1170.4 913.2L1170.9 913.8L1171.4 913.7L1171.9 914.0L1172.4 913.8L1172.9 913.5L1173.4 913.5L1173.9 913.8L1174.4 914.0L1174.9 913.5L1175.4 914.8L1175.9 913.9L1176.4 913.7L1176.9 914.2L1177.4 914.2L1177.9 913.9L1178.4 913.9L1178.9 914.1L1179.4 914.3L1179.9 914.5L1180.4 913.7L1180.9 914.3L1181.4 914.4L1181.9 914.0L1182.4 913.6L1182.9 914.1L1183.4 914.2L1183.9 914.3L1184.4 913.9L1184.9 913.5L1185.4 914.0L1185.9 914.1L1186.4 914.1L1186.9 914.5L1187.4 913.8L1187.9 914.6L1188.4 915.1L1188.9 915.0L1189.4 914.1L1189.9 914.8L1190.4 914.4L1190.9 914.0L1191.4 914.2L1191.9 914.5L1192.4 914.2L1192.9 914.5L1193.4 914.3L1193.9 914.7L1194.4 914.4L1194.9 914.4L1195.4 914.4L1195.9 914.5L1196.4 915.0L1196.9 914.5L1197.4 914.9L1197.9 915.1L1198.4 914.9L1198.9 915.0L1199.4 914.8L1199.9 914.9L1200.4 914.8L1200.9 915.2L1201.4 914.9L1201.9 914.8L1202.4 915.4L1202.9 914.7L1203.4 914.4L1203.9 914.5L1204.4 915.7L1204.9 915.5L1205.4 914.3L1205.9 915.4L1206.4 915.0L1206.9 914.9L1207.4 914.8L1207.9 916.0L1208.4 915.2L1208.9 914.7L1209.4 915.4L1209.9 914.8L1210.4 915.3L1210.9 915.2L1211.4 915.4L1211.9 915.8L1212.4 915.1L1212.9 915.3L1213.4 914.9L1213.9 915.0L1214.4 914.9L1214.9 915.6L1215.4 914.5L1215.9 914.7L1216.4 915.2L1216.9 915.6L1217.4 915.1L1217.9 915.3L1218.4 915.1L1218.9 915.1L1219.4 915.6L1219.9 914.7L1220.4 915.8L1220.9 915.7L1221.4 915.7L1221.9 915.5L1222.4 915.5L1222.9 915.2L1223.4 915.7L1223.9 915.8L1224.4 916.3L1224.9 916.0L1225.4 915.9L1225.9 916.1L1226.4 916.0L1226.9 916.1L1227.4 915.8L1227.9 916.0L1228.4 915.8L1228.9 916.3L1229.4 915.9L1229.9 916.6L1230.4 916.2L1230.9 916.2L1231.4 915.3L1231.9 916.0L1232.4 915.9L1232.9 915.9L1233.4 916.2L1233.9 916.4L1234.4 915.6L1234.9 915.7L1235.4 915.9L1235.9 916.4L1236.4 916.1L1236.9 915.9L1237.4 915.9L1237.9 916.4L1238.4 916.2L1238.9 916.5L1239.4 916.7L1239.9 916.2L1240.4 916.5L1240.9 916.4L1241.4 916.4L1241.9 915.6L1242.4 916.1L1242.9 915.6L1243.4 915.9L1243.9 916.7L1244.4 916.1L1244.9 916.5L1245.4 916.5L1245.9 916.0L1246.4 917.1L1246.9 917.0L1247.4 916.1L1247.9 916.8L1248.4 915.8L1248.9 916.3L1249.4 916.8L1249.9 916.4L1250.4 916.3L1250.9 916.9L1251.4 916.5L1251.9 917.2L1252.4 916.5L1252.9 916.5L1253.4 916.7L1253.9 915.7L1254.4 916.7L1254.9 917.2L1255.4 916.1L1255.9 916.5L1256.4 916.8L1256.9 917.1L1257.4 917.4L1257.9 916.7L1258.4 916.7L1258.9 916.7L1259.4 917.3L1259.9 916.7L1260.4 917.1L1260.9 916.8L1261.4 916.9L1261.9 917.7L1262.4 917.8L1262.9 917.8L1263.4 917.6L1263.9 916.8L1264.4 917.1L1264.9 917.6L1265.4 917.4L1265.9 917.1L1266.4 917.2L1266.9 917.2L1267.4 917.9L1267.9 917.5L1268.4 917.3L1268.9 917.9L1269.4 917.9L1269.9 917.5L1270.4 917.7L1270.9 917.7L1271.4 917.6L1271.9 917.6L1272.4 917.3L1272.9 917.9L1273.4 917.0L1273.9 917.7L1274.4 917.7L1274.9 917.9L1275.4 917.5L1275.9 918.3L1276.4 917.9L1276.9 917.3L1277.4 917.8L1277.9 918.5L1278.4 918.1L1278.9 917.9L1279.4 918.4L1279.9 918.3L1280.4 918.3L1280.9 917.7L1281.4 918.2L1281.9 919.4L1282.4 918.0L1282.9 918.6L1283.4 917.7L1283.9 918.7L1284.4 918.3L1284.9 918.5L1285.4 918.3L1285.9 918.0L1286.4 919.1L1286.9 918.8L1287.4 918.2L1287.9 918.7L1288.4 918.8L1288.9 918.7L1289.4 919.7L1289.9 918.4L1290.4 918.5L1290.9 917.9L1291.4 919.0L1291.9 918.3L1292.4 918.9L1292.9 918.6L1293.4 918.6L1293.9 918.7L1294.4 919.6L1294.9 918.8L1295.4 919.0L1295.9 919.2L1296.4 918.8L1296.9 918.9L1297.4 919.1L1297.9 919.2L1298.4 920.0L1298.9 920.1L1299.4 919.1L1299.9 919.1L1300.4 919.1L1300.9 919.4L1301.4 919.1L1301.9 920.0L1302.4 919.6L1302.9 919.3L1303.4 918.4L1303.9 919.9L1304.4 919.2L1304.9 920.5L1305.4 919.7L1305.9 919.3L1306.4 920.0L1306.9 920.5L1307.4 919.7L1307.9 919.8L1308.4 919.1L1308.9 919.5L1309.4 919.2L1309.9 920.1L1310.4 919.4L1310.9 919.1L1311.4 919.7L1311.9 919.8L1312.4 920.1L1312.9 920.4L1313.4 920.5L1313.9 919.9L1314.4 920.2L1314.9 919.4L1315.4 920.3L1315.9 919.7L1316.4 919.7L1316.9 919.8L1317.4 919.5L1317.9 920.2L1318.4 920.5L1318.9 920.5L1319.4 920.8L1319.9 920.4L1320.4 920.3L1320.9 920.4L1321.4 920.0L1321.9 919.6L1322.4 920.7L1322.9 920.5L1323.4 920.3L1323.9 919.8L1324.4 921.3L1324.9 920.7L1325.4 920.7L1325.9 920.6L1326.4 920.8L1326.9 920.7L1327.4 921.2L1327.9 919.8L1328.4 920.5L1328.9 920.3L1329.4 921.3L1329.9 920.6L1330.4 920.8L1330.9 920.5L1331.4 920.6L1331.9 921.1L1332.4 921.3L1332.9 920.9L1333.4 920.3L1333.9 920.5L1334.4 921.0L1334.9 921.0L1335.4 921.3L1335.9 921.3L1336.4 921.7L1336.9 920.8L1337.4 921.2L1337.9 921.6L1338.4 921.8L1338.9 921.0L1339.4 920.9L1339.9 921.5L1340.4 920.9L1340.9 921.0L1341.4 920.9L1341.9 921.0L1342.4 921.5L1342.9 921.4L1343.4 921.6L1343.9 921.9L1344.4 921.3L1344.9 922.1L1345.4 922.3L1345.9 921.6L1346.4 922.3L1346.9 922.1L1347.4 922.2L1347.9 921.8L1348.4 921.9L1348.9 921.7L1349.4 922.4L1349.9 921.9L1350.4 921.3L1350.9 921.8L1351.4 921.8L1351.9 921.3L1352.4 922.5L1352.9 922.7L1353.4 922.3L1353.9 921.9L1354.4 921.9L1354.9 921.9L1355.4 921.5L1355.9 922.5L1356.4 922.2L1356.9 922.3L1357.4 922.3L1357.9 922.1L1358.4 922.8L1358.9 923.5L1359.4 922.7L1359.9 922.2L1360.4 922.8L1360.9 922.6L1361.4 922.2L1361.9 921.9L1362.4 922.9L1362.9 922.2L1363.4 922.0L1363.9 922.7L1364.4 923.1L1364.9 923.0L1365.4 922.4L1365.9 921.7L1366.4 923.4L1366.9 922.7L1367.4 923.7L1367.9 923.1L1368.4 923.1L1368.9 923.2L1369.4 923.0L1369.9 923.2L1370.4 923.1L1370.9 923.7L1371.4 923.2L1371.9 923.4L1372.4 923.6L1372.9 922.7L1373.4 923.0L1373.9 923.2L1374.4 922.9L1374.9 923.3L1375.4 923.0L1375.9 923.1L1376.4 923.4L1376.9 922.9L1377.4 922.7L1377.9 923.0L1378.4 923.3L1378.9 923.2L1379.4 923.3L1379.9 923.5L1380.4 923.0L1380.9 923.8L1381.4 924.2L1381.9 923.6L1382.4 923.6L1382.9 923.9L1383.4 923.4L1383.9 923.7L1384.4 923.7L1384.9 923.4L1385.4 924.1L1385.9 924.5L1386.4 923.8L1386.9 923.4L1387.4 924.6L1387.9 924.4L1388.4 924.6L1388.9 924.8L1389.4 923.8L1389.9 923.5L1390.4 923.6L1390.9 924.6L1391.4 923.5L1391.9 925.2L1392.4 922.7L1392.9 924.5L1393.4 924.6L1393.9 924.2L1394.4 923.5L1394.9 923.8L1395.4 924.4L1395.9 924.7L1396.4 924.6L1396.9 924.3L1397.4 924.4L1397.9 925.2L1398.4 924.5L1398.9 924.6L1399.4 924.4L1399.9 925.5L1400.4 923.4L1400.9 923.8L1401.4 924.0L1401.9 924.6L1402.4 924.4L1402.9 925.1L1403.4 924.8L1403.9 925.1L1404.4 924.8L1404.9 924.4L1405.4 924.2L1405.9 925.7L1406.4 925.0L1406.9 924.8L1407.4 925.4L1407.9 924.6L1408.4 924.9L1408.9 925.0L1409.4 924.6L1409.9 925.3L1410.4 925.0L1410.9 925.1L1411.4 924.5L1411.9 925.0L1412.4 925.7L1412.9 925.7L1413.4 925.3L1413.9 925.4L1414.4 924.7L1414.9 925.2L1415.4 925.4L1415.9 925.4L1416.4 925.3L1416.9 926.1L1417.4 926.2L1417.9 925.4L1418.4 925.2L1418.9 924.8L1419.4 925.4L1419.9 925.9L1420.4 926.1L1420.9 925.3L1421.4 925.8L1421.9 925.3L1422.4 926.9L1422.9 926.9L1423.4 925.9L1423.9 925.9L1424.4 925.7L1424.9 925.7L1425.4 926.9L1425.9 925.9L1426.4 925.6L1426.9 926.0L1427.4 925.5L1427.9 925.5L1428.4 925.3L1428.9 926.5L1429.4 925.8L1429.9 926.1L1430.4 926.5L1430.9 925.6L1431.4 926.1L1431.9 925.9L1432.4 926.2L1432.9 926.3L1433.4 925.8L1433.9 926.8L1434.4 926.9L1434.9 926.6L1435.4 926.5L1435.9 926.2L1436.4 926.0L1436.9 926.6L1437.4 926.8L1437.9 926.8L1438.4 925.6L1438.9 926.2L1439.4 926.9L1439.9 927.4L1440.4 927.0L1440.9 926.5L1441.4 926.9L1441.9 926.3L1442.4 927.1L1442.9 926.7L1443.4 926.6L1443.9 927.1L1444.4 926.5L1444.9 927.0L1445.4 927.4L1445.9 926.4L1446.4 927.7L1446.9 927.2L1447.4 927.9L1447.9 926.9L1448.4 927.1L1448.9 927.4L1449.4 926.9L1449.9 926.6L1450.0 927.5"/>
<path stroke="#00f" d="M1450.0 927.5L1450.5 927.6L1451.0 926.6L1451.5 927.9L1452.0 926.9L1452.5 926.9L1453.0 927.2L1453.5 927.1L1454.0 927.4L1454.5 927.8L1455.0 927.7L1455.5 927.5L1456.0 927.2L1456.5 927.5L1457.0 926.9L1457.5 926.9L1458.0 928.5L1458.5 927.3L1459.0 927.8L1459.5 928.0L1460.0 927.9L1460.5 927.2L1461.0 927.6L1461.5 928.9L1462.0 927.7L1462.5 927.2L1463.0 927.5L1463.5 927.3L1464.0 927.7L1464.5 927.5L1465.0 927.3L1465.5 927.2L1466.0 926.5L1466.5 927.8L1467.0 927.8L1467.5 927.2L1468.0 928.3L1468.5 927.4L1469.0 928.2L1469.5 927.6L1470.0 928.2L1470.5 928.2L1471.0 927.6L1471.5 927.7L1472.0 928.5L1472.5 927.8L1473.0 927.8L1473.5 927.8L1474.0 927.3L1474.5 927.2L1475.0 927.8L1475.5 928.3L1476.0 928.0L1476.5 928.4L1477.0 927.0L1477.5 929.0L1478.0 928.2L1478.5 927.7L1479.0 928.1L1479.5 928.3L1480.0 928.0L1480.5 928.2L1481.0 926.8L1481.5 927.9L1482.0 927.8L1482.5 927.4L1483.0 928.6L1483.5 927.8L1484.0 928.7L1484.5 927.7L1485.0 928.6L1485.5 928.2L1486.0 927.9L1486.5 928.6L1487.0 928.7L1487.5 928.5L1488.0 928.0L1488.5 927.0L1489.0 928.3L1489.5 928.3L1490.0 929.0L1490.5 929.1L1491.0 928.9L1491.5 928.3L1492.0 928.2L1492.5 927.9L1493.0 928.5L1493.5 928.2L1494.0 928.7L1494.5 927.9L1495.0 928.8L1495.5 928.2L1496.0 928.2L1496.5 927.8L1497.0 928.4L1497.5 928.2L1498.0 929.1L1498.5 927.8L1499.0 928.9L1499.5 928.1L1500.0 927.5L1500.5 928.3L1501.0 929.0L1501.5 928.8L1502.0 928.4L1502.5 928.0L1503.0 928.5L1503.5 928.1L1504.0 929.7L1504.5 927.9L1505.0 928.5L1505.5 929.9L1506.0 927.6L1506.5 929.7L1507.0 929.2L1507.5 929.3L1508.0 928.9L1508.5 927.3L1509.0 928.5L1509.5 928.7L1510.0 929.3L1510.5 929.0L1511.0 927.9L1511.5 927.2L1512.0 928.2L1512.5 930.0L1513.0 929.1L1513.5 929.0L1514.0 929.4L1514.5 928.6L1515.0 929.4L1515.5 928.0L1516.0 928.1L1516.5 929.0L1517.0 928.9L1517.5 929.4L1518.0 928.7L1518.5 929.5L1519.0 929.4L1519.5 929.2L1520.0 929.7L1520.5 929.2L1521.0 928.5L1521.5 928.3L1522.0 928.8L1522.5 929.3L1523.0 928.5L1523.5 928.7L1524.0 929.8L1524.5 929.7L1525.0 928.1L1525.5 928.3L1526.0 928.7L1526.5 929.1L1527.0 928.9L1527.5 928.3L1528.0 930.4L1528.5 929.3L1529.0 930.1L1529.5 929.8L1530.0 929.8L1530.5 928.0L1531.0 929.4L1531.5 929.4L1532.0 929.2L1532.5 928.8L1533.0 928.2L1533.5 929.2L1534.0 930.1L1534.5 930.0L1535.0 929.2L1535.5 928.4L1536.0 929.1L1536.5 929.0L1537.0 928.9L1537.5 929.0L1538.0 929.7L1538.5 928.7L1539.0 929.6L1539.5 929.9L1540.0 928.7L1540.5 929.2L1541.0 929.3L1541.5 930.4L1542.0 929.3L1542.5 928.4L1543.0 930.2L1543.5 927.6L1544.0 930.1L1544.5 930.1L1545.0 929.6L1545.5 929.9L1546.0 929.5L1546.5 929.9L1547.0 927.7L1547.5 929.7L1548.0 928.8L1548.5 928.1L1549.0 928.7L1549.5 928.8L1550.0 929.9L1550.5 928.9L1551.0 929.2L1551.5 930.5L1552.0 930.4L1552.5 928.5L1553.0 928.9L1553.5 930.0L1554.0 930.4L1554.5 929.2L1555.0 929.8L1555.5 930.2L1556.0 928.8L1556.5 930.2L1557.0 929.9L1557.5 928.8L1558.0 930.3L1558.5 930.7L1559.0 929.7L1559.5 929.5L1560.0 931.0L1560.5 929.9L1561.0 929.2L1561.5 930.3L1562.0 930.7L1562.5 929.8L1563.0 928.3L1563.5 929.7L1564.0 928.8L1564.5 931.5L1565.0 929.6L1565.5 931.2L1566.0 930.3L1566.5 930.4L1567.0 930.2L1567.5 931.1L1568.0 929.6L1568.5 929.9L1569.0 929.9L1569.5 930.7L1570.0 929.6L1570.5 930.6L1571.0 931.3L1571.5 929.8L1572.0 931.2L1572.5 930.5L1573.0 930.2L1573.5 930.5L1574.0 930.4L1574.5 930.7L1575.0 930.2L1575.5 929.2L1576.0 930.8L1576.5 931.1L1577.0 930.5L1577.5 931.0L1578.0 929.9L1578.5 932.3L1579.0 930.5L1579.5 931.0L1580.0 930.6L1580.5 930.3L1581.0 929.7L1581.5 932.0L1582.0 930.8L1582.5 930.6L1583.0 931.7L1583.5 931.4L1584.0 929.6L1584.5 931.4L1585.0 931.9L1585.5 931.1L1586.0 929.9L1586.5 930.6L1587.0 930.5L1587.5 930.2L1588.0 931.6L1588.5 931.7L1589.0 929.4L1589.5 930.3L1590.0 930.0L1590.5 931.0L1591.0 930.7L1591.5 929.9L1592.0 932.0L1592.5 930.7L1593.0 932.3L1593.5 930.9L1594.0 930.4L1594.5 930.0L1595.0 930.3L1595.5 930.9L1596.0 930.9L1596.5 932.6L1597.0 930.2L1597.5 931.3L1598.0 931.7L1598.5 932.5L1599.0 931.9L1599.5 931.7L1600.0 931.8L1600.5 930.4L1601.0 931.6L1601.5 930.0L1602.0 933.2L1602.5 932.1L1603.0 931.3L1603.5 931.3L1604.0 931.1L1604.5 932.2L1605.0 931.5L1605.5 931.2L1606.0 930.7L1606.5 931.8L1607.0 931.8L1607.5 930.4L1608.0 931.9L1608.5 931.3L1609.0 932.5L1609.5 932.6L1610.0 931.1L1610.5 932.0L1611.0 932.7L1611.5 930.7L1612.0 932.0L1612.5 930.8L1613.0 932.4L1613.5 930.0L1614.0 932.5L1614.5 931.6L1615.0 932.3L1615.5 933.5L1616.0 932.3L1616.5 931.2L1617.0 930.8L1617.5 932.8L1618.0 930.8L1618.5 930.4L1619.0 932.2L1619.5 933.1L1620.0 932.5L1620.5 933.7L1621.0 933.1L1621.5 932.5L1622.0 932.2L1622.5 932.4L1623.0 932.5L1623.5 933.2L1624.0 932.4L1624.5 930.8L1625.0 930.3L1625.5 931.3L1626.0 931.9L1626.5 930.8L1627.0 932.1L1627.5 932.7L1628.0 933.2L1628.5 931.4L1629.0 931.3L1629.5 930.7L1630.0 931.3L1630.5 931.8L1631.0 933.8L1631.5 929.6L1632.0 932.4L1632.5 932.7L1633.0 933.6L1633.5 934.0L1634.0 932.7L1634.5 930.9L1635.0 931.2L1635.5 932.2L1636.0 931.3L1636.5 932.9L1637.0 931.7L1637.5 931.2L1638.0 932.7L1638.5 933.2L1639.0 931.9L1639.5 931.3L1640.0 931.7L1640.5 932.2L1641.0 932.9L1641.5 932.0L1642.0 931.5L1642.5 932.9L1643.0 934.7L1643.5 935.2L1644.0 934.8L1644.5 931.7L1645.0 933.0L1645.5 932.3L1646.0 932.4L1646.5 932.5L1647.0 932.4L1647.5 933.4L1648.0 934.3L1648.5 934.3L1649.0 932.9L1649.5 933.0L1650.0 934.0L1650.5 933.7L1651.0 932.5L1651.5 933.0L1652.0 931.5L1652.5 933.5L1653.0 931.9L1653.5 933.7L1654.0 930.7L1654.5 933.4L1655.0 931.9L1655.5 932.6L1656.0 933.6L1656.5 932.7L1657.0 935.0L1657.5 934.1L1658.0 932.7L1658.5 935.0L1659.0 933.1L1659.5 933.6L1660.0 935.3L1660.5 934.9L1661.0 933.3L1661.5 934.2L1662.0 933.0L1662.5 934.1L1663.0 933.0L1663.5 934.5L1664.0 931.8L1664.5 933.7L1665.0 934.8L1665.5 933.8L1666.0 931.8L1666.5 933.5L1667.0 932.2L1667.5 932.7L1668.0 933.3L1668.5 935.5L1669.0 932.9L1669.5 931.8L1670.0 935.1L1670.5 933.0L1671.0 932.6L1671.5 933.2L1672.0 933.2L1672.5 934.2L1673.0 930.7L1673.5 932.3L1674.0 934.3L1674.5 933.6L1675.0 932.9L1675.5 931.0L1676.0 934.0L1676.5 932.9L1677.0 934.9L1677.5 930.8L1678.0 933.7L1678.5 933.8L1679.0 934.9L1679.5 933.8L1680.0 932.3L1680.5 933.4L1681.0 933.2L1681.5 933.3L1682.0 931.2L1682.5 933.7L1683.0 933.9L1683.5 933.8L1684.0 933.6L1684.5 935.9L1685.0 935.9L1685.5 935.0L1686.0 933.7L1686.5 935.2L1687.0 933.6L1687.5 933.5L1688.0 933.1L1688.5 934.0L1689.0 935.2L1689.5 935.0L1690.0 935.1L1690.5 934.0L1691.0 933.0L1691.5 934.0L1692.0 933.7L1692.5 933.1L1693.0 935.4L1693.5 932.0L1694.0 932.0L1694.5 932.4L1695.0 933.1L1695.5 934.1L1696.0 934.4L1696.5 934.8L1697.0 933.5L1697.5 933.1L1698.0 934.3L1698.5 935.1L1699.0 934.5L1699.5 935.0L1700.0 935.6L1700.5 934.8L1701.0 934.1L1701.5 931.8L1702.0 933.3L1702.5 932.5L1703.0 933.4L1703.5 933.5L1704.0 935.3L1704.5 935.3L1705.0 933.3L1705.5 934.9L1706.0 935.1L1706.5 931.9L1707.0 934.4L1707.5 934.2L1708.0 932.1L1708.5 934.5L1709.0 935.4L1709.5 935.1L1710.0 933.7L1710.5 935.7L1711.0 935.9L1711.5 935.3L1712.0 932.7L1712.5 935.9L1713.0 933.7L1713.5 934.0L1714.0 936.2L1714.5 936.5L1715.0 936.4L1715.5 931.1L1716.0 936.5L1716.5 931.7L1717.0 935.3L1717.5 932.8L1718.0 935.2L1718.5 935.7L1719.0 935.8L1719.5 934.1L1720.0 931.0L1720.5 933.6L1721.0 933.6L1721.5 934.8L1722.0 936.2L1722.5 933.4L1723.0 935.6L1723.5 933.4L1724.0 933.7L1724.5 935.3L1725.0 935.3L1725.5 935.7L1726.0 933.8L1726.5 935.7L1727.0 933.3L1727.5 937.9L1728.0 935.9L1728.5 934.9L1729.0 933.6L1729.5 934.1L1730.0 935.3L1730.5 934.1L1731.0 934.9L1731.5 933.5L1732.0 934.1L1732.5 936.5L1733.0 933.9L1733.5 934.3L1734.0 933.5L1734.5 935.9L1735.0 933.3L1735.5 934.6L1736.0 934.9L1736.5 934.4L1737.0 935.8L1737.5 935.1L1738.0 935.1L1738.5 934.5L1739.0 934.4L1739.5 933.8L1740.0 933.8L1740.5 933.8L1741.0 937.6L1741.5 936.0L1742.0 933.5L1742.5 935.0L1743.0 936.5L1743.5 935.1L1744.0 937.7L1744.5 933.5L1745.0 935.2L1745.5 932.3L1746.0 937.1L1746.5 934.0L1747.0 935.4L1747.5 936.7L1748.0 934.8L1748.5 934.4L1749.0 934.0L1749.5 937.6L1750.0 938.0L1750.5 934.6L1751.0 937.7L1751.5 934.2L1752.0 931.8L1752.5 934.2L1753.0 934.2L1753.5 935.5L1754.0 935.8L1754.5 934.0L1755.0 933.9L1755.5 934.6L1756.0 931.5L1756.5 935.8L1757.0 936.6L1757.5 934.8L1758.0 932.5L1758.5 934.5L1759.0 933.5L1759.5 934.1L1760.0 937.4L1760.5 934.4L1761.0 933.7L1761.5 936.0L1762.0 932.9L1762.5 937.5L1763.0 935.5L1763.5 935.5L1764.0 935.7L1764.5 932.6L1765.0 935.8L1765.5 935.2L1766.0 934.8L1766.5 933.8L1767.0 934.6L1767.5 936.8L1768.0 933.6L1768.5 935.4L1769.0 936.4L1769.5 932.8L1770.0 934.1L1770.5 935.7L1771.0 936.8L1771.5 935.2L1772.0 933.8L1772.5 934.8L1773.0 931.7L1773.5 935.7L1774.0 934.3L1774.5 934.2L1775.0 935.0L1775.5 935.3L1776.0 933.0L1776.5 938.4L1777.0 932.9L1777.5 934.7L1778.0 934.7L1778.5 932.1L1779.0 934.3L1779.5 933.3L1780.0 932.4L1780.5 931.8L1781.0 934.8L1781.5 936.0L1782.0 935.7L1782.5 934.3L1783.0 935.5L1783.5 931.0L1784.0 935.0L1784.5 933.5L1785.0 935.4L1785.5 935.6L1786.0 935.1L1786.5 934.1L1787.0 933.8L1787.5 937.4L1788.0 933.5L1788.5 935.3L1789.0 936.0L1789.5 937.3L1790.0 932.4L1790.5 934.5L1791.0 932.1L1791.5 933.6L1792.0 935.9L1792.5 931.9L1793.0 934.7L1793.5 934.1L1794.0 935.9L1794.5 934.3L1795.0 934.5L1795.5 933.8L1796.0 936.2L1796.5 935.7L1797.0 934.9L1797.5 929.9L1798.0 935.7L1798.5 933.0L1799.0 935.8L1799.5 935.2L1800.0 935.6L1800.5 933.6L1801.0 934.8L1801.5 934.3L1802.0 931.7L1802.5 934.8L1803.0 933.0L1803.5 934.4L1804.0 936.1L1804.5 936.6L1805.0 935.0L1805.5 934.7L1806.0 934.1L1806.5 932.6L1807.0 935.3L1807.5 935.1L1808.0 933.4L1808.5 935.4L1809.0 932.2L1809.5 935.0L1810.0 932.9L1810.5 932.9L1811.0 932.8L1811.5 933.4L1812.0 932.5L1812.5 934.7L1813.0 934.4L1813.5 939.3L1814.0 930.8L1814.5 933.4L1815.0 935.9L1815.5 937.0L1816.0 933.9L1816.5 935.9L1817.0 933.6L1817.5 935.8L1818.0 933.1L1818.5 931.9L1819.0 934.5L1819.5 933.8L1820.0 934.3L1820.5 933.4L1821.0 931.0L1821.5 933.3L1822.0 933.2L1822.5 931.8L1823.0 932.7L1823.5 933.8L1824.0 934.2L1824.5 932.3L1825.0 931.8L1825.5 932.7L1826.0 932.7L1826.5 933.4L1827.0 937.3L1827.5 933.1L1828.0 930.1L1828.5 936.9L1829.0 933.8L1829.5 933.0L1830.0 935.1L1830.5 932.7L1831.0 936.8L1831.5 934.1L1832.0 934.2L1832.5 932.8L1833.0 934.5L1833.5 933.5L1834.0 932.9L1834.5 933.4L1835.0 931.8L1835.5 935.1L1836.0 936.7L1836.5 931.6L1837.0 932.5L1837.5 934.8L1838.0 931.3L1838.3 932.2L1838.6 943.0L1838.9 932.2L1839.0 934.8L1839.5 933.6L1840.0 934.4L1840.5 929.6L1841.0 936.0L1841.5 933.8L1842.0 933.4L1842.5 938.1L1843.0 935.7L1843.5 930.5L1844.0 937.6L1844.5 932.4L1845.0 933.6L1845.5 931.3L1846.0 937.3L1846.5 934.0L1847.0 934.5L1847.5 936.1L1848.0 933.9L1848.5 929.1L1849.0 937.0L1849.5 933.0L1850.0 930.7L1850.5 933.1L1851.0 933.1L1851.5 932.6L1852.0 933.5L1852.5 934.8L1853.0 938.0L1853.5 935.7L1854.0 933.7L1854.5 938.5L1855.0 934.0L1855.5 939.1L1856.0 934.0L1856.5 930.0L1857.0 936.8L1857.5 933.4L1858.0 933.2L1858.5 933.2L1859.0 933.7L1859.5 935.3L1860.0 933.4L1860.5 930.7L1861.0 934.5L1861.5 934.8L1862.0 932.8L1862.5 934.7L1863.0 935.2L1863.5 929.4L1864.0 929.0L1864.5 931.6L1865.0 935.5L1865.5 929.6L1866.0 936.6L1866.5 932.0L1867.0 934.4L1867.5 932.4L1868.0 932.2L1868.5 932.7L1869.0 931.5L1869.5 930.6L1870.0 931.8L1870.5 932.5L1871.0 932.2L1871.5 929.6L1872.0 931.5L1872.5 932.2L1873.0 934.9L1873.5 934.8L1874.0 933.4L1874.5 933.5L1875.0 930.0L1875.5 931.7L1876.0 935.0L1876.1 934.2L1876.4 921.6L1876.7 934.2L1876.9 936.3L1877.2 945.0L1877.5 936.3L1877.5 938.4L1878.0 937.4L1878.5 931.5L1879.0 931.2L1879.5 931.7L1880.0 936.4L1880.5 933.9L1881.0 932.0L1881.5 930.2L1882.0 932.5L1882.5 932.0L1883.0 936.1L1883.5 939.3L1884.0 929.0L1884.5 929.0L1885.0 934.9L1885.5 934.7L1886.0 931.0L1886.5 933.4L1887.0 933.5L1887.5 929.5L1888.0 934.8L1888.5 930.9L1889.0 933.2L1889.5 936.2L1890.0 929.5L1890.5 935.0L1891.0 934.5L1891.5 936.8L1892.0 930.0L1892.5 933.7L1893.0 928.0L1893.5 932.1L1894.0 936.3L1894.5 938.1L1895.0 934.5L1895.5 929.8L1896.0 927.6L1896.5 933.7L1897.0 930.5L1897.5 933.5L1898.0 933.0L1898.5 932.7L1899.0 937.0L1899.5 928.0L1900.0 931.7L1900.5 934.8L1901.0 936.7L1901.5 929.4L1902.0 928.4L1902.5 930.7L1903.0 927.2L1903.5 928.5L1904.0 936.0L1904.5 929.7L1905.0 928.0L1905.5 930.7L1906.0 932.1L1906.5 929.5L1907.0 931.9L1907.5 934.5L1908.0 933.9L1908.5 931.0L1909.0 935.2L1909.5 936.5L1910.0 933.2L1910.5 925.8L1911.0 934.7L1911.5 930.1L1912.0 934.1L1912.5 929.7L1913.0 929.3L1913.5 930.0L1914.0 930.1L1914.5 936.8L1915.0 929.5L1915.5 929.8L1916.0 931.5L1916.5 927.7L1917.0 929.7L1917.5 928.0L1918.0 934.2L1918.5 926.8L1919.0 930.5L1919.5 931.5L1920.0 934.8L1920.5 933.7L1921.0 931.8L1921.5 927.9L1922.0 938.4L1922.5 935.4L1923.0 932.5L1923.5 926.6L1924.0 929.1L1924.5 927.3L1925.0 927.2L1925.5 928.5L1926.0 926.0L1926.5 926.4L1927.0 928.9L1927.5 929.3L1928.0 924.2L1928.5 929.2L1929.0 935.1L1929.5 929.5L1930.0 928.5L1930.5 928.6L1931.0 937.2L1931.5 933.1L1932.0 933.1L1932.5 932.3L1933.0 930.5L1933.5 936.5L1934.0 929.5L1934.5 923.5L1935.0 932.0L1935.5 933.1L1936.0 931.2L1936.5 932.5L1937.0 931.8L1937.5 931.4L1938.0 937.1L1938.5 934.9L1939.0 932.6L1939.5 931.0L1940.0 929.2L1940.5 926.8"/>
</g>
<g fill="#000" filter="url(#bin)">
<text transform="translate(286.3 1399.1) scale(1 1.054)" text-anchor="end" font-size="54.5">0.0</text>
<text transform="translate(286.3 960.9) scale(1 1.054)" text-anchor="end" font-size="54.5">0.5</text>
<text transform="translate(286.3 522.6) scale(1 1.054)" text-anchor="end" font-size="54.5">1.0</text>
<text transform="translate(286.3 84.3) scale(1 1.054)" text-anchor="end" font-size="54.5">1.5</text>
<text transform="translate(586.0 1469.8) scale(1.01 1.054)" text-anchor="middle" font-size="54.5">0.2</text>
<text transform="translate(927.8 1469.8) scale(1.01 1.054)" text-anchor="middle" font-size="54.5">0.4</text>
<text transform="translate(1269.5 1469.8) scale(1.01 1.054)" text-anchor="middle" font-size="54.5">0.6</text>
<text transform="translate(1611.3 1469.8) scale(1.01 1.054)" text-anchor="middle" font-size="54.5">0.8</text>
<text transform="translate(1953.0 1469.8) scale(1.01 1.054)" text-anchor="middle" font-size="54.5">1.0</text>
<text transform="translate(963 1575.3)" font-size="68">energy (eV)</text>
<text transform="translate(94 883.5) rotate(-90)" font-size="68">absorption</text>
<text transform="translate(702.7 439) scale(1 1.03)" font-size="68">SmCoO3</text>
<text transform="translate(913.6 691) scale(1 1.03)" font-size="68">NdCoO3</text>
<text transform="translate(1092.2 1069.8) scale(1 1.03)" font-size="68">GdCoO3</text>
</g>
<g fill="#fff">
<rect x="213.69" y="517.96" width="10.55" height="5.19"/>
<rect x="229.06" y="517.96" width="10.13" height="5.19"/>
<rect x="213.69" y="79.66" width="10.55" height="5.19"/>
<rect x="229.06" y="79.66" width="10.13" height="5.19"/>
<rect x="1917.92" y="1465.16" width="10.66" height="5.19"/>
<rect x="1933.45" y="1465.16" width="10.23" height="5.19"/>
</g>
</svg>
</body></html>
